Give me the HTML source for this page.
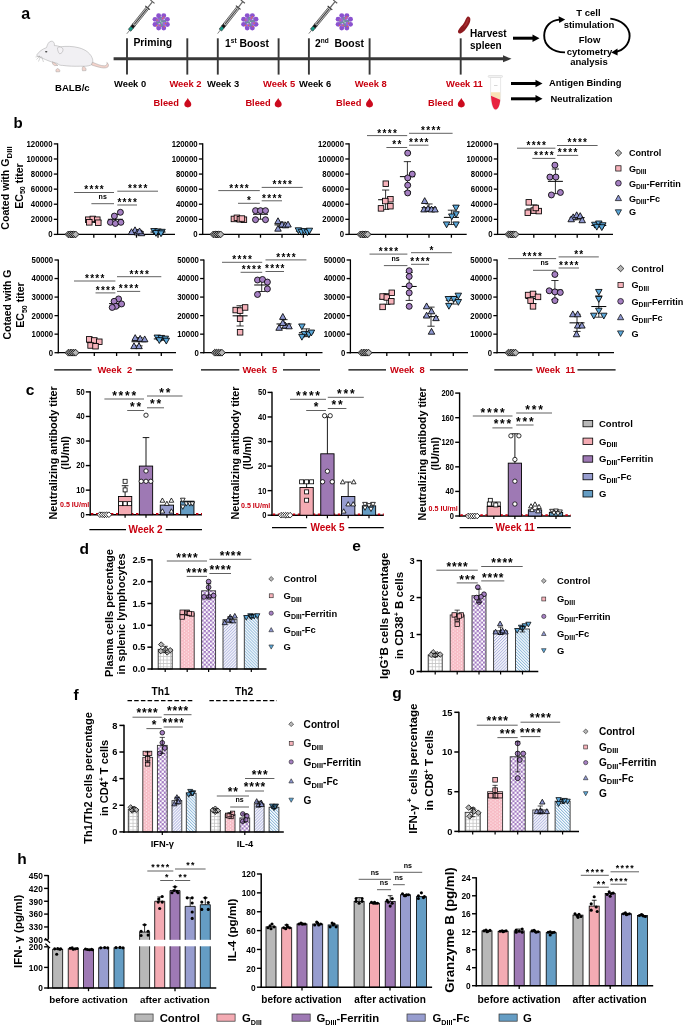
<!DOCTYPE html>
<html><head><meta charset="utf-8"><style>
html,body{margin:0;padding:0;background:#fff;width:685px;height:1025px;overflow:hidden;}
svg{display:block;will-change:transform;}
text{font-family:"Liberation Sans",sans-serif;}
</style></head><body>
<svg width="685" height="1025" viewBox="0 0 685 1025" font-family="Liberation Sans, sans-serif">
<rect x="0" y="0" width="685" height="1025" fill="#fff"/>
<defs>
<pattern id="pC" width="3.4" height="3.4" patternUnits="userSpaceOnUse"><rect width="3.4" height="3.4" fill="#fff"/><path d="M0,0.4 H3.4 M0.4,0 V3.4" stroke="#c2c2c2" stroke-width="0.8"/></pattern>
<pattern id="pGD" width="4.2" height="3.2" patternUnits="userSpaceOnUse"><rect width="4.2" height="3.2" fill="#fde3e7"/><rect x="0" y="0.3" width="3.3" height="0.95" fill="#f4a2af"/><rect x="2.1" y="1.9" width="3.3" height="0.95" fill="#f4a2af"/><rect x="-2.1" y="1.9" width="3.3" height="0.95" fill="#f4a2af"/></pattern>
<pattern id="pF" width="4.2" height="4.2" patternUnits="userSpaceOnUse"><rect width="4.2" height="4.2" fill="#a077c0"/><rect x="0" y="0" width="2.1" height="2.1" fill="#fff"/><rect x="2.1" y="2.1" width="2.1" height="2.1" fill="#fff"/></pattern>
<pattern id="pFc" width="2.1" height="2.1" patternUnits="userSpaceOnUse" patternTransform="rotate(45)"><rect width="2.1" height="2.1" fill="#fdfdff"/><path d="M0.5,0 V2.1" stroke="#9ba1d6" stroke-width="0.75"/></pattern>
<pattern id="pG" width="2.1" height="2.1" patternUnits="userSpaceOnUse" patternTransform="rotate(-45)"><rect width="2.1" height="2.1" fill="#fbfdff"/><path d="M0.5,0 V2.1" stroke="#74a9d2" stroke-width="0.75"/></pattern>
</defs>
<text x="21.2" y="18.8" font-size="16" text-anchor="start" fill="#000" font-weight="bold" >a</text>
<g stroke="#9a9a9a" stroke-width="0.45" stroke-linejoin="round">
<path d="M37,54.6 C39,51.5 42.5,49 46.5,47.6 C47.5,44.5 48.5,41.5 51.2,41.2 C53.5,41 54.8,43 54.4,45.6 C56.5,45.5 58.5,46.2 60.5,46.8 C66,46 73,46.2 79,47.8 C86,49.6 91.2,54 92.6,59.2 C93.3,62 92.5,64.3 90.5,65.2 C87.5,66.4 84,66.3 80.5,66.2 C75,66.4 68,66.2 62.5,65.4 C60,65.6 58.6,64.6 57.4,63.4 C53,62.6 49,61.2 45.5,59.6 C42.5,58.2 39.2,57 37.3,56 C36.6,55.6 36.6,55 37,54.6 Z" fill="#f1f0f3"/>
<path d="M57.5,47.8 C59.5,46.2 62.5,47 63,49.5 C63.2,51.8 61.5,53.6 59.6,53.8 C58.2,52.5 57.5,50 57.5,47.8 Z" fill="#f5f3f6"/>
<path d="M52.5,61.8 C54.5,62.8 56.5,64 58,65.4 L54.5,65.6 C53,64.8 52,63.5 52.5,61.8 Z" fill="#f2d4cc"/>
<path d="M57.5,68.5 C59.5,69 60.5,70.8 59.6,71.8 L56,71.8 C55.4,70.4 56.2,69 57.5,68.5 Z" fill="#f2d4cc"/>
<path d="M83,66.4 C85,66.6 86.6,68.5 86,70.6 L82.5,70.8 C82,69.2 82.2,67.6 83,66.4 Z" fill="#f2d4cc"/>
<path d="M92.4,62.2 C97,64 101,66 104.5,65.8 C106.5,65.6 107.5,64 106.8,62.4 C108.6,63.6 109.2,65.8 107.6,67.2 C104.5,69 99.5,67.5 91.5,65 Z" fill="#f3d3cb"/>
</g>
<ellipse cx="46.2" cy="51.8" rx="1.2" ry="0.8" fill="#444"/>
<g stroke="#888" stroke-width="0.35" fill="none"><path d="M40,56 L36.5,59.5 M40.5,56.5 L38.5,61.5 M41.5,56.5 L43.5,62 M40,56 L35.5,57"/></g>
<text x="55" y="90.7" font-size="9.6" text-anchor="start" fill="#000" font-weight="bold" >BALB/c</text>
<line x1="113.6" y1="58.8" x2="504" y2="58.8" stroke="#383838" stroke-width="3" />
<polygon points="503,55.3 511.5,58.8 503,62.3" fill="#383838" stroke="none" stroke-width="0"/>
<line x1="127" y1="38.3" x2="127" y2="74.6" stroke="#383838" stroke-width="1.9" />
<line x1="187.3" y1="38.3" x2="187.3" y2="74.6" stroke="#383838" stroke-width="1.9" />
<line x1="217.8" y1="38.3" x2="217.8" y2="74.6" stroke="#383838" stroke-width="1.9" />
<line x1="278.6" y1="38.3" x2="278.6" y2="74.6" stroke="#383838" stroke-width="1.9" />
<line x1="308.9" y1="38.3" x2="308.9" y2="74.6" stroke="#383838" stroke-width="1.9" />
<line x1="369.6" y1="38.3" x2="369.6" y2="74.6" stroke="#383838" stroke-width="1.9" />
<line x1="460.7" y1="38.3" x2="460.7" y2="74.6" stroke="#383838" stroke-width="1.9" />
<text x="114" y="87" font-size="9.4" text-anchor="start" fill="#000" font-weight="bold" >Week 0</text>
<text x="169.4" y="87" font-size="9.4" text-anchor="start" fill="#c8000f" font-weight="bold" >Week 2</text>
<text x="207" y="87" font-size="9.4" text-anchor="start" fill="#000" font-weight="bold" >Week 3</text>
<text x="263" y="87" font-size="9.4" text-anchor="start" fill="#c8000f" font-weight="bold" >Week 5</text>
<text x="299" y="87" font-size="9.4" text-anchor="start" fill="#000" font-weight="bold" >Week 6</text>
<text x="354.7" y="87" font-size="9.4" text-anchor="start" fill="#c8000f" font-weight="bold" >Week 8</text>
<text x="446" y="87" font-size="9.4" text-anchor="start" fill="#c8000f" font-weight="bold" >Week 11</text>
<text x="153.6" y="105.9" font-size="9.3" text-anchor="start" fill="#c8000f" font-weight="bold" >Bleed</text>
<path d="M187.8,98 C188.4,100 191.3,102.05 191.3,104.12 A3.5,3.32 0 0 1 184.3,104.12 C184.3,102.05 187.2,100 187.8,98 Z" fill="#cc0a1e"/>
<text x="245.4" y="105.9" font-size="9.3" text-anchor="start" fill="#c8000f" font-weight="bold" >Bleed</text>
<path d="M278.2,98 C278.8,100 281.7,102.05 281.7,104.12 A3.5,3.32 0 0 1 274.7,104.12 C274.7,102.05 277.6,100 278.2,98 Z" fill="#cc0a1e"/>
<text x="336" y="105.9" font-size="9.3" text-anchor="start" fill="#c8000f" font-weight="bold" >Bleed</text>
<path d="M369.5,98 C370.1,100 373,102.05 373,104.12 A3.5,3.32 0 0 1 366,104.12 C366,102.05 368.9,100 369.5,98 Z" fill="#cc0a1e"/>
<text x="428" y="105.9" font-size="9.3" text-anchor="start" fill="#c8000f" font-weight="bold" >Bleed</text>
<path d="M461.3,98 C461.9,100 464.8,102.05 464.8,104.12 A3.5,3.32 0 0 1 457.8,104.12 C457.8,102.05 460.7,100 461.3,98 Z" fill="#cc0a1e"/>
<text x="133.4" y="46.3" font-size="10.4" text-anchor="start" fill="#000" font-weight="bold" >Priming</text>
<text x="225" y="47" font-size="10.4" text-anchor="start" fill="#000" font-weight="bold" >1<tspan font-size="6.5" dy="-3.6">st</tspan><tspan dy="3.6"> Boost</tspan></text>
<text x="315" y="47" font-size="10.4" text-anchor="start" fill="#000" font-weight="bold" >2<tspan font-size="6.5" dy="-3.6">nd</tspan><tspan dy="3.6">&#160; Boost</tspan></text>
<g transform="translate(126.8,33.8) rotate(-51.34)"><line x1="0" y1="0" x2="5" y2="0" stroke="#444" stroke-width="0.6"/><rect x="4.5" y="-1.6" width="4" height="3.2" fill="#149a86" stroke="#222" stroke-width="0.5"/><rect x="8.5" y="-1.6" width="3" height="3.2" fill="#111" stroke="#111" stroke-width="0.5"/><rect x="11" y="-1.6" width="22" height="3.2" fill="#d9d9d9" stroke="#222" stroke-width="0.6"/><line x1="12" y1="0" x2="32" y2="0" stroke="#444" stroke-width="1.1"/><line x1="33.3" y1="-3" x2="33.3" y2="3" stroke="#333" stroke-width="1"/><line x1="33.5" y1="0" x2="40.62" y2="0" stroke="#666" stroke-width="1.2"/><line x1="41.12" y1="-2.6" x2="41.12" y2="2.6" stroke="#555" stroke-width="1.1"/></g>
<g transform="translate(217.6,33.6) rotate(-51.69)"><line x1="0" y1="0" x2="5" y2="0" stroke="#444" stroke-width="0.6"/><rect x="4.5" y="-1.6" width="4" height="3.2" fill="#149a86" stroke="#222" stroke-width="0.5"/><rect x="8.5" y="-1.6" width="3" height="3.2" fill="#111" stroke="#111" stroke-width="0.5"/><rect x="11" y="-1.6" width="22" height="3.2" fill="#d9d9d9" stroke="#222" stroke-width="0.6"/><line x1="12" y1="0" x2="32" y2="0" stroke="#444" stroke-width="1.1"/><line x1="33.3" y1="-3" x2="33.3" y2="3" stroke="#333" stroke-width="1"/><line x1="33.5" y1="0" x2="40.29" y2="0" stroke="#666" stroke-width="1.2"/><line x1="40.79" y1="-2.6" x2="40.79" y2="2.6" stroke="#555" stroke-width="1.1"/></g>
<g transform="translate(308.8,33.6) rotate(-50.51)"><line x1="0" y1="0" x2="5" y2="0" stroke="#444" stroke-width="0.6"/><rect x="4.5" y="-1.6" width="4" height="3.2" fill="#149a86" stroke="#222" stroke-width="0.5"/><rect x="8.5" y="-1.6" width="3" height="3.2" fill="#111" stroke="#111" stroke-width="0.5"/><rect x="11" y="-1.6" width="22" height="3.2" fill="#d9d9d9" stroke="#222" stroke-width="0.6"/><line x1="12" y1="0" x2="32" y2="0" stroke="#444" stroke-width="1.1"/><line x1="33.3" y1="-3" x2="33.3" y2="3" stroke="#333" stroke-width="1"/><line x1="33.5" y1="0" x2="40.98" y2="0" stroke="#666" stroke-width="1.2"/><line x1="41.48" y1="-2.6" x2="41.48" y2="2.6" stroke="#555" stroke-width="1.1"/></g>
<g transform="translate(161.2,21.9)"><circle r="5.2" fill="#6f8f9e"/><circle cx="6.19" cy="2.56" r="2.45" fill="#8b52cf"/><circle cx="2.56" cy="6.19" r="2.45" fill="#8b52cf"/><circle cx="-2.56" cy="6.19" r="2.45" fill="#8b52cf"/><circle cx="-6.19" cy="2.56" r="2.45" fill="#8b52cf"/><circle cx="-6.19" cy="-2.56" r="2.45" fill="#8b52cf"/><circle cx="-2.56" cy="-6.19" r="2.45" fill="#8b52cf"/><circle cx="2.56" cy="-6.19" r="2.45" fill="#8b52cf"/><circle cx="6.19" cy="-2.56" r="2.45" fill="#8b52cf"/><circle cx="1.85" cy="-3.2" r="1.9" fill="#9d63dc"/><circle cx="3.2" cy="1.85" r="1.9" fill="#9d63dc"/><circle cx="-1.85" cy="3.2" r="1.9" fill="#9d63dc"/><circle cx="-3.2" cy="-1.85" r="1.9" fill="#9d63dc"/><circle cx="-4.2" cy="-1.8" r="0.75" fill="#e4664f"/><circle cx="1.5" cy="-3.5" r="0.75" fill="#e4664f"/><circle cx="4.4" cy="1.5" r="0.75" fill="#e4664f"/><circle cx="-1.2" cy="3.6" r="0.75" fill="#e4664f"/><circle cx="3.2" cy="4.8" r="0.75" fill="#e4664f"/><circle cx="-4.5" cy="3.8" r="0.75" fill="#e4664f"/><circle cx="2.6" cy="-5" r="0.75" fill="#e4664f"/><circle cx="-0.5" cy="-0.8" r="0.6" fill="#d8e4ea"/><circle cx="0.8" cy="0.9" r="0.6" fill="#d8e4ea"/><circle cx="-2" cy="1.8" r="0.6" fill="#d8e4ea"/><circle cx="3" cy="-2.5" r="0.6" fill="#d8e4ea"/></g>
<g transform="translate(249.8,21.8)"><circle r="5.2" fill="#6f8f9e"/><circle cx="6.19" cy="2.56" r="2.45" fill="#8b52cf"/><circle cx="2.56" cy="6.19" r="2.45" fill="#8b52cf"/><circle cx="-2.56" cy="6.19" r="2.45" fill="#8b52cf"/><circle cx="-6.19" cy="2.56" r="2.45" fill="#8b52cf"/><circle cx="-6.19" cy="-2.56" r="2.45" fill="#8b52cf"/><circle cx="-2.56" cy="-6.19" r="2.45" fill="#8b52cf"/><circle cx="2.56" cy="-6.19" r="2.45" fill="#8b52cf"/><circle cx="6.19" cy="-2.56" r="2.45" fill="#8b52cf"/><circle cx="1.85" cy="-3.2" r="1.9" fill="#9d63dc"/><circle cx="3.2" cy="1.85" r="1.9" fill="#9d63dc"/><circle cx="-1.85" cy="3.2" r="1.9" fill="#9d63dc"/><circle cx="-3.2" cy="-1.85" r="1.9" fill="#9d63dc"/><circle cx="-4.2" cy="-1.8" r="0.75" fill="#e4664f"/><circle cx="1.5" cy="-3.5" r="0.75" fill="#e4664f"/><circle cx="4.4" cy="1.5" r="0.75" fill="#e4664f"/><circle cx="-1.2" cy="3.6" r="0.75" fill="#e4664f"/><circle cx="3.2" cy="4.8" r="0.75" fill="#e4664f"/><circle cx="-4.5" cy="3.8" r="0.75" fill="#e4664f"/><circle cx="2.6" cy="-5" r="0.75" fill="#e4664f"/><circle cx="-0.5" cy="-0.8" r="0.6" fill="#d8e4ea"/><circle cx="0.8" cy="0.9" r="0.6" fill="#d8e4ea"/><circle cx="-2" cy="1.8" r="0.6" fill="#d8e4ea"/><circle cx="3" cy="-2.5" r="0.6" fill="#d8e4ea"/></g>
<g transform="translate(344.3,21.8)"><circle r="5.2" fill="#6f8f9e"/><circle cx="6.19" cy="2.56" r="2.45" fill="#8b52cf"/><circle cx="2.56" cy="6.19" r="2.45" fill="#8b52cf"/><circle cx="-2.56" cy="6.19" r="2.45" fill="#8b52cf"/><circle cx="-6.19" cy="2.56" r="2.45" fill="#8b52cf"/><circle cx="-6.19" cy="-2.56" r="2.45" fill="#8b52cf"/><circle cx="-2.56" cy="-6.19" r="2.45" fill="#8b52cf"/><circle cx="2.56" cy="-6.19" r="2.45" fill="#8b52cf"/><circle cx="6.19" cy="-2.56" r="2.45" fill="#8b52cf"/><circle cx="1.85" cy="-3.2" r="1.9" fill="#9d63dc"/><circle cx="3.2" cy="1.85" r="1.9" fill="#9d63dc"/><circle cx="-1.85" cy="3.2" r="1.9" fill="#9d63dc"/><circle cx="-3.2" cy="-1.85" r="1.9" fill="#9d63dc"/><circle cx="-4.2" cy="-1.8" r="0.75" fill="#e4664f"/><circle cx="1.5" cy="-3.5" r="0.75" fill="#e4664f"/><circle cx="4.4" cy="1.5" r="0.75" fill="#e4664f"/><circle cx="-1.2" cy="3.6" r="0.75" fill="#e4664f"/><circle cx="3.2" cy="4.8" r="0.75" fill="#e4664f"/><circle cx="-4.5" cy="3.8" r="0.75" fill="#e4664f"/><circle cx="2.6" cy="-5" r="0.75" fill="#e4664f"/><circle cx="-0.5" cy="-0.8" r="0.6" fill="#d8e4ea"/><circle cx="0.8" cy="0.9" r="0.6" fill="#d8e4ea"/><circle cx="-2" cy="1.8" r="0.6" fill="#d8e4ea"/><circle cx="3" cy="-2.5" r="0.6" fill="#d8e4ea"/></g>
<path d="M469.5,17.2 C471,18.5 470.5,22 468.3,25.5 C466.2,29 463.5,32.5 460.5,33.4 C458.6,33.9 457.4,32.6 458.2,30.6 C459.4,27.6 462.5,25.8 464.2,22.6 C465.5,20 466.2,17.6 467.4,16.8 C468.2,16.3 469,16.6 469.5,17.2 Z" fill="#8e1a1f"/>
<path d="M468.6,18.5 C469.2,20 467.8,23 466.4,25 C465.2,26.5 464,27.2 463.6,26.6 C464.8,24.5 466.2,22.5 467,20 C467.4,18.8 468,18 468.6,18.5 Z" fill="#b23a3a" opacity="0.7"/>
<text x="470" y="37" font-size="10" text-anchor="start" fill="#000" font-weight="bold" >Harvest</text>
<text x="470" y="49" font-size="10" text-anchor="start" fill="#000" font-weight="bold" >spleen</text>
<line x1="513" y1="38.2" x2="533.5" y2="38.2" stroke="#000" stroke-width="3" />
<polygon points="532.5,34.4 539.5,38.2 532.5,42" fill="#000" stroke="none" stroke-width="0"/>
<line x1="511" y1="83.5" x2="536.5" y2="83.5" stroke="#000" stroke-width="3" />
<polygon points="535.5,79.7 542.5,83.5 535.5,87.3" fill="#000" stroke="none" stroke-width="0"/>
<line x1="511" y1="98.8" x2="536.5" y2="98.8" stroke="#000" stroke-width="3" />
<polygon points="535.5,95 542.5,98.8 535.5,102.6" fill="#000" stroke="none" stroke-width="0"/>
<path d="M565,52.4 C552,52.2 544,45 544.2,35.5 C544.4,26 551,20.2 559.5,19.6" fill="none" stroke="#000" stroke-width="1.9"/>
<polygon points="558.6,16.3 565.2,19.4 559.2,23" fill="#000" stroke="none" stroke-width="0"/>
<path d="M610.3,18.6 C621.5,20 629.8,27 629.6,36 C629.4,44.5 623,50.5 615.5,52" fill="none" stroke="#000" stroke-width="1.9"/>
<polygon points="617.5,48.6 611.2,52.4 617.6,55.6" fill="#000" stroke="none" stroke-width="0"/>
<text x="588.5" y="16.3" font-size="9.5" text-anchor="middle" fill="#000" font-weight="bold" >T cell</text>
<text x="589" y="27.9" font-size="9.5" text-anchor="middle" fill="#000" font-weight="bold" >stimulation</text>
<text x="589.5" y="43" font-size="9.5" text-anchor="middle" fill="#000" font-weight="bold" >Flow</text>
<text x="589.5" y="55.2" font-size="9.5" text-anchor="middle" fill="#000" font-weight="bold" >cytometry</text>
<text x="589" y="64.9" font-size="9.5" text-anchor="middle" fill="#000" font-weight="bold" >analysis</text>
<path d="M490.6,77.4 L490.6,95 C490.6,101 492.8,109.8 495.6,109.8 C498.4,109.8 500.6,101 500.6,95 L500.6,77.4 Z" fill="#fff" stroke="#d8d8d8" stroke-width="0.6"/>
<path d="M491,92.2 L500.2,92.2 L500.2,99.8 L491,95.8 Z" fill="#f9e3b6"/>
<path d="M491,95.8 L500.2,99.8 C500,104 498.5,109.6 495.6,109.6 C492.8,109.6 491.2,102 491,95.8 Z" fill="#e8223f"/>
<rect x="488.2" y="75.5" width="14.3" height="1.9" fill="#f4f4f4" stroke="#d0d0d0" stroke-width="0.5" rx="0.8"/>
<line x1="494" y1="85.5" x2="497.5" y2="85.5" stroke="#999" stroke-width="0.4" />
<text x="549" y="85.8" font-size="9.4" text-anchor="start" fill="#000" font-weight="bold" >Antigen Binding</text>
<text x="550.5" y="102" font-size="9.4" text-anchor="start" fill="#000" font-weight="bold" >Neutralization</text>
<text x="13.4" y="128" font-size="15" text-anchor="start" fill="#000" font-weight="bold" >b</text>
<line x1="57.6" y1="143.3" x2="57.6" y2="235.05" stroke="#000" stroke-width="1.3" />
<line x1="53.8" y1="234.4" x2="57.6" y2="234.4" stroke="#000" stroke-width="1.3" />
<text transform="translate(52.5 237.31) scale(0.95 1)" font-size="8.2" text-anchor="end" fill="#000" font-weight="bold" >0</text>
<line x1="53.8" y1="219.32" x2="57.6" y2="219.32" stroke="#000" stroke-width="1.3" />
<text transform="translate(52.5 222.23) scale(0.95 1)" font-size="8.2" text-anchor="end" fill="#000" font-weight="bold" >20000</text>
<line x1="53.8" y1="204.23" x2="57.6" y2="204.23" stroke="#000" stroke-width="1.3" />
<text transform="translate(52.5 207.14) scale(0.95 1)" font-size="8.2" text-anchor="end" fill="#000" font-weight="bold" >40000</text>
<line x1="53.8" y1="189.15" x2="57.6" y2="189.15" stroke="#000" stroke-width="1.3" />
<text transform="translate(52.5 192.06) scale(0.95 1)" font-size="8.2" text-anchor="end" fill="#000" font-weight="bold" >60000</text>
<line x1="53.8" y1="174.07" x2="57.6" y2="174.07" stroke="#000" stroke-width="1.3" />
<text transform="translate(52.5 176.98) scale(0.95 1)" font-size="8.2" text-anchor="end" fill="#000" font-weight="bold" >80000</text>
<line x1="53.8" y1="158.98" x2="57.6" y2="158.98" stroke="#000" stroke-width="1.3" />
<text transform="translate(52.5 161.89) scale(0.95 1)" font-size="8.2" text-anchor="end" fill="#000" font-weight="bold" >100000</text>
<line x1="53.8" y1="143.9" x2="57.6" y2="143.9" stroke="#000" stroke-width="1.3" />
<text transform="translate(52.5 146.81) scale(0.95 1)" font-size="8.2" text-anchor="end" fill="#000" font-weight="bold" >120000</text>
<line x1="56.95" y1="234.4" x2="175" y2="234.4" stroke="#000" stroke-width="1.3" />
<line x1="72" y1="234.4" x2="72" y2="237.7" stroke="#000" stroke-width="1.3" />
<line x1="93.8" y1="234.4" x2="93.8" y2="237.7" stroke="#000" stroke-width="1.3" />
<line x1="115.4" y1="234.4" x2="115.4" y2="237.7" stroke="#000" stroke-width="1.3" />
<line x1="136.5" y1="234.4" x2="136.5" y2="237.7" stroke="#000" stroke-width="1.3" />
<line x1="158" y1="234.4" x2="158" y2="237.7" stroke="#000" stroke-width="1.3" />
<line x1="93.8" y1="218.95" x2="93.8" y2="222.39" stroke="#000" stroke-width="0.8" />
<line x1="90.2" y1="218.95" x2="97.4" y2="218.95" stroke="#000" stroke-width="0.8" />
<line x1="90.2" y1="222.39" x2="97.4" y2="222.39" stroke="#000" stroke-width="0.8" />
<line x1="86.3" y1="220.67" x2="101.3" y2="220.67" stroke="#000" stroke-width="1" />
<line x1="115.4" y1="214.43" x2="115.4" y2="224.18" stroke="#000" stroke-width="0.8" />
<line x1="111.8" y1="214.43" x2="119" y2="214.43" stroke="#000" stroke-width="0.8" />
<line x1="111.8" y1="224.18" x2="119" y2="224.18" stroke="#000" stroke-width="0.8" />
<line x1="107.9" y1="219.3" x2="122.9" y2="219.3" stroke="#000" stroke-width="1" />
<line x1="136.5" y1="230.76" x2="136.5" y2="233.06" stroke="#000" stroke-width="0.8" />
<line x1="132.9" y1="230.76" x2="140.1" y2="230.76" stroke="#000" stroke-width="0.8" />
<line x1="132.9" y1="233.06" x2="140.1" y2="233.06" stroke="#000" stroke-width="0.8" />
<line x1="129" y1="231.91" x2="144" y2="231.91" stroke="#000" stroke-width="1" />
<line x1="158" y1="231.09" x2="158" y2="233.04" stroke="#000" stroke-width="0.8" />
<line x1="154.4" y1="231.09" x2="161.6" y2="231.09" stroke="#000" stroke-width="0.8" />
<line x1="154.4" y1="233.04" x2="161.6" y2="233.04" stroke="#000" stroke-width="0.8" />
<line x1="150.5" y1="232.06" x2="165.5" y2="232.06" stroke="#000" stroke-width="1" />
<polygon points="68.4,230.99 71.81,234.4 68.4,237.81 64.99,234.4" fill="#b6b6b6" stroke="#000" stroke-width="0.85"/>
<polygon points="70.2,230.99 73.61,234.4 70.2,237.81 66.79,234.4" fill="#b6b6b6" stroke="#000" stroke-width="0.85"/>
<polygon points="72,230.99 75.41,234.4 72,237.81 68.59,234.4" fill="#b6b6b6" stroke="#000" stroke-width="0.85"/>
<polygon points="73.8,230.99 77.21,234.4 73.8,237.81 70.39,234.4" fill="#b6b6b6" stroke="#000" stroke-width="0.85"/>
<polygon points="75.6,230.99 79.01,234.4 75.6,237.81 72.19,234.4" fill="#b6b6b6" stroke="#000" stroke-width="0.85"/>
<rect x="85.54" y="216.93" width="5.52" height="5.52" fill="#f7b3bb" stroke="#000" stroke-width="0.85" />
<rect x="90.04" y="216.18" width="5.52" height="5.52" fill="#f7b3bb" stroke="#000" stroke-width="0.85" />
<rect x="94.54" y="216.93" width="5.52" height="5.52" fill="#f7b3bb" stroke="#000" stroke-width="0.85" />
<rect x="86.54" y="219.57" width="5.52" height="5.52" fill="#f7b3bb" stroke="#000" stroke-width="0.85" />
<rect x="95.54" y="219.95" width="5.52" height="5.52" fill="#f7b3bb" stroke="#000" stroke-width="0.85" />
<circle cx="120.4" cy="212.3" r="2.99" fill="#a57fc2" stroke="#000" stroke-width="0.85"/>
<circle cx="114.4" cy="216.07" r="2.99" fill="#a57fc2" stroke="#000" stroke-width="0.85"/>
<circle cx="110.4" cy="222.33" r="2.99" fill="#a57fc2" stroke="#000" stroke-width="0.85"/>
<circle cx="115.4" cy="223.46" r="2.99" fill="#a57fc2" stroke="#000" stroke-width="0.85"/>
<circle cx="120.9" cy="222.33" r="2.99" fill="#a57fc2" stroke="#000" stroke-width="0.85"/>
<polygon points="135,226.84 138.25,232.69 131.75,232.69" fill="#8f98d1" stroke="#000" stroke-width="0.85"/>
<polygon points="131.5,228.73 134.75,234.58 128.25,234.58" fill="#8f98d1" stroke="#000" stroke-width="0.85"/>
<polygon points="137.5,229.1 140.75,234.95 134.25,234.95" fill="#8f98d1" stroke="#000" stroke-width="0.85"/>
<polygon points="141.5,229.86 144.75,235.71 138.25,235.71" fill="#8f98d1" stroke="#000" stroke-width="0.85"/>
<polygon points="139.5,227.97 142.75,233.82 136.25,233.82" fill="#8f98d1" stroke="#000" stroke-width="0.85"/>
<polygon points="154,234.42 157.25,228.57 150.75,228.57" fill="#5ba7d9" stroke="#000" stroke-width="0.85"/>
<polygon points="158,234.8 161.25,228.95 154.75,228.95" fill="#5ba7d9" stroke="#000" stroke-width="0.85"/>
<polygon points="162,235.17 165.25,229.32 158.75,229.32" fill="#5ba7d9" stroke="#000" stroke-width="0.85"/>
<polygon points="156,236.3 159.25,230.45 152.75,230.45" fill="#5ba7d9" stroke="#000" stroke-width="0.85"/>
<polygon points="161,236.68 164.25,230.83 157.75,230.83" fill="#5ba7d9" stroke="#000" stroke-width="0.85"/>
<line x1="74" y1="192.5" x2="114" y2="192.5" stroke="#444" stroke-width="0.85" />
<text x="94.65" y="193.4" font-size="10" text-anchor="middle" fill="#000" font-weight="bold" letter-spacing="1.3">****</text>
<line x1="91.4" y1="203.7" x2="114" y2="203.7" stroke="#444" stroke-width="0.85" />
<text x="102.7" y="198.8" font-size="7" text-anchor="middle" fill="#000" font-weight="bold" >ns</text>
<line x1="117.3" y1="191.2" x2="158" y2="191.2" stroke="#444" stroke-width="0.85" />
<text x="138.3" y="192.1" font-size="10" text-anchor="middle" fill="#000" font-weight="bold" letter-spacing="1.3">****</text>
<line x1="117.3" y1="205" x2="137" y2="205" stroke="#444" stroke-width="0.85" />
<text x="127.8" y="205.9" font-size="10" text-anchor="middle" fill="#000" font-weight="bold" letter-spacing="1.3">****</text>
<line x1="202.7" y1="143.3" x2="202.7" y2="235.05" stroke="#000" stroke-width="1.3" />
<line x1="198.9" y1="234.4" x2="202.7" y2="234.4" stroke="#000" stroke-width="1.3" />
<text transform="translate(197.6 237.31) scale(0.95 1)" font-size="8.2" text-anchor="end" fill="#000" font-weight="bold" >0</text>
<line x1="198.9" y1="219.32" x2="202.7" y2="219.32" stroke="#000" stroke-width="1.3" />
<text transform="translate(197.6 222.23) scale(0.95 1)" font-size="8.2" text-anchor="end" fill="#000" font-weight="bold" >20000</text>
<line x1="198.9" y1="204.23" x2="202.7" y2="204.23" stroke="#000" stroke-width="1.3" />
<text transform="translate(197.6 207.14) scale(0.95 1)" font-size="8.2" text-anchor="end" fill="#000" font-weight="bold" >40000</text>
<line x1="198.9" y1="189.15" x2="202.7" y2="189.15" stroke="#000" stroke-width="1.3" />
<text transform="translate(197.6 192.06) scale(0.95 1)" font-size="8.2" text-anchor="end" fill="#000" font-weight="bold" >60000</text>
<line x1="198.9" y1="174.07" x2="202.7" y2="174.07" stroke="#000" stroke-width="1.3" />
<text transform="translate(197.6 176.98) scale(0.95 1)" font-size="8.2" text-anchor="end" fill="#000" font-weight="bold" >80000</text>
<line x1="198.9" y1="158.98" x2="202.7" y2="158.98" stroke="#000" stroke-width="1.3" />
<text transform="translate(197.6 161.89) scale(0.95 1)" font-size="8.2" text-anchor="end" fill="#000" font-weight="bold" >100000</text>
<line x1="198.9" y1="143.9" x2="202.7" y2="143.9" stroke="#000" stroke-width="1.3" />
<text transform="translate(197.6 146.81) scale(0.95 1)" font-size="8.2" text-anchor="end" fill="#000" font-weight="bold" >120000</text>
<line x1="202.05" y1="234.4" x2="320" y2="234.4" stroke="#000" stroke-width="1.3" />
<line x1="217" y1="234.4" x2="217" y2="237.7" stroke="#000" stroke-width="1.3" />
<line x1="238.9" y1="234.4" x2="238.9" y2="237.7" stroke="#000" stroke-width="1.3" />
<line x1="260.5" y1="234.4" x2="260.5" y2="237.7" stroke="#000" stroke-width="1.3" />
<line x1="282" y1="234.4" x2="282" y2="237.7" stroke="#000" stroke-width="1.3" />
<line x1="303.4" y1="234.4" x2="303.4" y2="237.7" stroke="#000" stroke-width="1.3" />
<line x1="238.9" y1="218.14" x2="238.9" y2="219.59" stroke="#000" stroke-width="0.8" />
<line x1="235.3" y1="218.14" x2="242.5" y2="218.14" stroke="#000" stroke-width="0.8" />
<line x1="235.3" y1="219.59" x2="242.5" y2="219.59" stroke="#000" stroke-width="0.8" />
<line x1="231.4" y1="218.86" x2="246.4" y2="218.86" stroke="#000" stroke-width="1" />
<line x1="260.5" y1="209.31" x2="260.5" y2="219.22" stroke="#000" stroke-width="0.8" />
<line x1="256.9" y1="209.31" x2="264.1" y2="209.31" stroke="#000" stroke-width="0.8" />
<line x1="256.9" y1="219.22" x2="264.1" y2="219.22" stroke="#000" stroke-width="0.8" />
<line x1="253" y1="214.26" x2="268" y2="214.26" stroke="#000" stroke-width="1" />
<line x1="282" y1="222.21" x2="282" y2="227.58" stroke="#000" stroke-width="0.8" />
<line x1="278.4" y1="222.21" x2="285.6" y2="222.21" stroke="#000" stroke-width="0.8" />
<line x1="278.4" y1="227.58" x2="285.6" y2="227.58" stroke="#000" stroke-width="0.8" />
<line x1="274.5" y1="224.9" x2="289.5" y2="224.9" stroke="#000" stroke-width="1" />
<line x1="303.4" y1="230.38" x2="303.4" y2="231.94" stroke="#000" stroke-width="0.8" />
<line x1="299.8" y1="230.38" x2="307" y2="230.38" stroke="#000" stroke-width="0.8" />
<line x1="299.8" y1="231.94" x2="307" y2="231.94" stroke="#000" stroke-width="0.8" />
<line x1="295.9" y1="231.16" x2="310.9" y2="231.16" stroke="#000" stroke-width="1" />
<polygon points="213.4,230.99 216.81,234.4 213.4,237.81 209.99,234.4" fill="#b6b6b6" stroke="#000" stroke-width="0.85"/>
<polygon points="215.2,230.99 218.61,234.4 215.2,237.81 211.79,234.4" fill="#b6b6b6" stroke="#000" stroke-width="0.85"/>
<polygon points="217,230.99 220.41,234.4 217,237.81 213.59,234.4" fill="#b6b6b6" stroke="#000" stroke-width="0.85"/>
<polygon points="218.8,230.99 222.21,234.4 218.8,237.81 215.39,234.4" fill="#b6b6b6" stroke="#000" stroke-width="0.85"/>
<polygon points="220.6,230.99 224.01,234.4 220.6,237.81 217.19,234.4" fill="#b6b6b6" stroke="#000" stroke-width="0.85"/>
<rect x="231.14" y="216.18" width="5.52" height="5.52" fill="#f7b3bb" stroke="#000" stroke-width="0.85" />
<rect x="234.14" y="215.05" width="5.52" height="5.52" fill="#f7b3bb" stroke="#000" stroke-width="0.85" />
<rect x="237.14" y="216.55" width="5.52" height="5.52" fill="#f7b3bb" stroke="#000" stroke-width="0.85" />
<rect x="241.14" y="216.93" width="5.52" height="5.52" fill="#f7b3bb" stroke="#000" stroke-width="0.85" />
<rect x="239.14" y="215.8" width="5.52" height="5.52" fill="#f7b3bb" stroke="#000" stroke-width="0.85" />
<circle cx="255.5" cy="210.64" r="2.99" fill="#a57fc2" stroke="#000" stroke-width="0.85"/>
<circle cx="260.5" cy="210.64" r="2.99" fill="#a57fc2" stroke="#000" stroke-width="0.85"/>
<circle cx="265.5" cy="210.64" r="2.99" fill="#a57fc2" stroke="#000" stroke-width="0.85"/>
<circle cx="255.5" cy="219.69" r="2.99" fill="#a57fc2" stroke="#000" stroke-width="0.85"/>
<circle cx="265.5" cy="219.69" r="2.99" fill="#a57fc2" stroke="#000" stroke-width="0.85"/>
<polygon points="278,217.79 281.25,223.64 274.75,223.64" fill="#8f98d1" stroke="#000" stroke-width="0.85"/>
<polygon points="278,225.33 281.25,231.18 274.75,231.18" fill="#8f98d1" stroke="#000" stroke-width="0.85"/>
<polygon points="282,221.18 285.25,227.03 278.75,227.03" fill="#8f98d1" stroke="#000" stroke-width="0.85"/>
<polygon points="285.5,221.94 288.75,227.79 282.25,227.79" fill="#8f98d1" stroke="#000" stroke-width="0.85"/>
<polygon points="288,221.18 291.25,227.03 284.75,227.03" fill="#8f98d1" stroke="#000" stroke-width="0.85"/>
<polygon points="298.4,233.66 301.65,227.81 295.15,227.81" fill="#5ba7d9" stroke="#000" stroke-width="0.85"/>
<polygon points="301.4,235.17 304.65,229.32 298.15,229.32" fill="#5ba7d9" stroke="#000" stroke-width="0.85"/>
<polygon points="304.4,234.42 307.65,228.57 301.15,228.57" fill="#5ba7d9" stroke="#000" stroke-width="0.85"/>
<polygon points="307.4,235.55 310.65,229.7 304.15,229.7" fill="#5ba7d9" stroke="#000" stroke-width="0.85"/>
<polygon points="309.4,234.04 312.65,228.19 306.15,228.19" fill="#5ba7d9" stroke="#000" stroke-width="0.85"/>
<line x1="218.3" y1="190.6" x2="259.8" y2="190.6" stroke="#444" stroke-width="0.85" />
<text x="239.7" y="191.5" font-size="10" text-anchor="middle" fill="#000" font-weight="bold" letter-spacing="1.3">****</text>
<line x1="238" y1="203.3" x2="259.8" y2="203.3" stroke="#444" stroke-width="0.85" />
<text x="249.55" y="204.2" font-size="10" text-anchor="middle" fill="#000" font-weight="bold" letter-spacing="1.3">*</text>
<line x1="261.7" y1="187.4" x2="302.7" y2="187.4" stroke="#444" stroke-width="0.85" />
<text x="282.85" y="188.3" font-size="10" text-anchor="middle" fill="#000" font-weight="bold" letter-spacing="1.3">****</text>
<line x1="261.7" y1="200.8" x2="282" y2="200.8" stroke="#444" stroke-width="0.85" />
<text x="272.5" y="201.7" font-size="10" text-anchor="middle" fill="#000" font-weight="bold" letter-spacing="1.3">****</text>
<line x1="349.1" y1="143.3" x2="349.1" y2="235.05" stroke="#000" stroke-width="1.3" />
<line x1="345.3" y1="234.4" x2="349.1" y2="234.4" stroke="#000" stroke-width="1.3" />
<text transform="translate(344 237.31) scale(0.95 1)" font-size="8.2" text-anchor="end" fill="#000" font-weight="bold" >0</text>
<line x1="345.3" y1="219.32" x2="349.1" y2="219.32" stroke="#000" stroke-width="1.3" />
<text transform="translate(344 222.23) scale(0.95 1)" font-size="8.2" text-anchor="end" fill="#000" font-weight="bold" >20000</text>
<line x1="345.3" y1="204.23" x2="349.1" y2="204.23" stroke="#000" stroke-width="1.3" />
<text transform="translate(344 207.14) scale(0.95 1)" font-size="8.2" text-anchor="end" fill="#000" font-weight="bold" >40000</text>
<line x1="345.3" y1="189.15" x2="349.1" y2="189.15" stroke="#000" stroke-width="1.3" />
<text transform="translate(344 192.06) scale(0.95 1)" font-size="8.2" text-anchor="end" fill="#000" font-weight="bold" >60000</text>
<line x1="345.3" y1="174.07" x2="349.1" y2="174.07" stroke="#000" stroke-width="1.3" />
<text transform="translate(344 176.98) scale(0.95 1)" font-size="8.2" text-anchor="end" fill="#000" font-weight="bold" >80000</text>
<line x1="345.3" y1="158.98" x2="349.1" y2="158.98" stroke="#000" stroke-width="1.3" />
<text transform="translate(344 161.89) scale(0.95 1)" font-size="8.2" text-anchor="end" fill="#000" font-weight="bold" >100000</text>
<line x1="345.3" y1="143.9" x2="349.1" y2="143.9" stroke="#000" stroke-width="1.3" />
<text transform="translate(344 146.81) scale(0.95 1)" font-size="8.2" text-anchor="end" fill="#000" font-weight="bold" >120000</text>
<line x1="348.45" y1="234.4" x2="466.7" y2="234.4" stroke="#000" stroke-width="1.3" />
<line x1="364" y1="234.4" x2="364" y2="237.7" stroke="#000" stroke-width="1.3" />
<line x1="385.6" y1="234.4" x2="385.6" y2="237.7" stroke="#000" stroke-width="1.3" />
<line x1="407.4" y1="234.4" x2="407.4" y2="237.7" stroke="#000" stroke-width="1.3" />
<line x1="429" y1="234.4" x2="429" y2="237.7" stroke="#000" stroke-width="1.3" />
<line x1="451.4" y1="234.4" x2="451.4" y2="237.7" stroke="#000" stroke-width="1.3" />
<line x1="385.6" y1="190.04" x2="385.6" y2="209.41" stroke="#000" stroke-width="0.8" />
<line x1="382" y1="190.04" x2="389.2" y2="190.04" stroke="#000" stroke-width="0.8" />
<line x1="382" y1="209.41" x2="389.2" y2="209.41" stroke="#000" stroke-width="0.8" />
<line x1="378.1" y1="199.72" x2="393.1" y2="199.72" stroke="#000" stroke-width="1" />
<line x1="407.4" y1="161.64" x2="407.4" y2="191.66" stroke="#000" stroke-width="0.8" />
<line x1="403.8" y1="161.64" x2="411" y2="161.64" stroke="#000" stroke-width="0.8" />
<line x1="403.8" y1="191.66" x2="411" y2="191.66" stroke="#000" stroke-width="0.8" />
<line x1="399.9" y1="176.65" x2="414.9" y2="176.65" stroke="#000" stroke-width="1" />
<line x1="429" y1="203.96" x2="429" y2="211.38" stroke="#000" stroke-width="0.8" />
<line x1="425.4" y1="203.96" x2="432.6" y2="203.96" stroke="#000" stroke-width="0.8" />
<line x1="425.4" y1="211.38" x2="432.6" y2="211.38" stroke="#000" stroke-width="0.8" />
<line x1="421.5" y1="207.67" x2="436.5" y2="207.67" stroke="#000" stroke-width="1" />
<line x1="451.4" y1="210.2" x2="451.4" y2="224.54" stroke="#000" stroke-width="0.8" />
<line x1="447.8" y1="210.2" x2="455" y2="210.2" stroke="#000" stroke-width="0.8" />
<line x1="447.8" y1="224.54" x2="455" y2="224.54" stroke="#000" stroke-width="0.8" />
<line x1="443.9" y1="217.37" x2="458.9" y2="217.37" stroke="#000" stroke-width="1" />
<polygon points="360.4,230.99 363.81,234.4 360.4,237.81 356.99,234.4" fill="#b6b6b6" stroke="#000" stroke-width="0.85"/>
<polygon points="362.2,230.99 365.61,234.4 362.2,237.81 358.79,234.4" fill="#b6b6b6" stroke="#000" stroke-width="0.85"/>
<polygon points="364,230.99 367.41,234.4 364,237.81 360.59,234.4" fill="#b6b6b6" stroke="#000" stroke-width="0.85"/>
<polygon points="365.8,230.99 369.21,234.4 365.8,237.81 362.39,234.4" fill="#b6b6b6" stroke="#000" stroke-width="0.85"/>
<polygon points="367.6,230.99 371.01,234.4 367.6,237.81 364.19,234.4" fill="#b6b6b6" stroke="#000" stroke-width="0.85"/>
<rect x="383.04" y="180.96" width="5.52" height="5.52" fill="#f7b3bb" stroke="#000" stroke-width="0.85" />
<rect x="387.64" y="196.49" width="5.52" height="5.52" fill="#f7b3bb" stroke="#000" stroke-width="0.85" />
<rect x="382.54" y="198.3" width="5.52" height="5.52" fill="#f7b3bb" stroke="#000" stroke-width="0.85" />
<rect x="387.64" y="203.43" width="5.52" height="5.52" fill="#f7b3bb" stroke="#000" stroke-width="0.85" />
<rect x="378.24" y="205.62" width="5.52" height="5.52" fill="#f7b3bb" stroke="#000" stroke-width="0.85" />
<circle cx="407.7" cy="153.1" r="2.99" fill="#a57fc2" stroke="#000" stroke-width="0.85"/>
<circle cx="412.3" cy="174.07" r="2.99" fill="#a57fc2" stroke="#000" stroke-width="0.85"/>
<circle cx="407.7" cy="177.91" r="2.99" fill="#a57fc2" stroke="#000" stroke-width="0.85"/>
<circle cx="407.7" cy="185.23" r="2.99" fill="#a57fc2" stroke="#000" stroke-width="0.85"/>
<circle cx="407.7" cy="192.92" r="2.99" fill="#a57fc2" stroke="#000" stroke-width="0.85"/>
<polygon points="424.7,197.65 427.95,203.5 421.45,203.5" fill="#8f98d1" stroke="#000" stroke-width="0.85"/>
<polygon points="424,206.1 427.25,211.95 420.75,211.95" fill="#8f98d1" stroke="#000" stroke-width="0.85"/>
<polygon points="428,205.35 431.25,211.2 424.75,211.2" fill="#8f98d1" stroke="#000" stroke-width="0.85"/>
<polygon points="431.5,206.1 434.75,211.95 428.25,211.95" fill="#8f98d1" stroke="#000" stroke-width="0.85"/>
<polygon points="435,206.1 438.25,211.95 431.75,211.95" fill="#8f98d1" stroke="#000" stroke-width="0.85"/>
<polygon points="456,210.96 459.25,205.11 452.75,205.11" fill="#5ba7d9" stroke="#000" stroke-width="0.85"/>
<polygon points="456,217.6 459.25,211.75 452.75,211.75" fill="#5ba7d9" stroke="#000" stroke-width="0.85"/>
<polygon points="451.8,219.79 455.05,213.94 448.55,213.94" fill="#5ba7d9" stroke="#000" stroke-width="0.85"/>
<polygon points="446.6,227.78 449.85,221.93 443.35,221.93" fill="#5ba7d9" stroke="#000" stroke-width="0.85"/>
<polygon points="456,227.78 459.25,221.93 452.75,221.93" fill="#5ba7d9" stroke="#000" stroke-width="0.85"/>
<line x1="367" y1="135.6" x2="407.2" y2="135.6" stroke="#444" stroke-width="0.85" />
<text x="387.75" y="136.5" font-size="10" text-anchor="middle" fill="#000" font-weight="bold" letter-spacing="1.3">****</text>
<line x1="386.4" y1="147.5" x2="407.2" y2="147.5" stroke="#444" stroke-width="0.85" />
<text x="397.45" y="148.4" font-size="10" text-anchor="middle" fill="#000" font-weight="bold" letter-spacing="1.3">**</text>
<line x1="409" y1="133.3" x2="452.6" y2="133.3" stroke="#444" stroke-width="0.85" />
<text x="431.45" y="134.2" font-size="10" text-anchor="middle" fill="#000" font-weight="bold" letter-spacing="1.3">****</text>
<line x1="409" y1="145.2" x2="428.5" y2="145.2" stroke="#444" stroke-width="0.85" />
<text x="419.4" y="146.1" font-size="10" text-anchor="middle" fill="#000" font-weight="bold" letter-spacing="1.3">****</text>
<line x1="497.6" y1="143.3" x2="497.6" y2="235.05" stroke="#000" stroke-width="1.3" />
<line x1="493.8" y1="234.4" x2="497.6" y2="234.4" stroke="#000" stroke-width="1.3" />
<text transform="translate(492.5 237.31) scale(0.95 1)" font-size="8.2" text-anchor="end" fill="#000" font-weight="bold" >0</text>
<line x1="493.8" y1="219.32" x2="497.6" y2="219.32" stroke="#000" stroke-width="1.3" />
<text transform="translate(492.5 222.23) scale(0.95 1)" font-size="8.2" text-anchor="end" fill="#000" font-weight="bold" >20000</text>
<line x1="493.8" y1="204.23" x2="497.6" y2="204.23" stroke="#000" stroke-width="1.3" />
<text transform="translate(492.5 207.14) scale(0.95 1)" font-size="8.2" text-anchor="end" fill="#000" font-weight="bold" >40000</text>
<line x1="493.8" y1="189.15" x2="497.6" y2="189.15" stroke="#000" stroke-width="1.3" />
<text transform="translate(492.5 192.06) scale(0.95 1)" font-size="8.2" text-anchor="end" fill="#000" font-weight="bold" >60000</text>
<line x1="493.8" y1="174.07" x2="497.6" y2="174.07" stroke="#000" stroke-width="1.3" />
<text transform="translate(492.5 176.98) scale(0.95 1)" font-size="8.2" text-anchor="end" fill="#000" font-weight="bold" >80000</text>
<line x1="493.8" y1="158.98" x2="497.6" y2="158.98" stroke="#000" stroke-width="1.3" />
<text transform="translate(492.5 161.89) scale(0.95 1)" font-size="8.2" text-anchor="end" fill="#000" font-weight="bold" >100000</text>
<line x1="493.8" y1="143.9" x2="497.6" y2="143.9" stroke="#000" stroke-width="1.3" />
<text transform="translate(492.5 146.81) scale(0.95 1)" font-size="8.2" text-anchor="end" fill="#000" font-weight="bold" >120000</text>
<line x1="496.95" y1="234.4" x2="613" y2="234.4" stroke="#000" stroke-width="1.3" />
<line x1="512" y1="234.4" x2="512" y2="237.7" stroke="#000" stroke-width="1.3" />
<line x1="533.8" y1="234.4" x2="533.8" y2="237.7" stroke="#000" stroke-width="1.3" />
<line x1="555.4" y1="234.4" x2="555.4" y2="237.7" stroke="#000" stroke-width="1.3" />
<line x1="577.2" y1="234.4" x2="577.2" y2="237.7" stroke="#000" stroke-width="1.3" />
<line x1="598.8" y1="234.4" x2="598.8" y2="237.7" stroke="#000" stroke-width="1.3" />
<line x1="533.8" y1="204.89" x2="533.8" y2="213.02" stroke="#000" stroke-width="0.8" />
<line x1="530.2" y1="204.89" x2="537.4" y2="204.89" stroke="#000" stroke-width="0.8" />
<line x1="530.2" y1="213.02" x2="537.4" y2="213.02" stroke="#000" stroke-width="0.8" />
<line x1="526.3" y1="208.95" x2="541.3" y2="208.95" stroke="#000" stroke-width="1" />
<line x1="555.4" y1="169.03" x2="555.4" y2="193.67" stroke="#000" stroke-width="0.8" />
<line x1="551.8" y1="169.03" x2="559" y2="169.03" stroke="#000" stroke-width="0.8" />
<line x1="551.8" y1="193.67" x2="559" y2="193.67" stroke="#000" stroke-width="0.8" />
<line x1="547.9" y1="181.35" x2="562.9" y2="181.35" stroke="#000" stroke-width="1" />
<line x1="577.2" y1="215.51" x2="577.2" y2="219.78" stroke="#000" stroke-width="0.8" />
<line x1="573.6" y1="215.51" x2="580.8" y2="215.51" stroke="#000" stroke-width="0.8" />
<line x1="573.6" y1="219.78" x2="580.8" y2="219.78" stroke="#000" stroke-width="0.8" />
<line x1="569.7" y1="217.64" x2="584.7" y2="217.64" stroke="#000" stroke-width="1" />
<line x1="598.8" y1="223.93" x2="598.8" y2="226.95" stroke="#000" stroke-width="0.8" />
<line x1="595.2" y1="223.93" x2="602.4" y2="223.93" stroke="#000" stroke-width="0.8" />
<line x1="595.2" y1="226.95" x2="602.4" y2="226.95" stroke="#000" stroke-width="0.8" />
<line x1="591.3" y1="225.44" x2="606.3" y2="225.44" stroke="#000" stroke-width="1" />
<polygon points="508.4,230.99 511.81,234.4 508.4,237.81 504.99,234.4" fill="#b6b6b6" stroke="#000" stroke-width="0.85"/>
<polygon points="510.2,230.99 513.61,234.4 510.2,237.81 506.79,234.4" fill="#b6b6b6" stroke="#000" stroke-width="0.85"/>
<polygon points="512,230.99 515.41,234.4 512,237.81 508.59,234.4" fill="#b6b6b6" stroke="#000" stroke-width="0.85"/>
<polygon points="513.8,230.99 517.21,234.4 513.8,237.81 510.39,234.4" fill="#b6b6b6" stroke="#000" stroke-width="0.85"/>
<polygon points="515.6,230.99 519.01,234.4 515.6,237.81 512.19,234.4" fill="#b6b6b6" stroke="#000" stroke-width="0.85"/>
<rect x="526.04" y="199.59" width="5.52" height="5.52" fill="#f7b3bb" stroke="#000" stroke-width="0.85" />
<rect x="525.04" y="209.99" width="5.52" height="5.52" fill="#f7b3bb" stroke="#000" stroke-width="0.85" />
<rect x="531.04" y="207.81" width="5.52" height="5.52" fill="#f7b3bb" stroke="#000" stroke-width="0.85" />
<rect x="536.04" y="208.33" width="5.52" height="5.52" fill="#f7b3bb" stroke="#000" stroke-width="0.85" />
<rect x="533.04" y="205.24" width="5.52" height="5.52" fill="#f7b3bb" stroke="#000" stroke-width="0.85" />
<circle cx="554.9" cy="165.17" r="2.99" fill="#a57fc2" stroke="#000" stroke-width="0.85"/>
<circle cx="549.9" cy="177.08" r="2.99" fill="#a57fc2" stroke="#000" stroke-width="0.85"/>
<circle cx="555.9" cy="177.08" r="2.99" fill="#a57fc2" stroke="#000" stroke-width="0.85"/>
<circle cx="560.4" cy="192.47" r="2.99" fill="#a57fc2" stroke="#000" stroke-width="0.85"/>
<circle cx="551.4" cy="194.96" r="2.99" fill="#a57fc2" stroke="#000" stroke-width="0.85"/>
<polygon points="573.2,213.87 576.45,219.72 569.95,219.72" fill="#8f98d1" stroke="#000" stroke-width="0.85"/>
<polygon points="576.7,211.83 579.95,217.68 573.45,217.68" fill="#8f98d1" stroke="#000" stroke-width="0.85"/>
<polygon points="580.2,212.66 583.45,218.51 576.95,218.51" fill="#8f98d1" stroke="#000" stroke-width="0.85"/>
<polygon points="582.2,216.88 585.45,222.73 578.95,222.73" fill="#8f98d1" stroke="#000" stroke-width="0.85"/>
<polygon points="571.2,215.9 574.45,221.75 567.95,221.75" fill="#8f98d1" stroke="#000" stroke-width="0.85"/>
<polygon points="594.8,228.08 598.05,222.23 591.55,222.23" fill="#5ba7d9" stroke="#000" stroke-width="0.85"/>
<polygon points="598.8,226.88 602.05,221.03 595.55,221.03" fill="#5ba7d9" stroke="#000" stroke-width="0.85"/>
<polygon points="602.8,228.61 606.05,222.76 599.55,222.76" fill="#5ba7d9" stroke="#000" stroke-width="0.85"/>
<polygon points="596.8,230.12 600.05,224.27 593.55,224.27" fill="#5ba7d9" stroke="#000" stroke-width="0.85"/>
<polygon points="601.8,230.57 605.05,224.72 598.55,224.72" fill="#5ba7d9" stroke="#000" stroke-width="0.85"/>
<line x1="517" y1="148.2" x2="555.4" y2="148.2" stroke="#444" stroke-width="0.85" />
<text x="536.85" y="149.1" font-size="10" text-anchor="middle" fill="#000" font-weight="bold" letter-spacing="1.3">****</text>
<line x1="532.3" y1="158.4" x2="555.4" y2="158.4" stroke="#444" stroke-width="0.85" />
<text x="544.5" y="159.3" font-size="10" text-anchor="middle" fill="#000" font-weight="bold" letter-spacing="1.3">****</text>
<line x1="557" y1="145.5" x2="597.6" y2="145.5" stroke="#444" stroke-width="0.85" />
<text x="577.95" y="146.4" font-size="10" text-anchor="middle" fill="#000" font-weight="bold" letter-spacing="1.3">****</text>
<line x1="557" y1="155.4" x2="578.2" y2="155.4" stroke="#444" stroke-width="0.85" />
<text x="568.25" y="156.3" font-size="10" text-anchor="middle" fill="#000" font-weight="bold" letter-spacing="1.3">****</text>
<line x1="58.3" y1="259.4" x2="58.3" y2="353.35" stroke="#000" stroke-width="1.3" />
<line x1="54.5" y1="352.7" x2="58.3" y2="352.7" stroke="#000" stroke-width="1.3" />
<text transform="translate(53.2 355.61) scale(0.95 1)" font-size="8.2" text-anchor="end" fill="#000" font-weight="bold" >0</text>
<line x1="54.5" y1="334.16" x2="58.3" y2="334.16" stroke="#000" stroke-width="1.3" />
<text transform="translate(53.2 337.07) scale(0.95 1)" font-size="8.2" text-anchor="end" fill="#000" font-weight="bold" >10000</text>
<line x1="54.5" y1="315.62" x2="58.3" y2="315.62" stroke="#000" stroke-width="1.3" />
<text transform="translate(53.2 318.53) scale(0.95 1)" font-size="8.2" text-anchor="end" fill="#000" font-weight="bold" >20000</text>
<line x1="54.5" y1="297.08" x2="58.3" y2="297.08" stroke="#000" stroke-width="1.3" />
<text transform="translate(53.2 299.99) scale(0.95 1)" font-size="8.2" text-anchor="end" fill="#000" font-weight="bold" >30000</text>
<line x1="54.5" y1="278.54" x2="58.3" y2="278.54" stroke="#000" stroke-width="1.3" />
<text transform="translate(53.2 281.45) scale(0.95 1)" font-size="8.2" text-anchor="end" fill="#000" font-weight="bold" >40000</text>
<line x1="54.5" y1="260" x2="58.3" y2="260" stroke="#000" stroke-width="1.3" />
<text transform="translate(53.2 262.91) scale(0.95 1)" font-size="8.2" text-anchor="end" fill="#000" font-weight="bold" >50000</text>
<line x1="57.65" y1="352.7" x2="176" y2="352.7" stroke="#000" stroke-width="1.3" />
<line x1="72" y1="352.7" x2="72" y2="356" stroke="#000" stroke-width="1.3" />
<line x1="94.3" y1="352.7" x2="94.3" y2="356" stroke="#000" stroke-width="1.3" />
<line x1="116.6" y1="352.7" x2="116.6" y2="356" stroke="#000" stroke-width="1.3" />
<line x1="139" y1="352.7" x2="139" y2="356" stroke="#000" stroke-width="1.3" />
<line x1="161.3" y1="352.7" x2="161.3" y2="356" stroke="#000" stroke-width="1.3" />
<line x1="94.3" y1="339.61" x2="94.3" y2="345.7" stroke="#000" stroke-width="0.8" />
<line x1="90.7" y1="339.61" x2="97.9" y2="339.61" stroke="#000" stroke-width="0.8" />
<line x1="90.7" y1="345.7" x2="97.9" y2="345.7" stroke="#000" stroke-width="0.8" />
<line x1="86.8" y1="342.65" x2="101.8" y2="342.65" stroke="#000" stroke-width="1" />
<line x1="116.6" y1="300.09" x2="116.6" y2="307.12" stroke="#000" stroke-width="0.8" />
<line x1="113" y1="300.09" x2="120.2" y2="300.09" stroke="#000" stroke-width="0.8" />
<line x1="113" y1="307.12" x2="120.2" y2="307.12" stroke="#000" stroke-width="0.8" />
<line x1="109.1" y1="303.61" x2="124.1" y2="303.61" stroke="#000" stroke-width="1" />
<line x1="139" y1="337.6" x2="139" y2="345.85" stroke="#000" stroke-width="0.8" />
<line x1="135.4" y1="337.6" x2="142.6" y2="337.6" stroke="#000" stroke-width="0.8" />
<line x1="135.4" y1="345.85" x2="142.6" y2="345.85" stroke="#000" stroke-width="0.8" />
<line x1="131.5" y1="341.72" x2="146.5" y2="341.72" stroke="#000" stroke-width="1" />
<line x1="161.3" y1="337.57" x2="161.3" y2="340.32" stroke="#000" stroke-width="0.8" />
<line x1="157.7" y1="337.57" x2="164.9" y2="337.57" stroke="#000" stroke-width="0.8" />
<line x1="157.7" y1="340.32" x2="164.9" y2="340.32" stroke="#000" stroke-width="0.8" />
<line x1="153.8" y1="338.94" x2="168.8" y2="338.94" stroke="#000" stroke-width="1" />
<polygon points="68.4,349.29 71.81,352.7 68.4,356.11 64.99,352.7" fill="#b6b6b6" stroke="#000" stroke-width="0.85"/>
<polygon points="70.2,349.29 73.61,352.7 70.2,356.11 66.79,352.7" fill="#b6b6b6" stroke="#000" stroke-width="0.85"/>
<polygon points="72,349.29 75.41,352.7 72,356.11 68.59,352.7" fill="#b6b6b6" stroke="#000" stroke-width="0.85"/>
<polygon points="73.8,349.29 77.21,352.7 73.8,356.11 70.39,352.7" fill="#b6b6b6" stroke="#000" stroke-width="0.85"/>
<polygon points="75.6,349.29 79.01,352.7 75.6,356.11 72.19,352.7" fill="#b6b6b6" stroke="#000" stroke-width="0.85"/>
<rect x="86.54" y="336.59" width="5.52" height="5.52" fill="#f7b3bb" stroke="#000" stroke-width="0.85" />
<rect x="91.54" y="337.7" width="5.52" height="5.52" fill="#f7b3bb" stroke="#000" stroke-width="0.85" />
<rect x="96.54" y="339" width="5.52" height="5.52" fill="#f7b3bb" stroke="#000" stroke-width="0.85" />
<rect x="87.84" y="342.71" width="5.52" height="5.52" fill="#f7b3bb" stroke="#000" stroke-width="0.85" />
<rect x="92.74" y="343.45" width="5.52" height="5.52" fill="#f7b3bb" stroke="#000" stroke-width="0.85" />
<circle cx="118.6" cy="298.93" r="2.99" fill="#a57fc2" stroke="#000" stroke-width="0.85"/>
<circle cx="114.1" cy="301.34" r="2.99" fill="#a57fc2" stroke="#000" stroke-width="0.85"/>
<circle cx="121.6" cy="303.94" r="2.99" fill="#a57fc2" stroke="#000" stroke-width="0.85"/>
<circle cx="115.9" cy="306.35" r="2.99" fill="#a57fc2" stroke="#000" stroke-width="0.85"/>
<circle cx="112.2" cy="307.46" r="2.99" fill="#a57fc2" stroke="#000" stroke-width="0.85"/>
<polygon points="135.2,334.64 138.45,340.49 131.95,340.49" fill="#8f98d1" stroke="#000" stroke-width="0.85"/>
<polygon points="140.2,335.38 143.45,341.23 136.95,341.23" fill="#8f98d1" stroke="#000" stroke-width="0.85"/>
<polygon points="144.7,335.94 147.95,341.79 141.45,341.79" fill="#8f98d1" stroke="#000" stroke-width="0.85"/>
<polygon points="134,342.8 137.25,348.65 130.75,348.65" fill="#8f98d1" stroke="#000" stroke-width="0.85"/>
<polygon points="139,342.8 142.25,348.65 135.75,348.65" fill="#8f98d1" stroke="#000" stroke-width="0.85"/>
<polygon points="157.3,340.91 160.55,335.06 154.05,335.06" fill="#5ba7d9" stroke="#000" stroke-width="0.85"/>
<polygon points="161.3,341.28 164.55,335.43 158.05,335.43" fill="#5ba7d9" stroke="#000" stroke-width="0.85"/>
<polygon points="165.3,342.02 168.55,336.17 162.05,336.17" fill="#5ba7d9" stroke="#000" stroke-width="0.85"/>
<polygon points="159.3,343.51 162.55,337.66 156.05,337.66" fill="#5ba7d9" stroke="#000" stroke-width="0.85"/>
<polygon points="166.3,344.06 169.55,338.21 163.05,338.21" fill="#5ba7d9" stroke="#000" stroke-width="0.85"/>
<line x1="74" y1="281" x2="115.4" y2="281" stroke="#444" stroke-width="0.85" />
<text x="95.35" y="281.9" font-size="10" text-anchor="middle" fill="#000" font-weight="bold" letter-spacing="1.3">****</text>
<line x1="95.5" y1="292.9" x2="115.4" y2="292.9" stroke="#444" stroke-width="0.85" />
<text x="106.1" y="293.8" font-size="10" text-anchor="middle" fill="#000" font-weight="bold" letter-spacing="1.3">****</text>
<line x1="117" y1="276.7" x2="161.3" y2="276.7" stroke="#444" stroke-width="0.85" />
<text x="139.8" y="277.6" font-size="10" text-anchor="middle" fill="#000" font-weight="bold" letter-spacing="1.3">****</text>
<line x1="117" y1="291.4" x2="140.2" y2="291.4" stroke="#444" stroke-width="0.85" />
<text x="129.25" y="292.3" font-size="10" text-anchor="middle" fill="#000" font-weight="bold" letter-spacing="1.3">****</text>
<line x1="203.9" y1="259.4" x2="203.9" y2="353.35" stroke="#000" stroke-width="1.3" />
<line x1="200.1" y1="352.7" x2="203.9" y2="352.7" stroke="#000" stroke-width="1.3" />
<text transform="translate(198.8 355.61) scale(0.95 1)" font-size="8.2" text-anchor="end" fill="#000" font-weight="bold" >0</text>
<line x1="200.1" y1="334.16" x2="203.9" y2="334.16" stroke="#000" stroke-width="1.3" />
<text transform="translate(198.8 337.07) scale(0.95 1)" font-size="8.2" text-anchor="end" fill="#000" font-weight="bold" >10000</text>
<line x1="200.1" y1="315.62" x2="203.9" y2="315.62" stroke="#000" stroke-width="1.3" />
<text transform="translate(198.8 318.53) scale(0.95 1)" font-size="8.2" text-anchor="end" fill="#000" font-weight="bold" >20000</text>
<line x1="200.1" y1="297.08" x2="203.9" y2="297.08" stroke="#000" stroke-width="1.3" />
<text transform="translate(198.8 299.99) scale(0.95 1)" font-size="8.2" text-anchor="end" fill="#000" font-weight="bold" >30000</text>
<line x1="200.1" y1="278.54" x2="203.9" y2="278.54" stroke="#000" stroke-width="1.3" />
<text transform="translate(198.8 281.45) scale(0.95 1)" font-size="8.2" text-anchor="end" fill="#000" font-weight="bold" >40000</text>
<line x1="200.1" y1="260" x2="203.9" y2="260" stroke="#000" stroke-width="1.3" />
<text transform="translate(198.8 262.91) scale(0.95 1)" font-size="8.2" text-anchor="end" fill="#000" font-weight="bold" >50000</text>
<line x1="203.25" y1="352.7" x2="322.5" y2="352.7" stroke="#000" stroke-width="1.3" />
<line x1="218.3" y1="352.7" x2="218.3" y2="356" stroke="#000" stroke-width="1.3" />
<line x1="240.1" y1="352.7" x2="240.1" y2="356" stroke="#000" stroke-width="1.3" />
<line x1="261.7" y1="352.7" x2="261.7" y2="356" stroke="#000" stroke-width="1.3" />
<line x1="284" y1="352.7" x2="284" y2="356" stroke="#000" stroke-width="1.3" />
<line x1="306.4" y1="352.7" x2="306.4" y2="356" stroke="#000" stroke-width="1.3" />
<line x1="240.1" y1="305.71" x2="240.1" y2="325.97" stroke="#000" stroke-width="0.8" />
<line x1="236.5" y1="305.71" x2="243.7" y2="305.71" stroke="#000" stroke-width="0.8" />
<line x1="236.5" y1="325.97" x2="243.7" y2="325.97" stroke="#000" stroke-width="0.8" />
<line x1="232.6" y1="315.84" x2="247.6" y2="315.84" stroke="#000" stroke-width="1" />
<line x1="261.7" y1="278.49" x2="261.7" y2="291.5" stroke="#000" stroke-width="0.8" />
<line x1="258.1" y1="278.49" x2="265.3" y2="278.49" stroke="#000" stroke-width="0.8" />
<line x1="258.1" y1="291.5" x2="265.3" y2="291.5" stroke="#000" stroke-width="0.8" />
<line x1="254.2" y1="284.99" x2="269.2" y2="284.99" stroke="#000" stroke-width="1" />
<line x1="284" y1="319.65" x2="284" y2="328.27" stroke="#000" stroke-width="0.8" />
<line x1="280.4" y1="319.65" x2="287.6" y2="319.65" stroke="#000" stroke-width="0.8" />
<line x1="280.4" y1="328.27" x2="287.6" y2="328.27" stroke="#000" stroke-width="0.8" />
<line x1="276.5" y1="323.96" x2="291.5" y2="323.96" stroke="#000" stroke-width="1" />
<line x1="306.4" y1="328.87" x2="306.4" y2="336.64" stroke="#000" stroke-width="0.8" />
<line x1="302.8" y1="328.87" x2="310" y2="328.87" stroke="#000" stroke-width="0.8" />
<line x1="302.8" y1="336.64" x2="310" y2="336.64" stroke="#000" stroke-width="0.8" />
<line x1="298.9" y1="332.75" x2="313.9" y2="332.75" stroke="#000" stroke-width="1" />
<polygon points="214.7,349.29 218.11,352.7 214.7,356.11 211.29,352.7" fill="#b6b6b6" stroke="#000" stroke-width="0.85"/>
<polygon points="216.5,349.29 219.91,352.7 216.5,356.11 213.09,352.7" fill="#b6b6b6" stroke="#000" stroke-width="0.85"/>
<polygon points="218.3,349.29 221.71,352.7 218.3,356.11 214.89,352.7" fill="#b6b6b6" stroke="#000" stroke-width="0.85"/>
<polygon points="220.1,349.29 223.51,352.7 220.1,356.11 216.69,352.7" fill="#b6b6b6" stroke="#000" stroke-width="0.85"/>
<polygon points="221.9,349.29 225.31,352.7 221.9,356.11 218.49,352.7" fill="#b6b6b6" stroke="#000" stroke-width="0.85"/>
<rect x="232.94" y="307.3" width="5.52" height="5.52" fill="#f7b3bb" stroke="#000" stroke-width="0.85" />
<rect x="237.34" y="307.85" width="5.52" height="5.52" fill="#f7b3bb" stroke="#000" stroke-width="0.85" />
<rect x="242.34" y="304.7" width="5.52" height="5.52" fill="#f7b3bb" stroke="#000" stroke-width="0.85" />
<rect x="237.34" y="316.01" width="5.52" height="5.52" fill="#f7b3bb" stroke="#000" stroke-width="0.85" />
<rect x="237.34" y="329.54" width="5.52" height="5.52" fill="#f7b3bb" stroke="#000" stroke-width="0.85" />
<circle cx="257.5" cy="280.02" r="2.99" fill="#a57fc2" stroke="#000" stroke-width="0.85"/>
<circle cx="262.5" cy="279.47" r="2.99" fill="#a57fc2" stroke="#000" stroke-width="0.85"/>
<circle cx="267.4" cy="282.06" r="2.99" fill="#a57fc2" stroke="#000" stroke-width="0.85"/>
<circle cx="267.4" cy="288.92" r="2.99" fill="#a57fc2" stroke="#000" stroke-width="0.85"/>
<circle cx="257.5" cy="294.48" r="2.99" fill="#a57fc2" stroke="#000" stroke-width="0.85"/>
<polygon points="282.8,313.51 286.05,319.36 279.55,319.36" fill="#8f98d1" stroke="#000" stroke-width="0.85"/>
<polygon points="279.1,324.44 282.35,330.29 275.85,330.29" fill="#8f98d1" stroke="#000" stroke-width="0.85"/>
<polygon points="285.3,322.22 288.55,328.07 282.05,328.07" fill="#8f98d1" stroke="#000" stroke-width="0.85"/>
<polygon points="289,322.96 292.25,328.81 285.75,328.81" fill="#8f98d1" stroke="#000" stroke-width="0.85"/>
<polygon points="282.8,319.62 286.05,325.47 279.55,325.47" fill="#8f98d1" stroke="#000" stroke-width="0.85"/>
<polygon points="301.9,329.79 305.15,323.94 298.65,323.94" fill="#5ba7d9" stroke="#000" stroke-width="0.85"/>
<polygon points="304.4,337.2 307.65,331.35 301.15,331.35" fill="#5ba7d9" stroke="#000" stroke-width="0.85"/>
<polygon points="308.9,337.76 312.15,331.91 305.65,331.91" fill="#5ba7d9" stroke="#000" stroke-width="0.85"/>
<polygon points="311.4,335.9 314.65,330.05 308.15,330.05" fill="#5ba7d9" stroke="#000" stroke-width="0.85"/>
<polygon points="301.9,340.17 305.15,334.32 298.65,334.32" fill="#5ba7d9" stroke="#000" stroke-width="0.85"/>
<line x1="222" y1="262.3" x2="262.2" y2="262.3" stroke="#444" stroke-width="0.85" />
<text x="242.75" y="263.2" font-size="10" text-anchor="middle" fill="#000" font-weight="bold" letter-spacing="1.3">****</text>
<line x1="240.6" y1="272.3" x2="262.2" y2="272.3" stroke="#444" stroke-width="0.85" />
<text x="252.05" y="273.2" font-size="10" text-anchor="middle" fill="#000" font-weight="bold" letter-spacing="1.3">****</text>
<line x1="265.5" y1="259.9" x2="306.4" y2="259.9" stroke="#444" stroke-width="0.85" />
<text x="286.6" y="260.8" font-size="10" text-anchor="middle" fill="#000" font-weight="bold" letter-spacing="1.3">****</text>
<line x1="265.5" y1="271.5" x2="284" y2="271.5" stroke="#444" stroke-width="0.85" />
<text x="275.4" y="272.4" font-size="10" text-anchor="middle" fill="#000" font-weight="bold" letter-spacing="1.3">****</text>
<line x1="350.4" y1="259.4" x2="350.4" y2="353.35" stroke="#000" stroke-width="1.3" />
<line x1="346.6" y1="352.7" x2="350.4" y2="352.7" stroke="#000" stroke-width="1.3" />
<text transform="translate(345.3 355.61) scale(0.95 1)" font-size="8.2" text-anchor="end" fill="#000" font-weight="bold" >0</text>
<line x1="346.6" y1="334.16" x2="350.4" y2="334.16" stroke="#000" stroke-width="1.3" />
<text transform="translate(345.3 337.07) scale(0.95 1)" font-size="8.2" text-anchor="end" fill="#000" font-weight="bold" >10000</text>
<line x1="346.6" y1="315.62" x2="350.4" y2="315.62" stroke="#000" stroke-width="1.3" />
<text transform="translate(345.3 318.53) scale(0.95 1)" font-size="8.2" text-anchor="end" fill="#000" font-weight="bold" >20000</text>
<line x1="346.6" y1="297.08" x2="350.4" y2="297.08" stroke="#000" stroke-width="1.3" />
<text transform="translate(345.3 299.99) scale(0.95 1)" font-size="8.2" text-anchor="end" fill="#000" font-weight="bold" >30000</text>
<line x1="346.6" y1="278.54" x2="350.4" y2="278.54" stroke="#000" stroke-width="1.3" />
<text transform="translate(345.3 281.45) scale(0.95 1)" font-size="8.2" text-anchor="end" fill="#000" font-weight="bold" >40000</text>
<line x1="346.6" y1="260" x2="350.4" y2="260" stroke="#000" stroke-width="1.3" />
<text transform="translate(345.3 262.91) scale(0.95 1)" font-size="8.2" text-anchor="end" fill="#000" font-weight="bold" >50000</text>
<line x1="349.75" y1="352.7" x2="468" y2="352.7" stroke="#000" stroke-width="1.3" />
<line x1="365" y1="352.7" x2="365" y2="356" stroke="#000" stroke-width="1.3" />
<line x1="386.8" y1="352.7" x2="386.8" y2="356" stroke="#000" stroke-width="1.3" />
<line x1="409.2" y1="352.7" x2="409.2" y2="356" stroke="#000" stroke-width="1.3" />
<line x1="431" y1="352.7" x2="431" y2="356" stroke="#000" stroke-width="1.3" />
<line x1="453.3" y1="352.7" x2="453.3" y2="356" stroke="#000" stroke-width="1.3" />
<line x1="386.8" y1="293.65" x2="386.8" y2="304.36" stroke="#000" stroke-width="0.8" />
<line x1="383.2" y1="293.65" x2="390.4" y2="293.65" stroke="#000" stroke-width="0.8" />
<line x1="383.2" y1="304.36" x2="390.4" y2="304.36" stroke="#000" stroke-width="0.8" />
<line x1="379.3" y1="299.01" x2="394.3" y2="299.01" stroke="#000" stroke-width="1" />
<line x1="409.2" y1="272.45" x2="409.2" y2="300.42" stroke="#000" stroke-width="0.8" />
<line x1="405.6" y1="272.45" x2="412.8" y2="272.45" stroke="#000" stroke-width="0.8" />
<line x1="405.6" y1="300.42" x2="412.8" y2="300.42" stroke="#000" stroke-width="0.8" />
<line x1="401.7" y1="286.44" x2="416.7" y2="286.44" stroke="#000" stroke-width="1" />
<line x1="431" y1="307.1" x2="431" y2="326.22" stroke="#000" stroke-width="0.8" />
<line x1="427.4" y1="307.1" x2="434.6" y2="307.1" stroke="#000" stroke-width="0.8" />
<line x1="427.4" y1="326.22" x2="434.6" y2="326.22" stroke="#000" stroke-width="0.8" />
<line x1="423.5" y1="316.66" x2="438.5" y2="316.66" stroke="#000" stroke-width="1" />
<line x1="453.3" y1="296.41" x2="453.3" y2="304.06" stroke="#000" stroke-width="0.8" />
<line x1="449.7" y1="296.41" x2="456.9" y2="296.41" stroke="#000" stroke-width="0.8" />
<line x1="449.7" y1="304.06" x2="456.9" y2="304.06" stroke="#000" stroke-width="0.8" />
<line x1="445.8" y1="300.23" x2="460.8" y2="300.23" stroke="#000" stroke-width="1" />
<polygon points="361.4,349.29 364.81,352.7 361.4,356.11 357.99,352.7" fill="#b6b6b6" stroke="#000" stroke-width="0.85"/>
<polygon points="363.2,349.29 366.61,352.7 363.2,356.11 359.79,352.7" fill="#b6b6b6" stroke="#000" stroke-width="0.85"/>
<polygon points="365,349.29 368.41,352.7 365,356.11 361.59,352.7" fill="#b6b6b6" stroke="#000" stroke-width="0.85"/>
<polygon points="366.8,349.29 370.21,352.7 366.8,356.11 363.39,352.7" fill="#b6b6b6" stroke="#000" stroke-width="0.85"/>
<polygon points="368.6,349.29 372.01,352.7 368.6,356.11 365.19,352.7" fill="#b6b6b6" stroke="#000" stroke-width="0.85"/>
<rect x="379.84" y="293.76" width="5.52" height="5.52" fill="#f7b3bb" stroke="#000" stroke-width="0.85" />
<rect x="384.04" y="294.69" width="5.52" height="5.52" fill="#f7b3bb" stroke="#000" stroke-width="0.85" />
<rect x="389.04" y="290.05" width="5.52" height="5.52" fill="#f7b3bb" stroke="#000" stroke-width="0.85" />
<rect x="379.84" y="304.14" width="5.52" height="5.52" fill="#f7b3bb" stroke="#000" stroke-width="0.85" />
<rect x="388.54" y="298.58" width="5.52" height="5.52" fill="#f7b3bb" stroke="#000" stroke-width="0.85" />
<circle cx="409.2" cy="270.75" r="2.99" fill="#a57fc2" stroke="#000" stroke-width="0.85"/>
<circle cx="409.2" cy="276.5" r="2.99" fill="#a57fc2" stroke="#000" stroke-width="0.85"/>
<circle cx="409.2" cy="285.77" r="2.99" fill="#a57fc2" stroke="#000" stroke-width="0.85"/>
<circle cx="409.2" cy="292.82" r="2.99" fill="#a57fc2" stroke="#000" stroke-width="0.85"/>
<circle cx="409.2" cy="306.35" r="2.99" fill="#a57fc2" stroke="#000" stroke-width="0.85"/>
<polygon points="426.6,302.94 429.85,308.79 423.35,308.79" fill="#8f98d1" stroke="#000" stroke-width="0.85"/>
<polygon points="431.5,307.94 434.75,313.79 428.25,313.79" fill="#8f98d1" stroke="#000" stroke-width="0.85"/>
<polygon points="426.6,312.21 429.85,318.06 423.35,318.06" fill="#8f98d1" stroke="#000" stroke-width="0.85"/>
<polygon points="436,314.8 439.25,320.65 432.75,320.65" fill="#8f98d1" stroke="#000" stroke-width="0.85"/>
<polygon points="431.5,328.34 434.75,334.19 428.25,334.19" fill="#8f98d1" stroke="#000" stroke-width="0.85"/>
<polygon points="448.9,309.21 452.15,303.36 445.65,303.36" fill="#5ba7d9" stroke="#000" stroke-width="0.85"/>
<polygon points="453.8,302.35 457.05,296.5 450.55,296.5" fill="#5ba7d9" stroke="#000" stroke-width="0.85"/>
<polygon points="458.3,299.01 461.55,293.16 455.05,293.16" fill="#5ba7d9" stroke="#000" stroke-width="0.85"/>
<polygon points="448.4,302.35 451.65,296.5 445.15,296.5" fill="#5ba7d9" stroke="#000" stroke-width="0.85"/>
<polygon points="458.3,305.31 461.55,299.46 455.05,299.46" fill="#5ba7d9" stroke="#000" stroke-width="0.85"/>
<line x1="369.5" y1="254.1" x2="407.4" y2="254.1" stroke="#444" stroke-width="0.85" />
<text x="389.1" y="255" font-size="10" text-anchor="middle" fill="#000" font-weight="bold" letter-spacing="1.3">****</text>
<line x1="383.9" y1="265.6" x2="407.4" y2="265.6" stroke="#444" stroke-width="0.85" />
<text x="395.65" y="260.7" font-size="7" text-anchor="middle" fill="#000" font-weight="bold" >ns</text>
<line x1="411" y1="252.7" x2="451.9" y2="252.7" stroke="#444" stroke-width="0.85" />
<text x="432.1" y="253.6" font-size="10" text-anchor="middle" fill="#000" font-weight="bold" letter-spacing="1.3">*</text>
<line x1="411" y1="264.3" x2="429" y2="264.3" stroke="#444" stroke-width="0.85" />
<text x="420.65" y="265.2" font-size="10" text-anchor="middle" fill="#000" font-weight="bold" letter-spacing="1.3">****</text>
<line x1="497.1" y1="259.4" x2="497.1" y2="353.35" stroke="#000" stroke-width="1.3" />
<line x1="493.3" y1="352.7" x2="497.1" y2="352.7" stroke="#000" stroke-width="1.3" />
<text transform="translate(492 355.61) scale(0.95 1)" font-size="8.2" text-anchor="end" fill="#000" font-weight="bold" >0</text>
<line x1="493.3" y1="334.16" x2="497.1" y2="334.16" stroke="#000" stroke-width="1.3" />
<text transform="translate(492 337.07) scale(0.95 1)" font-size="8.2" text-anchor="end" fill="#000" font-weight="bold" >10000</text>
<line x1="493.3" y1="315.62" x2="497.1" y2="315.62" stroke="#000" stroke-width="1.3" />
<text transform="translate(492 318.53) scale(0.95 1)" font-size="8.2" text-anchor="end" fill="#000" font-weight="bold" >20000</text>
<line x1="493.3" y1="297.08" x2="497.1" y2="297.08" stroke="#000" stroke-width="1.3" />
<text transform="translate(492 299.99) scale(0.95 1)" font-size="8.2" text-anchor="end" fill="#000" font-weight="bold" >30000</text>
<line x1="493.3" y1="278.54" x2="497.1" y2="278.54" stroke="#000" stroke-width="1.3" />
<text transform="translate(492 281.45) scale(0.95 1)" font-size="8.2" text-anchor="end" fill="#000" font-weight="bold" >40000</text>
<line x1="493.3" y1="260" x2="497.1" y2="260" stroke="#000" stroke-width="1.3" />
<text transform="translate(492 262.91) scale(0.95 1)" font-size="8.2" text-anchor="end" fill="#000" font-weight="bold" >50000</text>
<line x1="496.45" y1="352.7" x2="614" y2="352.7" stroke="#000" stroke-width="1.3" />
<line x1="512" y1="352.7" x2="512" y2="356" stroke="#000" stroke-width="1.3" />
<line x1="533" y1="352.7" x2="533" y2="356" stroke="#000" stroke-width="1.3" />
<line x1="554.9" y1="352.7" x2="554.9" y2="356" stroke="#000" stroke-width="1.3" />
<line x1="577" y1="352.7" x2="577" y2="356" stroke="#000" stroke-width="1.3" />
<line x1="598.8" y1="352.7" x2="598.8" y2="356" stroke="#000" stroke-width="1.3" />
<line x1="533" y1="293.53" x2="533" y2="303.6" stroke="#000" stroke-width="0.8" />
<line x1="529.4" y1="293.53" x2="536.6" y2="293.53" stroke="#000" stroke-width="0.8" />
<line x1="529.4" y1="303.6" x2="536.6" y2="303.6" stroke="#000" stroke-width="0.8" />
<line x1="525.5" y1="298.56" x2="540.5" y2="298.56" stroke="#000" stroke-width="1" />
<line x1="554.9" y1="280.5" x2="554.9" y2="299.57" stroke="#000" stroke-width="0.8" />
<line x1="551.3" y1="280.5" x2="558.5" y2="280.5" stroke="#000" stroke-width="0.8" />
<line x1="551.3" y1="299.57" x2="558.5" y2="299.57" stroke="#000" stroke-width="0.8" />
<line x1="547.4" y1="290.03" x2="562.4" y2="290.03" stroke="#000" stroke-width="1" />
<line x1="577" y1="314.29" x2="577" y2="331.41" stroke="#000" stroke-width="0.8" />
<line x1="573.4" y1="314.29" x2="580.6" y2="314.29" stroke="#000" stroke-width="0.8" />
<line x1="573.4" y1="331.41" x2="580.6" y2="331.41" stroke="#000" stroke-width="0.8" />
<line x1="569.5" y1="322.85" x2="584.5" y2="322.85" stroke="#000" stroke-width="1" />
<line x1="598.8" y1="295.88" x2="598.8" y2="317.19" stroke="#000" stroke-width="0.8" />
<line x1="595.2" y1="295.88" x2="602.4" y2="295.88" stroke="#000" stroke-width="0.8" />
<line x1="595.2" y1="317.19" x2="602.4" y2="317.19" stroke="#000" stroke-width="0.8" />
<line x1="591.3" y1="306.54" x2="606.3" y2="306.54" stroke="#000" stroke-width="1" />
<polygon points="508.4,349.29 511.81,352.7 508.4,356.11 504.99,352.7" fill="#b6b6b6" stroke="#000" stroke-width="0.85"/>
<polygon points="510.2,349.29 513.61,352.7 510.2,356.11 506.79,352.7" fill="#b6b6b6" stroke="#000" stroke-width="0.85"/>
<polygon points="512,349.29 515.41,352.7 512,356.11 508.59,352.7" fill="#b6b6b6" stroke="#000" stroke-width="0.85"/>
<polygon points="513.8,349.29 517.21,352.7 513.8,356.11 510.39,352.7" fill="#b6b6b6" stroke="#000" stroke-width="0.85"/>
<polygon points="515.6,349.29 519.01,352.7 515.6,356.11 512.19,352.7" fill="#b6b6b6" stroke="#000" stroke-width="0.85"/>
<rect x="525.34" y="292.28" width="5.52" height="5.52" fill="#f7b3bb" stroke="#000" stroke-width="0.85" />
<rect x="530.24" y="291.17" width="5.52" height="5.52" fill="#f7b3bb" stroke="#000" stroke-width="0.85" />
<rect x="535.24" y="294.13" width="5.52" height="5.52" fill="#f7b3bb" stroke="#000" stroke-width="0.85" />
<rect x="527.84" y="297.84" width="5.52" height="5.52" fill="#f7b3bb" stroke="#000" stroke-width="0.85" />
<rect x="530.24" y="303.59" width="5.52" height="5.52" fill="#f7b3bb" stroke="#000" stroke-width="0.85" />
<circle cx="554.9" cy="274.46" r="2.99" fill="#a57fc2" stroke="#000" stroke-width="0.85"/>
<circle cx="549.2" cy="290.78" r="2.99" fill="#a57fc2" stroke="#000" stroke-width="0.85"/>
<circle cx="554.9" cy="291.89" r="2.99" fill="#a57fc2" stroke="#000" stroke-width="0.85"/>
<circle cx="560.3" cy="292.44" r="2.99" fill="#a57fc2" stroke="#000" stroke-width="0.85"/>
<circle cx="554.9" cy="300.6" r="2.99" fill="#a57fc2" stroke="#000" stroke-width="0.85"/>
<polygon points="572.8,310.91 576.05,316.76 569.55,316.76" fill="#8f98d1" stroke="#000" stroke-width="0.85"/>
<polygon points="577.7,310.91 580.95,316.76 574.45,316.76" fill="#8f98d1" stroke="#000" stroke-width="0.85"/>
<polygon points="577.7,322.22 580.95,328.07 574.45,328.07" fill="#8f98d1" stroke="#000" stroke-width="0.85"/>
<polygon points="581.9,322.22 585.15,328.07 578.65,328.07" fill="#8f98d1" stroke="#000" stroke-width="0.85"/>
<polygon points="576.5,330.93 579.75,336.78 573.25,336.78" fill="#8f98d1" stroke="#000" stroke-width="0.85"/>
<polygon points="598.8,295.3 602.05,289.45 595.55,289.45" fill="#5ba7d9" stroke="#000" stroke-width="0.85"/>
<polygon points="598.8,302.35 602.05,296.5 595.55,296.5" fill="#5ba7d9" stroke="#000" stroke-width="0.85"/>
<polygon points="598.8,314.03 602.05,308.18 595.55,308.18" fill="#5ba7d9" stroke="#000" stroke-width="0.85"/>
<polygon points="593.8,319.03 597.05,313.18 590.55,313.18" fill="#5ba7d9" stroke="#000" stroke-width="0.85"/>
<polygon points="603.8,319.03 607.05,313.18 600.55,313.18" fill="#5ba7d9" stroke="#000" stroke-width="0.85"/>
<line x1="508.2" y1="258.6" x2="556.1" y2="258.6" stroke="#444" stroke-width="0.85" />
<text x="532.8" y="259.5" font-size="10" text-anchor="middle" fill="#000" font-weight="bold" letter-spacing="1.3">****</text>
<line x1="533" y1="270.3" x2="556" y2="270.3" stroke="#444" stroke-width="0.85" />
<text x="544.5" y="265.4" font-size="7" text-anchor="middle" fill="#000" font-weight="bold" >ns</text>
<line x1="558.6" y1="256.9" x2="598.8" y2="256.9" stroke="#444" stroke-width="0.85" />
<text x="579.35" y="257.8" font-size="10" text-anchor="middle" fill="#000" font-weight="bold" letter-spacing="1.3">**</text>
<line x1="558.6" y1="268" x2="579" y2="268" stroke="#444" stroke-width="0.85" />
<text x="569.45" y="268.9" font-size="10" text-anchor="middle" fill="#000" font-weight="bold" letter-spacing="1.3">****</text>
<text x="9" y="188" font-size="10.6" text-anchor="middle" fill="#000" font-weight="bold" transform="rotate(-90 9 188)" >Coated with G<tspan font-size="7.84" dy="2.97">DIII</tspan></text>
<text x="22.6" y="186" font-size="10.6" text-anchor="middle" fill="#000" font-weight="bold" transform="rotate(-90 22.6 186)" >EC<tspan font-size="7" dy="2.8">50</tspan><tspan dy="-2.8"> titer</tspan></text>
<text x="11.4" y="304.5" font-size="10.4" text-anchor="middle" fill="#000" font-weight="bold" transform="rotate(-90 11.4 304.5)" >Cotaed with G</text>
<text x="23.9" y="305" font-size="10.6" text-anchor="middle" fill="#000" font-weight="bold" transform="rotate(-90 23.9 305)" >EC<tspan font-size="7" dy="2.8">50</tspan><tspan dy="-2.8"> titer</tspan></text>
<line x1="54.2" y1="369.9" x2="91.5" y2="369.9" stroke="#000" stroke-width="1.3" />
<line x1="135.9" y1="369.9" x2="172.9" y2="369.9" stroke="#000" stroke-width="1.3" />
<text x="97.4" y="373.4" font-size="9.4" text-anchor="start" fill="#c8000f" font-weight="bold" >Week&#160; 2</text>
<line x1="201" y1="369.9" x2="239.3" y2="369.9" stroke="#000" stroke-width="1.3" />
<line x1="283" y1="369.9" x2="320" y2="369.9" stroke="#000" stroke-width="1.3" />
<text x="242.4" y="373.4" font-size="9.4" text-anchor="start" fill="#c8000f" font-weight="bold" >Week&#160; 5</text>
<line x1="348.4" y1="369.9" x2="386" y2="369.9" stroke="#000" stroke-width="1.3" />
<line x1="429.9" y1="369.9" x2="468" y2="369.9" stroke="#000" stroke-width="1.3" />
<text x="390" y="373.4" font-size="9.4" text-anchor="start" fill="#c8000f" font-weight="bold" >Week&#160; 8</text>
<line x1="494.3" y1="369.9" x2="532.4" y2="369.9" stroke="#000" stroke-width="1.3" />
<line x1="577.5" y1="369.9" x2="615.6" y2="369.9" stroke="#000" stroke-width="1.3" />
<text x="535.9" y="373.4" font-size="9.4" text-anchor="start" fill="#c8000f" font-weight="bold" >Week&#160; 11</text>
<polygon points="618.4,149.75 621.65,153 618.4,156.25 615.14,153" fill="#b6b6b6" stroke="#000" stroke-width="0.7"/>
<text x="628.9" y="156.3" font-size="9.1" text-anchor="start" fill="#000" font-weight="bold" >Control</text>
<rect x="615.76" y="165.77" width="5.27" height="5.27" fill="#f7b3bb" stroke="#000" stroke-width="0.7" />
<text x="628.9" y="171.7" font-size="9.1" text-anchor="start" fill="#000" font-weight="bold" >G<tspan font-size="6.73" dy="2.55">DIII</tspan></text>
<circle cx="618.4" cy="183.2" r="2.85" fill="#a57fc2" stroke="#000" stroke-width="0.7"/>
<text x="628.9" y="186.5" font-size="9.1" text-anchor="start" fill="#000" font-weight="bold" >G<tspan font-size="6.73" dy="2.55">DIII</tspan><tspan dy="-2.55">-Ferritin</tspan></text>
<polygon points="618.4,195.05 621.5,200.62 615.3,200.62" fill="#8f98d1" stroke="#000" stroke-width="0.7"/>
<text x="628.9" y="201.6" font-size="9.1" text-anchor="start" fill="#000" font-weight="bold" >G<tspan font-size="6.73" dy="2.55">DIII</tspan><tspan dy="-2.55">-Fc</tspan></text>
<polygon points="618.4,215.35 621.5,209.78 615.3,209.78" fill="#5ba7d9" stroke="#000" stroke-width="0.7"/>
<text x="628.9" y="215.4" font-size="9.1" text-anchor="start" fill="#000" font-weight="bold" >G</text>
<polygon points="620.6,265.25 623.86,268.5 620.6,271.75 617.35,268.5" fill="#b6b6b6" stroke="#000" stroke-width="0.7"/>
<text x="631.5" y="271.8" font-size="9.1" text-anchor="start" fill="#000" font-weight="bold" >Control</text>
<rect x="617.97" y="282.37" width="5.27" height="5.27" fill="#f7b3bb" stroke="#000" stroke-width="0.7" />
<text x="631.5" y="288.3" font-size="9.1" text-anchor="start" fill="#000" font-weight="bold" >G<tspan font-size="6.73" dy="2.55">DIII</tspan></text>
<circle cx="620.6" cy="301.3" r="2.85" fill="#a57fc2" stroke="#000" stroke-width="0.7"/>
<text x="631.5" y="304.6" font-size="9.1" text-anchor="start" fill="#000" font-weight="bold" >G<tspan font-size="6.73" dy="2.55">DIII</tspan><tspan dy="-2.55">-Ferritin</tspan></text>
<polygon points="620.6,314.14 623.7,319.72 617.5,319.72" fill="#8f98d1" stroke="#000" stroke-width="0.7"/>
<text x="631.5" y="320.7" font-size="9.1" text-anchor="start" fill="#000" font-weight="bold" >G<tspan font-size="6.73" dy="2.55">DIII</tspan><tspan dy="-2.55">-Fc</tspan></text>
<polygon points="620.6,336.45 623.7,330.88 617.5,330.88" fill="#5ba7d9" stroke="#000" stroke-width="0.7"/>
<text x="631.5" y="336.5" font-size="9.1" text-anchor="start" fill="#000" font-weight="bold" >G</text>
<text x="25.8" y="394.9" font-size="15.5" text-anchor="start" fill="#000" font-weight="bold" >c</text>
<line x1="90.2" y1="391.3" x2="90.2" y2="515.4" stroke="#000" stroke-width="1.4" />
<line x1="85.8" y1="514.7" x2="90.2" y2="514.7" stroke="#000" stroke-width="1.4" />
<text transform="translate(84.6 517.61) scale(0.92 1)" font-size="8.2" text-anchor="end" fill="#000" font-weight="bold" >0</text>
<line x1="85.8" y1="490.14" x2="90.2" y2="490.14" stroke="#000" stroke-width="1.4" />
<text transform="translate(84.6 493.05) scale(0.92 1)" font-size="8.2" text-anchor="end" fill="#000" font-weight="bold" >10</text>
<line x1="85.8" y1="465.58" x2="90.2" y2="465.58" stroke="#000" stroke-width="1.4" />
<text transform="translate(84.6 468.49) scale(0.92 1)" font-size="8.2" text-anchor="end" fill="#000" font-weight="bold" >20</text>
<line x1="85.8" y1="441.02" x2="90.2" y2="441.02" stroke="#000" stroke-width="1.4" />
<text transform="translate(84.6 443.93) scale(0.92 1)" font-size="8.2" text-anchor="end" fill="#000" font-weight="bold" >30</text>
<line x1="85.8" y1="416.46" x2="90.2" y2="416.46" stroke="#000" stroke-width="1.4" />
<text transform="translate(84.6 419.37) scale(0.92 1)" font-size="8.2" text-anchor="end" fill="#000" font-weight="bold" >40</text>
<line x1="85.8" y1="391.9" x2="90.2" y2="391.9" stroke="#000" stroke-width="1.4" />
<text transform="translate(84.6 394.81) scale(0.92 1)" font-size="8.2" text-anchor="end" fill="#000" font-weight="bold" >50</text>
<line x1="89.5" y1="514.7" x2="202" y2="514.7" stroke="#000" stroke-width="1.4" />
<line x1="104.4" y1="514.7" x2="104.4" y2="517.7" stroke="#000" stroke-width="1.2" />
<line x1="125.1" y1="514.7" x2="125.1" y2="517.7" stroke="#000" stroke-width="1.2" />
<line x1="146" y1="514.7" x2="146" y2="517.7" stroke="#000" stroke-width="1.2" />
<line x1="166.9" y1="514.7" x2="166.9" y2="517.7" stroke="#000" stroke-width="1.2" />
<line x1="187.3" y1="514.7" x2="187.3" y2="517.7" stroke="#000" stroke-width="1.2" />
<line x1="91" y1="513.9" x2="202" y2="513.9" stroke="#c8000f" stroke-width="1.7" stroke-dasharray="2.4 2.6"/>
<rect x="118.45" y="496.53" width="13.3" height="18.17" fill="#f4abb3" stroke="#000" stroke-width="0.9" />
<rect x="139.35" y="466.07" width="13.3" height="48.63" fill="#9e79b4" stroke="#000" stroke-width="0.9" />
<rect x="160.25" y="505.12" width="13.3" height="9.58" fill="#979dcf" stroke="#000" stroke-width="0.9" />
<rect x="180.65" y="501.19" width="13.3" height="13.51" fill="#659dc4" stroke="#000" stroke-width="0.9" />
<line x1="125.1" y1="496.53" x2="125.1" y2="485.72" stroke="#000" stroke-width="0.9" />
<line x1="121.8" y1="485.72" x2="128.4" y2="485.72" stroke="#000" stroke-width="0.9" />
<line x1="146" y1="466.07" x2="146" y2="437.58" stroke="#000" stroke-width="0.9" />
<line x1="142.7" y1="437.58" x2="149.3" y2="437.58" stroke="#000" stroke-width="0.9" />
<polygon points="99.9,511.87 102.73,514.7 99.9,517.54 97.07,514.7" fill="#fff" stroke="#000" stroke-width="0.8"/>
<polygon points="102.2,511.87 105.03,514.7 102.2,517.54 99.37,514.7" fill="#fff" stroke="#000" stroke-width="0.8"/>
<polygon points="104.4,511.87 107.23,514.7 104.4,517.54 101.57,514.7" fill="#fff" stroke="#000" stroke-width="0.8"/>
<polygon points="106.6,511.87 109.44,514.7 106.6,517.54 103.77,514.7" fill="#fff" stroke="#000" stroke-width="0.8"/>
<polygon points="108.9,511.87 111.73,514.7 108.9,517.54 106.07,514.7" fill="#fff" stroke="#000" stroke-width="0.8"/>
<rect x="123.1" y="479.3" width="4" height="4" fill="#fff" stroke="#000" stroke-width="0.8" />
<rect x="123.1" y="487.9" width="4" height="4" fill="#fff" stroke="#000" stroke-width="0.8" />
<rect x="118.6" y="501.65" width="4" height="4" fill="#fff" stroke="#000" stroke-width="0.8" />
<rect x="123.1" y="501.65" width="4" height="4" fill="#fff" stroke="#000" stroke-width="0.8" />
<rect x="127.6" y="501.65" width="4" height="4" fill="#fff" stroke="#000" stroke-width="0.8" />
<circle cx="146" cy="415.23" r="2.16" fill="#fff" stroke="#000" stroke-width="0.8"/>
<circle cx="146" cy="470.98" r="2.16" fill="#fff" stroke="#000" stroke-width="0.8"/>
<circle cx="141.2" cy="481.3" r="2.16" fill="#fff" stroke="#000" stroke-width="0.8"/>
<circle cx="146" cy="481.3" r="2.16" fill="#fff" stroke="#000" stroke-width="0.8"/>
<circle cx="150.8" cy="481.3" r="2.16" fill="#fff" stroke="#000" stroke-width="0.8"/>
<polygon points="162.4,497.99 164.75,502.22 160.05,502.22" fill="#fff" stroke="#000" stroke-width="0.8"/>
<polygon points="171.4,497.99 173.75,502.22 169.05,502.22" fill="#fff" stroke="#000" stroke-width="0.8"/>
<polygon points="166.9,501.18 169.25,505.41 164.55,505.41" fill="#fff" stroke="#000" stroke-width="0.8"/>
<polygon points="162.4,508.79 164.75,513.02 160.05,513.02" fill="#fff" stroke="#000" stroke-width="0.8"/>
<polygon points="171.4,508.79 173.75,513.02 169.05,513.02" fill="#fff" stroke="#000" stroke-width="0.8"/>
<polygon points="182.8,502.43 185.15,498.2 180.45,498.2" fill="#fff" stroke="#000" stroke-width="0.8"/>
<polygon points="186.3,506.12 188.65,501.89 183.95,501.89" fill="#fff" stroke="#000" stroke-width="0.8"/>
<polygon points="189.8,506.12 192.15,501.89 187.45,501.89" fill="#fff" stroke="#000" stroke-width="0.8"/>
<polygon points="192.3,506.12 194.65,501.89 189.95,501.89" fill="#fff" stroke="#000" stroke-width="0.8"/>
<polygon points="182.8,509.31 185.15,505.08 180.45,505.08" fill="#fff" stroke="#000" stroke-width="0.8"/>
<line x1="104.4" y1="399" x2="144" y2="399" stroke="#444" stroke-width="0.85" />
<text x="125.1" y="399.52" font-size="12" text-anchor="middle" fill="#000" font-weight="bold" letter-spacing="1.8">****</text>
<line x1="127.2" y1="410.5" x2="144" y2="410.5" stroke="#444" stroke-width="0.85" />
<text x="136.5" y="411.02" font-size="12" text-anchor="middle" fill="#000" font-weight="bold" letter-spacing="1.8">**</text>
<line x1="147" y1="396" x2="182.5" y2="396" stroke="#444" stroke-width="0.85" />
<text x="165.65" y="396.52" font-size="12" text-anchor="middle" fill="#000" font-weight="bold" letter-spacing="1.8">**</text>
<line x1="147" y1="407.8" x2="164" y2="407.8" stroke="#444" stroke-width="0.85" />
<text x="156.4" y="408.32" font-size="12" text-anchor="middle" fill="#000" font-weight="bold" letter-spacing="1.8">**</text>
<line x1="272" y1="391.8" x2="272" y2="515.9" stroke="#000" stroke-width="1.4" />
<line x1="267.6" y1="515.2" x2="272" y2="515.2" stroke="#000" stroke-width="1.4" />
<text transform="translate(266.4 518.11) scale(0.92 1)" font-size="8.2" text-anchor="end" fill="#000" font-weight="bold" >0</text>
<line x1="267.6" y1="490.64" x2="272" y2="490.64" stroke="#000" stroke-width="1.4" />
<text transform="translate(266.4 493.55) scale(0.92 1)" font-size="8.2" text-anchor="end" fill="#000" font-weight="bold" >10</text>
<line x1="267.6" y1="466.08" x2="272" y2="466.08" stroke="#000" stroke-width="1.4" />
<text transform="translate(266.4 468.99) scale(0.92 1)" font-size="8.2" text-anchor="end" fill="#000" font-weight="bold" >20</text>
<line x1="267.6" y1="441.52" x2="272" y2="441.52" stroke="#000" stroke-width="1.4" />
<text transform="translate(266.4 444.43) scale(0.92 1)" font-size="8.2" text-anchor="end" fill="#000" font-weight="bold" >30</text>
<line x1="267.6" y1="416.96" x2="272" y2="416.96" stroke="#000" stroke-width="1.4" />
<text transform="translate(266.4 419.87) scale(0.92 1)" font-size="8.2" text-anchor="end" fill="#000" font-weight="bold" >40</text>
<line x1="267.6" y1="392.4" x2="272" y2="392.4" stroke="#000" stroke-width="1.4" />
<text transform="translate(266.4 395.31) scale(0.92 1)" font-size="8.2" text-anchor="end" fill="#000" font-weight="bold" >50</text>
<line x1="271.3" y1="515.2" x2="383.8" y2="515.2" stroke="#000" stroke-width="1.4" />
<line x1="285.6" y1="515.2" x2="285.6" y2="518.2" stroke="#000" stroke-width="1.2" />
<line x1="306.6" y1="515.2" x2="306.6" y2="518.2" stroke="#000" stroke-width="1.2" />
<line x1="327.4" y1="515.2" x2="327.4" y2="518.2" stroke="#000" stroke-width="1.2" />
<line x1="348.2" y1="515.2" x2="348.2" y2="518.2" stroke="#000" stroke-width="1.2" />
<line x1="369" y1="515.2" x2="369" y2="518.2" stroke="#000" stroke-width="1.2" />
<line x1="272.8" y1="514.4" x2="383.8" y2="514.4" stroke="#c8000f" stroke-width="1.7" stroke-dasharray="2.4 2.6"/>
<rect x="299.95" y="487.45" width="13.3" height="27.75" fill="#f4abb3" stroke="#000" stroke-width="0.9" />
<rect x="320.75" y="453.8" width="13.3" height="61.4" fill="#9e79b4" stroke="#000" stroke-width="0.9" />
<rect x="341.55" y="496.53" width="13.3" height="18.67" fill="#979dcf" stroke="#000" stroke-width="0.9" />
<rect x="362.35" y="505.87" width="13.3" height="9.33" fill="#659dc4" stroke="#000" stroke-width="0.9" />
<line x1="306.6" y1="487.45" x2="306.6" y2="480.82" stroke="#000" stroke-width="0.9" />
<line x1="303.3" y1="480.82" x2="309.9" y2="480.82" stroke="#000" stroke-width="0.9" />
<line x1="327.4" y1="453.8" x2="327.4" y2="416.96" stroke="#000" stroke-width="0.9" />
<line x1="324.1" y1="416.96" x2="330.7" y2="416.96" stroke="#000" stroke-width="0.9" />
<line x1="348.2" y1="496.53" x2="348.2" y2="482.04" stroke="#000" stroke-width="0.9" />
<line x1="344.9" y1="482.04" x2="351.5" y2="482.04" stroke="#000" stroke-width="0.9" />
<polygon points="281.1,512.37 283.94,515.2 281.1,518.04 278.27,515.2" fill="#fff" stroke="#000" stroke-width="0.8"/>
<polygon points="283.4,512.37 286.24,515.2 283.4,518.04 280.57,515.2" fill="#fff" stroke="#000" stroke-width="0.8"/>
<polygon points="285.6,512.37 288.44,515.2 285.6,518.04 282.77,515.2" fill="#fff" stroke="#000" stroke-width="0.8"/>
<polygon points="287.8,512.37 290.63,515.2 287.8,518.04 284.97,515.2" fill="#fff" stroke="#000" stroke-width="0.8"/>
<polygon points="290.1,512.37 292.94,515.2 290.1,518.04 287.27,515.2" fill="#fff" stroke="#000" stroke-width="0.8"/>
<rect x="299.6" y="479.8" width="4" height="4" fill="#fff" stroke="#000" stroke-width="0.8" />
<rect x="304.6" y="479.8" width="4" height="4" fill="#fff" stroke="#000" stroke-width="0.8" />
<rect x="309.6" y="479.8" width="4" height="4" fill="#fff" stroke="#000" stroke-width="0.8" />
<rect x="304.6" y="489.87" width="4" height="4" fill="#fff" stroke="#000" stroke-width="0.8" />
<rect x="304.6" y="498.22" width="4" height="4" fill="#fff" stroke="#000" stroke-width="0.8" />
<circle cx="324.6" cy="415.73" r="2.16" fill="#fff" stroke="#000" stroke-width="0.8"/>
<circle cx="330.2" cy="415.73" r="2.16" fill="#fff" stroke="#000" stroke-width="0.8"/>
<circle cx="327.4" cy="471.24" r="2.16" fill="#fff" stroke="#000" stroke-width="0.8"/>
<circle cx="322.6" cy="481.8" r="2.16" fill="#fff" stroke="#000" stroke-width="0.8"/>
<circle cx="332.2" cy="481.8" r="2.16" fill="#fff" stroke="#000" stroke-width="0.8"/>
<polygon points="342.7,479.58 345.05,483.81 340.35,483.81" fill="#fff" stroke="#000" stroke-width="0.8"/>
<polygon points="353.7,479.58 356.05,483.81 351.35,483.81" fill="#fff" stroke="#000" stroke-width="0.8"/>
<polygon points="348.2,501.68 350.55,505.91 345.85,505.91" fill="#fff" stroke="#000" stroke-width="0.8"/>
<polygon points="353.2,501.68 355.55,505.91 350.85,505.91" fill="#fff" stroke="#000" stroke-width="0.8"/>
<polygon points="343.7,508.8 346.05,513.03 341.35,513.03" fill="#fff" stroke="#000" stroke-width="0.8"/>
<polygon points="365,506.62 367.35,502.39 362.65,502.39" fill="#fff" stroke="#000" stroke-width="0.8"/>
<polygon points="369,507.84 371.35,503.61 366.65,503.61" fill="#fff" stroke="#000" stroke-width="0.8"/>
<polygon points="373,506.62 375.35,502.39 370.65,502.39" fill="#fff" stroke="#000" stroke-width="0.8"/>
<polygon points="365,510.3 367.35,506.07 362.65,506.07" fill="#fff" stroke="#000" stroke-width="0.8"/>
<polygon points="371,511.53 373.35,507.3 368.65,507.3" fill="#fff" stroke="#000" stroke-width="0.8"/>
<line x1="290" y1="399.3" x2="326" y2="399.3" stroke="#444" stroke-width="0.85" />
<text x="308.9" y="399.82" font-size="12" text-anchor="middle" fill="#000" font-weight="bold" letter-spacing="1.8">****</text>
<line x1="306.2" y1="410.5" x2="326" y2="410.5" stroke="#444" stroke-width="0.85" />
<text x="317" y="411.02" font-size="12" text-anchor="middle" fill="#000" font-weight="bold" letter-spacing="1.8">*</text>
<line x1="327.8" y1="397.3" x2="363.8" y2="397.3" stroke="#444" stroke-width="0.85" />
<text x="346.7" y="397.82" font-size="12" text-anchor="middle" fill="#000" font-weight="bold" letter-spacing="1.8">***</text>
<line x1="327.8" y1="408.5" x2="346.4" y2="408.5" stroke="#444" stroke-width="0.85" />
<text x="338" y="409.02" font-size="12" text-anchor="middle" fill="#000" font-weight="bold" letter-spacing="1.8">**</text>
<line x1="459.6" y1="392.5" x2="459.6" y2="516.7" stroke="#000" stroke-width="1.4" />
<line x1="455.2" y1="516" x2="459.6" y2="516" stroke="#000" stroke-width="1.4" />
<text transform="translate(454 518.91) scale(0.92 1)" font-size="8.2" text-anchor="end" fill="#000" font-weight="bold" >0</text>
<line x1="455.2" y1="491.42" x2="459.6" y2="491.42" stroke="#000" stroke-width="1.4" />
<text transform="translate(454 494.33) scale(0.92 1)" font-size="8.2" text-anchor="end" fill="#000" font-weight="bold" >40</text>
<line x1="455.2" y1="466.84" x2="459.6" y2="466.84" stroke="#000" stroke-width="1.4" />
<text transform="translate(454 469.75) scale(0.92 1)" font-size="8.2" text-anchor="end" fill="#000" font-weight="bold" >80</text>
<line x1="455.2" y1="442.26" x2="459.6" y2="442.26" stroke="#000" stroke-width="1.4" />
<text transform="translate(454 445.17) scale(0.92 1)" font-size="8.2" text-anchor="end" fill="#000" font-weight="bold" >120</text>
<line x1="455.2" y1="417.68" x2="459.6" y2="417.68" stroke="#000" stroke-width="1.4" />
<text transform="translate(454 420.59) scale(0.92 1)" font-size="8.2" text-anchor="end" fill="#000" font-weight="bold" >160</text>
<line x1="455.2" y1="393.1" x2="459.6" y2="393.1" stroke="#000" stroke-width="1.4" />
<text transform="translate(454 396.01) scale(0.92 1)" font-size="8.2" text-anchor="end" fill="#000" font-weight="bold" >200</text>
<line x1="458.9" y1="516" x2="570.8" y2="516" stroke="#000" stroke-width="1.4" />
<line x1="472.7" y1="516" x2="472.7" y2="519" stroke="#000" stroke-width="1.2" />
<line x1="493.8" y1="516" x2="493.8" y2="519" stroke="#000" stroke-width="1.2" />
<line x1="514.9" y1="516" x2="514.9" y2="519" stroke="#000" stroke-width="1.2" />
<line x1="535" y1="516" x2="535" y2="519" stroke="#000" stroke-width="1.2" />
<line x1="556" y1="516" x2="556" y2="519" stroke="#000" stroke-width="1.2" />
<line x1="460.4" y1="515.2" x2="570.8" y2="515.2" stroke="#c8000f" stroke-width="1.7" stroke-dasharray="2.4 2.6"/>
<rect x="487.15" y="506.48" width="13.3" height="9.52" fill="#f4abb3" stroke="#000" stroke-width="0.9" />
<rect x="508.25" y="463.15" width="13.3" height="52.85" fill="#9e79b4" stroke="#000" stroke-width="0.9" />
<rect x="528.35" y="509.86" width="13.3" height="6.14" fill="#979dcf" stroke="#000" stroke-width="0.9" />
<rect x="549.35" y="512.31" width="13.3" height="3.69" fill="#659dc4" stroke="#000" stroke-width="0.9" />
<line x1="493.8" y1="506.48" x2="493.8" y2="504.02" stroke="#000" stroke-width="0.9" />
<line x1="490.5" y1="504.02" x2="497.1" y2="504.02" stroke="#000" stroke-width="0.9" />
<line x1="514.9" y1="463.15" x2="514.9" y2="433.78" stroke="#000" stroke-width="0.9" />
<line x1="511.6" y1="433.78" x2="518.2" y2="433.78" stroke="#000" stroke-width="0.9" />
<polygon points="468.2,513.16 471.03,516 468.2,518.84 465.37,516" fill="#fff" stroke="#000" stroke-width="0.8"/>
<polygon points="470.5,513.16 473.33,516 470.5,518.84 467.67,516" fill="#fff" stroke="#000" stroke-width="0.8"/>
<polygon points="472.7,513.16 475.53,516 472.7,518.84 469.87,516" fill="#fff" stroke="#000" stroke-width="0.8"/>
<polygon points="474.9,513.16 477.73,516 474.9,518.84 472.06,516" fill="#fff" stroke="#000" stroke-width="0.8"/>
<polygon points="477.2,513.16 480.03,516 477.2,518.84 474.37,516" fill="#fff" stroke="#000" stroke-width="0.8"/>
<rect x="488.3" y="498.33" width="4" height="4" fill="#fff" stroke="#000" stroke-width="0.8" />
<rect x="487.3" y="502.02" width="4" height="4" fill="#fff" stroke="#000" stroke-width="0.8" />
<rect x="491.8" y="502.02" width="4" height="4" fill="#fff" stroke="#000" stroke-width="0.8" />
<rect x="496.3" y="502.02" width="4" height="4" fill="#fff" stroke="#000" stroke-width="0.8" />
<rect x="493.8" y="502.94" width="4" height="4" fill="#fff" stroke="#000" stroke-width="0.8" />
<circle cx="510.9" cy="435.81" r="2.16" fill="#fff" stroke="#000" stroke-width="0.8"/>
<circle cx="518.9" cy="435.81" r="2.16" fill="#fff" stroke="#000" stroke-width="0.8"/>
<circle cx="514.9" cy="459.47" r="2.16" fill="#fff" stroke="#000" stroke-width="0.8"/>
<circle cx="514.9" cy="481.22" r="2.16" fill="#fff" stroke="#000" stroke-width="0.8"/>
<circle cx="514.9" cy="504.02" r="2.16" fill="#fff" stroke="#000" stroke-width="0.8"/>
<polygon points="531,503.7 533.35,507.93 528.65,507.93" fill="#fff" stroke="#000" stroke-width="0.8"/>
<polygon points="535,501.86 537.35,506.09 532.65,506.09" fill="#fff" stroke="#000" stroke-width="0.8"/>
<polygon points="539,504.32 541.35,508.55 536.65,508.55" fill="#fff" stroke="#000" stroke-width="0.8"/>
<polygon points="532,507.39 534.35,511.62 529.65,511.62" fill="#fff" stroke="#000" stroke-width="0.8"/>
<polygon points="538,508.62 540.35,512.85 535.65,512.85" fill="#fff" stroke="#000" stroke-width="0.8"/>
<polygon points="552,513.55 554.35,509.32 549.65,509.32" fill="#fff" stroke="#000" stroke-width="0.8"/>
<polygon points="556,513.24 558.35,509.01 553.65,509.01" fill="#fff" stroke="#000" stroke-width="0.8"/>
<polygon points="560,514.17 562.35,509.94 557.65,509.94" fill="#fff" stroke="#000" stroke-width="0.8"/>
<polygon points="554,515.39 556.35,511.17 551.65,511.17" fill="#fff" stroke="#000" stroke-width="0.8"/>
<polygon points="558,516.01 560.35,511.78 555.65,511.78" fill="#fff" stroke="#000" stroke-width="0.8"/>
<line x1="472.8" y1="416" x2="512.5" y2="416" stroke="#444" stroke-width="0.85" />
<text x="493.55" y="416.52" font-size="12" text-anchor="middle" fill="#000" font-weight="bold" letter-spacing="1.8">****</text>
<line x1="492.4" y1="427.9" x2="512.5" y2="427.9" stroke="#444" stroke-width="0.85" />
<text x="503.35" y="428.42" font-size="12" text-anchor="middle" fill="#000" font-weight="bold" letter-spacing="1.8">***</text>
<line x1="516.2" y1="413" x2="552" y2="413" stroke="#444" stroke-width="0.85" />
<text x="535" y="413.52" font-size="12" text-anchor="middle" fill="#000" font-weight="bold" letter-spacing="1.8">***</text>
<line x1="516.2" y1="425" x2="533.6" y2="425" stroke="#444" stroke-width="0.85" />
<text x="525.8" y="425.52" font-size="12" text-anchor="middle" fill="#000" font-weight="bold" letter-spacing="1.8">***</text>
<text x="56.9" y="452.9" font-size="10.8" text-anchor="middle" fill="#000" font-weight="bold" transform="rotate(-90 56.9 452.9)" >Neutralizing antibody titer</text>
<text x="69.5" y="452.9" font-size="10.8" text-anchor="middle" fill="#000" font-weight="bold" transform="rotate(-90 69.5 452.9)" >(IU/ml)</text>
<text x="238.8" y="453" font-size="10.8" text-anchor="middle" fill="#000" font-weight="bold" transform="rotate(-90 238.8 453)" >Neutralizing antibody titer</text>
<text x="251.2" y="453" font-size="10.8" text-anchor="middle" fill="#000" font-weight="bold" transform="rotate(-90 251.2 453)" >(IU/ml)</text>
<text x="426.4" y="453.8" font-size="10.8" text-anchor="middle" fill="#000" font-weight="bold" transform="rotate(-90 426.4 453.8)" >Neutralizing antibody titer</text>
<text x="439.4" y="453.8" font-size="10.8" text-anchor="middle" fill="#000" font-weight="bold" transform="rotate(-90 439.4 453.8)" >(IU/ml)</text>
<text x="60" y="506.7" font-size="7.1" text-anchor="start" fill="#c8000f" font-weight="bold" >0.5 IU/ml</text>
<text x="241" y="507.6" font-size="7.1" text-anchor="start" fill="#c8000f" font-weight="bold" >0.5 IU/ml</text>
<text x="428.6" y="511" font-size="7.1" text-anchor="start" fill="#c8000f" font-weight="bold" >0.5 IU/ml</text>
<line x1="89.4" y1="529.6" x2="126" y2="529.6" stroke="#000" stroke-width="1.3" />
<line x1="165.6" y1="529.6" x2="202" y2="529.6" stroke="#000" stroke-width="1.3" />
<text x="128.4" y="533.1" font-size="10" text-anchor="start" fill="#c8000f" font-weight="bold" >Week 2</text>
<line x1="272" y1="527.6" x2="306.7" y2="527.6" stroke="#000" stroke-width="1.3" />
<line x1="348.4" y1="527.6" x2="383.8" y2="527.6" stroke="#000" stroke-width="1.3" />
<text x="310.4" y="531.1" font-size="10" text-anchor="start" fill="#c8000f" font-weight="bold" >Week 5</text>
<line x1="459.6" y1="527.6" x2="493" y2="527.6" stroke="#000" stroke-width="1.3" />
<line x1="537" y1="527.6" x2="570.8" y2="527.6" stroke="#000" stroke-width="1.3" />
<text x="495.6" y="531.1" font-size="10" text-anchor="start" fill="#c8000f" font-weight="bold" >Week 11</text>
<rect x="583" y="420.4" width="9.7" height="6.4" fill="#b8b8b8" stroke="#000" stroke-width="0.8" />
<text x="599" y="427" font-size="9.5" text-anchor="start" fill="#000" font-weight="bold" >Control</text>
<rect x="583" y="438.1" width="9.7" height="6.4" fill="#f4abb3" stroke="#000" stroke-width="0.8" />
<text x="599" y="444.7" font-size="9.5" text-anchor="start" fill="#000" font-weight="bold" >G<tspan font-size="7.03" dy="2.66">DIII</tspan></text>
<rect x="583" y="455.8" width="9.7" height="6.4" fill="#9e79b4" stroke="#000" stroke-width="0.8" />
<text x="599" y="462.4" font-size="9.5" text-anchor="start" fill="#000" font-weight="bold" >G<tspan font-size="7.03" dy="2.66">DIII</tspan><tspan dy="-2.66">-Ferritin</tspan></text>
<rect x="583" y="473.4" width="9.7" height="6.4" fill="#979dcf" stroke="#000" stroke-width="0.8" />
<text x="599" y="480" font-size="9.5" text-anchor="start" fill="#000" font-weight="bold" >G<tspan font-size="7.03" dy="2.66">DIII</tspan><tspan dy="-2.66">-Fc</tspan></text>
<rect x="583" y="490.6" width="9.7" height="6.4" fill="#659dc4" stroke="#000" stroke-width="0.8" />
<text x="599" y="497.2" font-size="9.5" text-anchor="start" fill="#000" font-weight="bold" >G</text>
<text x="79.6" y="553.6" font-size="15.5" text-anchor="start" fill="#000" font-weight="bold" >d</text>
<rect x="158.2" y="649.34" width="14" height="19.66" fill="url(#pC)" stroke="#333" stroke-width="0.9" />
<rect x="180.2" y="613.09" width="14" height="55.91" fill="url(#pGD)" stroke="#333" stroke-width="0.9" />
<rect x="201.6" y="590.81" width="14" height="78.19" fill="url(#pF)" stroke="#333" stroke-width="0.9" />
<rect x="223" y="619.64" width="14" height="49.36" fill="url(#pFc)" stroke="#333" stroke-width="0.9" />
<rect x="244.3" y="616.15" width="14" height="52.85" fill="url(#pG)" stroke="#333" stroke-width="0.9" />
<polygon points="161.2,641.81 163.93,644.54 161.2,647.27 158.47,644.54" fill="#b6b6b6" stroke="#000" stroke-width="0.75"/>
<polygon points="165.7,646.61 168.43,649.34 165.7,652.07 162.97,649.34" fill="#b6b6b6" stroke="#000" stroke-width="0.75"/>
<polygon points="170.2,647.49 172.93,650.22 170.2,652.95 167.47,650.22" fill="#b6b6b6" stroke="#000" stroke-width="0.75"/>
<polygon points="160.8,648.36 163.53,651.09 160.8,653.82 158.07,651.09" fill="#b6b6b6" stroke="#000" stroke-width="0.75"/>
<polygon points="167.2,649.67 169.93,652.4 167.2,655.13 164.47,652.4" fill="#b6b6b6" stroke="#000" stroke-width="0.75"/>
<rect x="179.99" y="610.01" width="4.42" height="4.42" fill="#f7b3bb" stroke="#000" stroke-width="0.75" />
<rect x="184.99" y="610.01" width="4.42" height="4.42" fill="#f7b3bb" stroke="#000" stroke-width="0.75" />
<rect x="189.59" y="611.75" width="4.42" height="4.42" fill="#f7b3bb" stroke="#000" stroke-width="0.75" />
<rect x="179.99" y="614.81" width="4.42" height="4.42" fill="#f7b3bb" stroke="#000" stroke-width="0.75" />
<rect x="186.99" y="611.32" width="4.42" height="4.42" fill="#f7b3bb" stroke="#000" stroke-width="0.75" />
<circle cx="208.6" cy="581.64" r="2.39" fill="#a57fc2" stroke="#000" stroke-width="0.75"/>
<circle cx="208.6" cy="587.32" r="2.39" fill="#a57fc2" stroke="#000" stroke-width="0.75"/>
<circle cx="204.1" cy="596.93" r="2.39" fill="#a57fc2" stroke="#000" stroke-width="0.75"/>
<circle cx="209.1" cy="596.93" r="2.39" fill="#a57fc2" stroke="#000" stroke-width="0.75"/>
<circle cx="213.6" cy="595.62" r="2.39" fill="#a57fc2" stroke="#000" stroke-width="0.75"/>
<polygon points="224.8,619.97 227.4,624.65 222.2,624.65" fill="#8f98d1" stroke="#000" stroke-width="0.75"/>
<polygon points="230.2,614.29 232.8,618.97 227.6,618.97" fill="#8f98d1" stroke="#000" stroke-width="0.75"/>
<polygon points="234.8,613.42 237.4,618.1 232.2,618.1" fill="#8f98d1" stroke="#000" stroke-width="0.75"/>
<polygon points="228,617.35 230.6,622.03 225.4,622.03" fill="#8f98d1" stroke="#000" stroke-width="0.75"/>
<polygon points="233,618.22 235.6,622.9 230.4,622.9" fill="#8f98d1" stroke="#000" stroke-width="0.75"/>
<polygon points="246.3,620.19 248.9,615.51 243.7,615.51" fill="#5ba7d9" stroke="#000" stroke-width="0.75"/>
<polygon points="250.3,618.44 252.9,613.76 247.7,613.76" fill="#5ba7d9" stroke="#000" stroke-width="0.75"/>
<polygon points="254.3,618.88 256.9,614.2 251.7,614.2" fill="#5ba7d9" stroke="#000" stroke-width="0.75"/>
<polygon points="257.3,618.44 259.9,613.76 254.7,613.76" fill="#5ba7d9" stroke="#000" stroke-width="0.75"/>
<polygon points="251.3,619.75 253.9,615.07 248.7,615.07" fill="#5ba7d9" stroke="#000" stroke-width="0.75"/>
<line x1="165.2" y1="652.4" x2="165.2" y2="646.29" stroke="#000" stroke-width="0.7" />
<line x1="162.6" y1="646.29" x2="167.8" y2="646.29" stroke="#000" stroke-width="0.7" />
<line x1="162.6" y1="652.4" x2="167.8" y2="652.4" stroke="#000" stroke-width="0.7" />
<line x1="187.2" y1="615.27" x2="187.2" y2="610.91" stroke="#000" stroke-width="0.7" />
<line x1="184.6" y1="610.91" x2="189.8" y2="610.91" stroke="#000" stroke-width="0.7" />
<line x1="184.6" y1="615.27" x2="189.8" y2="615.27" stroke="#000" stroke-width="0.7" />
<line x1="208.6" y1="597.8" x2="208.6" y2="583.82" stroke="#000" stroke-width="0.7" />
<line x1="206" y1="583.82" x2="211.2" y2="583.82" stroke="#000" stroke-width="0.7" />
<line x1="206" y1="597.8" x2="211.2" y2="597.8" stroke="#000" stroke-width="0.7" />
<line x1="230" y1="622.7" x2="230" y2="616.58" stroke="#000" stroke-width="0.7" />
<line x1="227.4" y1="616.58" x2="232.6" y2="616.58" stroke="#000" stroke-width="0.7" />
<line x1="227.4" y1="622.7" x2="232.6" y2="622.7" stroke="#000" stroke-width="0.7" />
<line x1="251.3" y1="617.89" x2="251.3" y2="614.4" stroke="#000" stroke-width="0.7" />
<line x1="248.7" y1="614.4" x2="253.9" y2="614.4" stroke="#000" stroke-width="0.7" />
<line x1="248.7" y1="617.89" x2="253.9" y2="617.89" stroke="#000" stroke-width="0.7" />
<line x1="152" y1="559.2" x2="152" y2="669.75" stroke="#000" stroke-width="1.5" />
<line x1="147.4" y1="669" x2="152" y2="669" stroke="#000" stroke-width="1.5" />
<text x="145.5" y="672.3" font-size="9.3" text-anchor="end" fill="#000" font-weight="bold" >0.0</text>
<line x1="147.4" y1="647.16" x2="152" y2="647.16" stroke="#000" stroke-width="1.5" />
<text x="145.5" y="650.46" font-size="9.3" text-anchor="end" fill="#000" font-weight="bold" >0.5</text>
<line x1="147.4" y1="625.32" x2="152" y2="625.32" stroke="#000" stroke-width="1.5" />
<text x="145.5" y="628.62" font-size="9.3" text-anchor="end" fill="#000" font-weight="bold" >1.0</text>
<line x1="147.4" y1="603.48" x2="152" y2="603.48" stroke="#000" stroke-width="1.5" />
<text x="145.5" y="606.78" font-size="9.3" text-anchor="end" fill="#000" font-weight="bold" >1.5</text>
<line x1="147.4" y1="581.64" x2="152" y2="581.64" stroke="#000" stroke-width="1.5" />
<text x="145.5" y="584.94" font-size="9.3" text-anchor="end" fill="#000" font-weight="bold" >2.0</text>
<line x1="147.4" y1="559.8" x2="152" y2="559.8" stroke="#000" stroke-width="1.5" />
<text x="145.5" y="563.1" font-size="9.3" text-anchor="end" fill="#000" font-weight="bold" >2.5</text>
<line x1="151.25" y1="669" x2="266.5" y2="669" stroke="#000" stroke-width="1.5" />
<line x1="165.2" y1="669" x2="165.2" y2="672" stroke="#000" stroke-width="1.2" />
<line x1="187.2" y1="669" x2="187.2" y2="672" stroke="#000" stroke-width="1.2" />
<line x1="208.6" y1="669" x2="208.6" y2="672" stroke="#000" stroke-width="1.2" />
<line x1="230" y1="669" x2="230" y2="672" stroke="#000" stroke-width="1.2" />
<line x1="251.3" y1="669" x2="251.3" y2="672" stroke="#000" stroke-width="1.2" />
<line x1="166.8" y1="561" x2="207" y2="561" stroke="#444" stroke-width="0.85" />
<text x="187.35" y="561.82" font-size="12" text-anchor="middle" fill="#000" font-weight="bold" letter-spacing="0.9">****</text>
<line x1="186.7" y1="576.4" x2="207" y2="576.4" stroke="#444" stroke-width="0.85" />
<text x="197.3" y="577.22" font-size="12" text-anchor="middle" fill="#000" font-weight="bold" letter-spacing="0.9">****</text>
<line x1="209.4" y1="559.3" x2="251.4" y2="559.3" stroke="#444" stroke-width="0.85" />
<text x="230.85" y="560.12" font-size="12" text-anchor="middle" fill="#000" font-weight="bold" letter-spacing="0.9">****</text>
<line x1="209.4" y1="573.5" x2="231" y2="573.5" stroke="#444" stroke-width="0.85" />
<text x="220.65" y="574.32" font-size="12" text-anchor="middle" fill="#000" font-weight="bold" letter-spacing="0.9">****</text>
<text x="113.3" y="613" font-size="11" text-anchor="middle" fill="#000" font-weight="bold" transform="rotate(-90 113.3 613)" >Plasma cells percentage</text>
<text x="124.7" y="614" font-size="11" text-anchor="middle" fill="#000" font-weight="bold" transform="rotate(-90 124.7 614)" >in splenic lymphocytes</text>
<polygon points="271.2,576.49 273.62,578.9 271.2,581.31 268.78,578.9" fill="#b6b6b6" stroke="#222" stroke-width="0.6"/>
<text x="283.6" y="582.3" font-size="9.4" text-anchor="start" fill="#000" font-weight="bold" >Control</text>
<rect x="269.25" y="593.84" width="3.91" height="3.91" fill="#f7b3bb" stroke="#222" stroke-width="0.6" />
<text x="283.6" y="599.2" font-size="9.4" text-anchor="start" fill="#000" font-weight="bold" >G<tspan font-size="6.96" dy="2.63">DIII</tspan></text>
<circle cx="271.2" cy="613.2" r="2.12" fill="#a57fc2" stroke="#222" stroke-width="0.6"/>
<text x="283.6" y="616.6" font-size="9.4" text-anchor="start" fill="#000" font-weight="bold" >G<tspan font-size="6.96" dy="2.63">DIII</tspan><tspan dy="-2.63">-Ferritin</tspan></text>
<polygon points="271.2,627.59 273.5,631.73 268.9,631.73" fill="#8f98d1" stroke="#222" stroke-width="0.6"/>
<text x="283.6" y="633.4" font-size="9.4" text-anchor="start" fill="#000" font-weight="bold" >G<tspan font-size="6.96" dy="2.63">DIII</tspan><tspan dy="-2.63">-Fc</tspan></text>
<polygon points="271.2,649.12 273.5,644.98 268.9,644.98" fill="#5ba7d9" stroke="#222" stroke-width="0.6"/>
<text x="283.6" y="650.1" font-size="9.4" text-anchor="start" fill="#000" font-weight="bold" >G</text>
<text x="352.2" y="551.2" font-size="15.5" text-anchor="start" fill="#000" font-weight="bold" >e</text>
<rect x="428.2" y="655.23" width="14" height="16.27" fill="url(#pC)" stroke="#333" stroke-width="0.9" />
<rect x="450.2" y="614.94" width="14" height="56.56" fill="url(#pGD)" stroke="#333" stroke-width="0.9" />
<rect x="472" y="595.72" width="14" height="75.78" fill="url(#pF)" stroke="#333" stroke-width="0.9" />
<rect x="493.6" y="630.84" width="14" height="40.66" fill="url(#pFc)" stroke="#333" stroke-width="0.9" />
<rect x="515.5" y="628.99" width="14" height="42.51" fill="url(#pG)" stroke="#333" stroke-width="0.9" />
<polygon points="433.2,649.55 435.93,652.28 433.2,655.01 430.47,652.28" fill="#b6b6b6" stroke="#000" stroke-width="0.75"/>
<polygon points="437.2,651.4 439.93,654.13 437.2,656.86 434.47,654.13" fill="#b6b6b6" stroke="#000" stroke-width="0.75"/>
<polygon points="440.2,651.77 442.93,654.5 440.2,657.23 437.47,654.5" fill="#b6b6b6" stroke="#000" stroke-width="0.75"/>
<polygon points="431.2,652.13 433.93,654.87 431.2,657.6 428.47,654.87" fill="#b6b6b6" stroke="#000" stroke-width="0.75"/>
<polygon points="435.2,652.5 437.93,655.23 435.2,657.96 432.47,655.23" fill="#b6b6b6" stroke="#000" stroke-width="0.75"/>
<rect x="451.99" y="612.73" width="4.42" height="4.42" fill="#f7b3bb" stroke="#000" stroke-width="0.75" />
<rect x="458.99" y="612.73" width="4.42" height="4.42" fill="#f7b3bb" stroke="#000" stroke-width="0.75" />
<rect x="454.99" y="616.8" width="4.42" height="4.42" fill="#f7b3bb" stroke="#000" stroke-width="0.75" />
<rect x="454.99" y="621.97" width="4.42" height="4.42" fill="#f7b3bb" stroke="#000" stroke-width="0.75" />
<rect x="456.99" y="613.84" width="4.42" height="4.42" fill="#f7b3bb" stroke="#000" stroke-width="0.75" />
<circle cx="477.8" cy="587.22" r="2.39" fill="#a57fc2" stroke="#000" stroke-width="0.75"/>
<circle cx="484" cy="594.24" r="2.39" fill="#a57fc2" stroke="#000" stroke-width="0.75"/>
<circle cx="476.6" cy="597.57" r="2.39" fill="#a57fc2" stroke="#000" stroke-width="0.75"/>
<circle cx="479" cy="602" r="2.39" fill="#a57fc2" stroke="#000" stroke-width="0.75"/>
<circle cx="481" cy="596.83" r="2.39" fill="#a57fc2" stroke="#000" stroke-width="0.75"/>
<polygon points="500.1,621.08 502.7,625.76 497.5,625.76" fill="#8f98d1" stroke="#000" stroke-width="0.75"/>
<polygon points="495.6,629.22 498.2,633.9 493,633.9" fill="#8f98d1" stroke="#000" stroke-width="0.75"/>
<polygon points="500.6,629.59 503.2,634.27 498,634.27" fill="#8f98d1" stroke="#000" stroke-width="0.75"/>
<polygon points="505.6,629.22 508.2,633.9 503,633.9" fill="#8f98d1" stroke="#000" stroke-width="0.75"/>
<polygon points="502.6,628.11 505.2,632.79 500,632.79" fill="#8f98d1" stroke="#000" stroke-width="0.75"/>
<polygon points="517.2,633.2 519.8,628.52 514.6,628.52" fill="#5ba7d9" stroke="#000" stroke-width="0.75"/>
<polygon points="521,629.87 523.6,625.19 518.4,625.19" fill="#5ba7d9" stroke="#000" stroke-width="0.75"/>
<polygon points="524.7,628.39 527.3,623.71 522.1,623.71" fill="#5ba7d9" stroke="#000" stroke-width="0.75"/>
<polygon points="528.4,626.91 531,622.23 525.8,622.23" fill="#5ba7d9" stroke="#000" stroke-width="0.75"/>
<polygon points="522.5,631.35 525.1,626.67 519.9,626.67" fill="#5ba7d9" stroke="#000" stroke-width="0.75"/>
<line x1="435.2" y1="657.08" x2="435.2" y2="653.39" stroke="#000" stroke-width="0.7" />
<line x1="432.6" y1="653.39" x2="437.8" y2="653.39" stroke="#000" stroke-width="0.7" />
<line x1="432.6" y1="657.08" x2="437.8" y2="657.08" stroke="#000" stroke-width="0.7" />
<line x1="457.2" y1="619.75" x2="457.2" y2="610.14" stroke="#000" stroke-width="0.7" />
<line x1="454.6" y1="610.14" x2="459.8" y2="610.14" stroke="#000" stroke-width="0.7" />
<line x1="454.6" y1="619.75" x2="459.8" y2="619.75" stroke="#000" stroke-width="0.7" />
<line x1="479" y1="602.37" x2="479" y2="589.06" stroke="#000" stroke-width="0.7" />
<line x1="476.4" y1="589.06" x2="481.6" y2="589.06" stroke="#000" stroke-width="0.7" />
<line x1="476.4" y1="602.37" x2="481.6" y2="602.37" stroke="#000" stroke-width="0.7" />
<line x1="500.6" y1="634.53" x2="500.6" y2="627.14" stroke="#000" stroke-width="0.7" />
<line x1="498" y1="627.14" x2="503.2" y2="627.14" stroke="#000" stroke-width="0.7" />
<line x1="498" y1="634.53" x2="503.2" y2="634.53" stroke="#000" stroke-width="0.7" />
<line x1="522.5" y1="631.95" x2="522.5" y2="626.03" stroke="#000" stroke-width="0.7" />
<line x1="519.9" y1="626.03" x2="525.1" y2="626.03" stroke="#000" stroke-width="0.7" />
<line x1="519.9" y1="631.95" x2="525.1" y2="631.95" stroke="#000" stroke-width="0.7" />
<line x1="421.2" y1="560" x2="421.2" y2="672.25" stroke="#000" stroke-width="1.5" />
<line x1="416.6" y1="671.5" x2="421.2" y2="671.5" stroke="#000" stroke-width="1.5" />
<text x="414.7" y="674.8" font-size="9.3" text-anchor="end" fill="#000" font-weight="bold" >0</text>
<line x1="416.6" y1="634.53" x2="421.2" y2="634.53" stroke="#000" stroke-width="1.5" />
<text x="414.7" y="637.83" font-size="9.3" text-anchor="end" fill="#000" font-weight="bold" >1</text>
<line x1="416.6" y1="597.57" x2="421.2" y2="597.57" stroke="#000" stroke-width="1.5" />
<text x="414.7" y="600.87" font-size="9.3" text-anchor="end" fill="#000" font-weight="bold" >2</text>
<line x1="416.6" y1="560.6" x2="421.2" y2="560.6" stroke="#000" stroke-width="1.5" />
<text x="414.7" y="563.9" font-size="9.3" text-anchor="end" fill="#000" font-weight="bold" >3</text>
<line x1="420.45" y1="671.5" x2="538.3" y2="671.5" stroke="#000" stroke-width="1.5" />
<line x1="435.2" y1="671.5" x2="435.2" y2="674.5" stroke="#000" stroke-width="1.2" />
<line x1="457.2" y1="671.5" x2="457.2" y2="674.5" stroke="#000" stroke-width="1.2" />
<line x1="479" y1="671.5" x2="479" y2="674.5" stroke="#000" stroke-width="1.2" />
<line x1="500.6" y1="671.5" x2="500.6" y2="674.5" stroke="#000" stroke-width="1.2" />
<line x1="522.5" y1="671.5" x2="522.5" y2="674.5" stroke="#000" stroke-width="1.2" />
<line x1="436.4" y1="570.2" x2="477.8" y2="570.2" stroke="#444" stroke-width="0.85" />
<text x="457.55" y="571.02" font-size="12" text-anchor="middle" fill="#000" font-weight="bold" letter-spacing="0.9">****</text>
<line x1="456.7" y1="582.9" x2="477.8" y2="582.9" stroke="#444" stroke-width="0.85" />
<text x="467.7" y="583.72" font-size="12" text-anchor="middle" fill="#000" font-weight="bold" letter-spacing="0.9">***</text>
<line x1="481.2" y1="566.5" x2="522.7" y2="566.5" stroke="#444" stroke-width="0.85" />
<text x="502.4" y="567.32" font-size="12" text-anchor="middle" fill="#000" font-weight="bold" letter-spacing="0.9">****</text>
<line x1="481.2" y1="580.9" x2="504.3" y2="580.9" stroke="#444" stroke-width="0.85" />
<text x="493.2" y="581.72" font-size="12" text-anchor="middle" fill="#000" font-weight="bold" letter-spacing="0.9">****</text>
<text x="387.6" y="615.7" font-size="11.65" text-anchor="middle" fill="#000" font-weight="bold" transform="rotate(-90 387.6 615.7)" >IgG<tspan font-size="7" dy="-4">+</tspan><tspan dy="4">B cells percentage</tspan></text>
<text x="402.8" y="615.5" font-size="11.5" text-anchor="middle" fill="#000" font-weight="bold" transform="rotate(-90 402.8 615.5)" >in CD38<tspan font-size="7" dy="-4">+</tspan><tspan dy="4"> B cells</tspan></text>
<polygon points="543.8,578.49 546.21,580.9 543.8,583.31 541.38,580.9" fill="#b6b6b6" stroke="#222" stroke-width="0.6"/>
<text x="557" y="584.3" font-size="9.4" text-anchor="start" fill="#000" font-weight="bold" >Control</text>
<rect x="541.84" y="597.04" width="3.91" height="3.91" fill="#f7b3bb" stroke="#222" stroke-width="0.6" />
<text x="557" y="602.4" font-size="9.4" text-anchor="start" fill="#000" font-weight="bold" >G<tspan font-size="6.96" dy="2.63">DIII</tspan></text>
<circle cx="543.8" cy="616.4" r="2.12" fill="#a57fc2" stroke="#222" stroke-width="0.6"/>
<text x="557" y="619.8" font-size="9.4" text-anchor="start" fill="#000" font-weight="bold" >G<tspan font-size="6.96" dy="2.63">DIII</tspan><tspan dy="-2.63">-Ferritin</tspan></text>
<polygon points="543.8,631.38 546.1,635.52 541.5,635.52" fill="#8f98d1" stroke="#222" stroke-width="0.6"/>
<text x="557" y="637.2" font-size="9.4" text-anchor="start" fill="#000" font-weight="bold" >G<tspan font-size="6.96" dy="2.63">DIII</tspan><tspan dy="-2.63">-Fc</tspan></text>
<polygon points="543.8,652.81 546.1,648.67 541.5,648.67" fill="#5ba7d9" stroke="#222" stroke-width="0.6"/>
<text x="557" y="653.8" font-size="9.4" text-anchor="start" fill="#000" font-weight="bold" >G</text>
<text x="73.4" y="700" font-size="15.5" text-anchor="start" fill="#000" font-weight="bold" >f</text>
<rect x="128.3" y="809.27" width="9.8" height="22.63" fill="url(#pC)" stroke="#333" stroke-width="0.9" />
<rect x="142.8" y="757.35" width="9.8" height="74.55" fill="url(#pGD)" stroke="#333" stroke-width="0.9" />
<rect x="157.4" y="745.37" width="9.8" height="86.53" fill="url(#pF)" stroke="#333" stroke-width="0.9" />
<rect x="172" y="800.62" width="9.8" height="31.28" fill="url(#pFc)" stroke="#333" stroke-width="0.9" />
<rect x="186.3" y="793.29" width="9.8" height="38.61" fill="url(#pG)" stroke="#333" stroke-width="0.9" />
<rect x="210.4" y="810.6" width="9.8" height="21.3" fill="url(#pC)" stroke="#333" stroke-width="0.9" />
<rect x="225.2" y="814.59" width="9.8" height="17.31" fill="url(#pGD)" stroke="#333" stroke-width="0.9" />
<rect x="239.9" y="817.92" width="9.8" height="13.98" fill="url(#pF)" stroke="#333" stroke-width="0.9" />
<rect x="254.3" y="803.94" width="9.8" height="27.96" fill="url(#pFc)" stroke="#333" stroke-width="0.9" />
<rect x="269.1" y="807.27" width="9.8" height="24.63" fill="url(#pG)" stroke="#333" stroke-width="0.9" />
<polygon points="130.7,804.65 133.32,807.27 130.7,809.9 128.07,807.27" fill="#b6b6b6" stroke="#000" stroke-width="0.75"/>
<polygon points="134.2,805.98 136.82,808.6 134.2,811.23 131.57,808.6" fill="#b6b6b6" stroke="#000" stroke-width="0.75"/>
<polygon points="136.2,807.31 138.82,809.93 136.2,812.56 133.57,809.93" fill="#b6b6b6" stroke="#000" stroke-width="0.75"/>
<polygon points="132.2,807.98 134.82,810.6 132.2,813.23 129.57,810.6" fill="#b6b6b6" stroke="#000" stroke-width="0.75"/>
<rect x="143.07" y="751.23" width="4.25" height="4.25" fill="#f7b3bb" stroke="#000" stroke-width="0.75" />
<rect x="147.57" y="751.23" width="4.25" height="4.25" fill="#f7b3bb" stroke="#000" stroke-width="0.75" />
<rect x="145.57" y="756.56" width="4.25" height="4.25" fill="#f7b3bb" stroke="#000" stroke-width="0.75" />
<rect x="145.57" y="761.88" width="4.25" height="4.25" fill="#f7b3bb" stroke="#000" stroke-width="0.75" />
<circle cx="162.3" cy="732.72" r="2.3" fill="#a57fc2" stroke="#000" stroke-width="0.75"/>
<circle cx="162.3" cy="742.71" r="2.3" fill="#a57fc2" stroke="#000" stroke-width="0.75"/>
<circle cx="159.8" cy="753.36" r="2.3" fill="#a57fc2" stroke="#000" stroke-width="0.75"/>
<circle cx="164.8" cy="748.03" r="2.3" fill="#a57fc2" stroke="#000" stroke-width="0.75"/>
<polygon points="176.9,794.66 179.4,799.16 174.4,799.16" fill="#8f98d1" stroke="#000" stroke-width="0.75"/>
<polygon points="178.9,796.66 181.4,801.16 176.4,801.16" fill="#8f98d1" stroke="#000" stroke-width="0.75"/>
<polygon points="174.4,801.32 176.9,805.82 171.9,805.82" fill="#8f98d1" stroke="#000" stroke-width="0.75"/>
<polygon points="178.4,799.32 180.9,803.82 175.9,803.82" fill="#8f98d1" stroke="#000" stroke-width="0.75"/>
<polygon points="190.2,793.92 192.7,789.42 187.7,789.42" fill="#5ba7d9" stroke="#000" stroke-width="0.75"/>
<polygon points="193.2,795.25 195.7,790.75 190.7,790.75" fill="#5ba7d9" stroke="#000" stroke-width="0.75"/>
<polygon points="188.7,797.25 191.2,792.75 186.2,792.75" fill="#5ba7d9" stroke="#000" stroke-width="0.75"/>
<polygon points="192.2,795.92 194.7,791.42 189.7,791.42" fill="#5ba7d9" stroke="#000" stroke-width="0.75"/>
<polygon points="212.8,807.31 215.43,809.93 212.8,812.56 210.18,809.93" fill="#b6b6b6" stroke="#000" stroke-width="0.75"/>
<polygon points="215.3,805.98 217.93,808.6 215.3,811.23 212.68,808.6" fill="#b6b6b6" stroke="#000" stroke-width="0.75"/>
<polygon points="217.8,807.98 220.43,810.6 217.8,813.23 215.18,810.6" fill="#b6b6b6" stroke="#000" stroke-width="0.75"/>
<polygon points="215.3,809.31 217.93,811.93 215.3,814.56 212.68,811.93" fill="#b6b6b6" stroke="#000" stroke-width="0.75"/>
<rect x="225.47" y="813.13" width="4.25" height="4.25" fill="#f7b3bb" stroke="#000" stroke-width="0.75" />
<rect x="230.47" y="811.14" width="4.25" height="4.25" fill="#f7b3bb" stroke="#000" stroke-width="0.75" />
<rect x="228.97" y="814.47" width="4.25" height="4.25" fill="#f7b3bb" stroke="#000" stroke-width="0.75" />
<rect x="226.97" y="813.8" width="4.25" height="4.25" fill="#f7b3bb" stroke="#000" stroke-width="0.75" />
<circle cx="242.8" cy="813.93" r="2.3" fill="#a57fc2" stroke="#000" stroke-width="0.75"/>
<circle cx="246.8" cy="815.92" r="2.3" fill="#a57fc2" stroke="#000" stroke-width="0.75"/>
<circle cx="242.8" cy="821.25" r="2.3" fill="#a57fc2" stroke="#000" stroke-width="0.75"/>
<circle cx="245.8" cy="819.92" r="2.3" fill="#a57fc2" stroke="#000" stroke-width="0.75"/>
<polygon points="256.7,798.66 259.2,803.16 254.2,803.16" fill="#8f98d1" stroke="#000" stroke-width="0.75"/>
<polygon points="261.2,799.99 263.7,804.49 258.7,804.49" fill="#8f98d1" stroke="#000" stroke-width="0.75"/>
<polygon points="258.2,802.65 260.7,807.15 255.7,807.15" fill="#8f98d1" stroke="#000" stroke-width="0.75"/>
<polygon points="261.7,801.98 264.2,806.48 259.2,806.48" fill="#8f98d1" stroke="#000" stroke-width="0.75"/>
<polygon points="272,808.57 274.5,804.07 269.5,804.07" fill="#5ba7d9" stroke="#000" stroke-width="0.75"/>
<polygon points="276,808.57 278.5,804.07 273.5,804.07" fill="#5ba7d9" stroke="#000" stroke-width="0.75"/>
<polygon points="274,810.56 276.5,806.06 271.5,806.06" fill="#5ba7d9" stroke="#000" stroke-width="0.75"/>
<polygon points="275,809.23 277.5,804.73 272.5,804.73" fill="#5ba7d9" stroke="#000" stroke-width="0.75"/>
<line x1="133.2" y1="811.27" x2="133.2" y2="807.27" stroke="#000" stroke-width="0.7" />
<line x1="130.6" y1="807.27" x2="135.8" y2="807.27" stroke="#000" stroke-width="0.7" />
<line x1="130.6" y1="811.27" x2="135.8" y2="811.27" stroke="#000" stroke-width="0.7" />
<line x1="147.7" y1="762.67" x2="147.7" y2="752.02" stroke="#000" stroke-width="0.7" />
<line x1="145.1" y1="752.02" x2="150.3" y2="752.02" stroke="#000" stroke-width="0.7" />
<line x1="145.1" y1="762.67" x2="150.3" y2="762.67" stroke="#000" stroke-width="0.7" />
<line x1="162.3" y1="753.36" x2="162.3" y2="737.38" stroke="#000" stroke-width="0.7" />
<line x1="159.7" y1="737.38" x2="164.9" y2="737.38" stroke="#000" stroke-width="0.7" />
<line x1="159.7" y1="753.36" x2="164.9" y2="753.36" stroke="#000" stroke-width="0.7" />
<line x1="176.9" y1="803.94" x2="176.9" y2="797.29" stroke="#000" stroke-width="0.7" />
<line x1="174.3" y1="797.29" x2="179.5" y2="797.29" stroke="#000" stroke-width="0.7" />
<line x1="174.3" y1="803.94" x2="179.5" y2="803.94" stroke="#000" stroke-width="0.7" />
<line x1="191.2" y1="795.29" x2="191.2" y2="791.3" stroke="#000" stroke-width="0.7" />
<line x1="188.6" y1="791.3" x2="193.8" y2="791.3" stroke="#000" stroke-width="0.7" />
<line x1="188.6" y1="795.29" x2="193.8" y2="795.29" stroke="#000" stroke-width="0.7" />
<line x1="215.3" y1="812.6" x2="215.3" y2="808.6" stroke="#000" stroke-width="0.7" />
<line x1="212.7" y1="808.6" x2="217.9" y2="808.6" stroke="#000" stroke-width="0.7" />
<line x1="212.7" y1="812.6" x2="217.9" y2="812.6" stroke="#000" stroke-width="0.7" />
<line x1="230.1" y1="816.59" x2="230.1" y2="812.6" stroke="#000" stroke-width="0.7" />
<line x1="227.5" y1="812.6" x2="232.7" y2="812.6" stroke="#000" stroke-width="0.7" />
<line x1="227.5" y1="816.59" x2="232.7" y2="816.59" stroke="#000" stroke-width="0.7" />
<line x1="244.8" y1="821.92" x2="244.8" y2="813.93" stroke="#000" stroke-width="0.7" />
<line x1="242.2" y1="813.93" x2="247.4" y2="813.93" stroke="#000" stroke-width="0.7" />
<line x1="242.2" y1="821.92" x2="247.4" y2="821.92" stroke="#000" stroke-width="0.7" />
<line x1="259.2" y1="806.61" x2="259.2" y2="801.28" stroke="#000" stroke-width="0.7" />
<line x1="256.6" y1="801.28" x2="261.8" y2="801.28" stroke="#000" stroke-width="0.7" />
<line x1="256.6" y1="806.61" x2="261.8" y2="806.61" stroke="#000" stroke-width="0.7" />
<line x1="274" y1="808.6" x2="274" y2="805.94" stroke="#000" stroke-width="0.7" />
<line x1="271.4" y1="805.94" x2="276.6" y2="805.94" stroke="#000" stroke-width="0.7" />
<line x1="271.4" y1="808.6" x2="276.6" y2="808.6" stroke="#000" stroke-width="0.7" />
<line x1="124" y1="724.8" x2="124" y2="832.65" stroke="#000" stroke-width="1.5" />
<line x1="119.4" y1="831.9" x2="124" y2="831.9" stroke="#000" stroke-width="1.5" />
<text x="117.5" y="835.2" font-size="9.3" text-anchor="end" fill="#000" font-weight="bold" >0</text>
<line x1="119.4" y1="805.27" x2="124" y2="805.27" stroke="#000" stroke-width="1.5" />
<text x="117.5" y="808.58" font-size="9.3" text-anchor="end" fill="#000" font-weight="bold" >2</text>
<line x1="119.4" y1="778.65" x2="124" y2="778.65" stroke="#000" stroke-width="1.5" />
<text x="117.5" y="781.95" font-size="9.3" text-anchor="end" fill="#000" font-weight="bold" >4</text>
<line x1="119.4" y1="752.02" x2="124" y2="752.02" stroke="#000" stroke-width="1.5" />
<text x="117.5" y="755.33" font-size="9.3" text-anchor="end" fill="#000" font-weight="bold" >6</text>
<line x1="119.4" y1="725.4" x2="124" y2="725.4" stroke="#000" stroke-width="1.5" />
<text x="117.5" y="728.7" font-size="9.3" text-anchor="end" fill="#000" font-weight="bold" >8</text>
<line x1="123.25" y1="831.9" x2="283.8" y2="831.9" stroke="#000" stroke-width="1.5" />
<line x1="162.3" y1="831.9" x2="162.3" y2="834.9" stroke="#000" stroke-width="1.2" />
<line x1="244.8" y1="831.9" x2="244.8" y2="834.9" stroke="#000" stroke-width="1.2" />
<line x1="132.5" y1="717.2" x2="161.7" y2="717.2" stroke="#444" stroke-width="0.85" />
<text x="147.55" y="717.42" font-size="12" text-anchor="middle" fill="#000" font-weight="bold" letter-spacing="0.9">****</text>
<line x1="146.4" y1="728.6" x2="161.7" y2="728.6" stroke="#444" stroke-width="0.85" />
<text x="154.5" y="728.82" font-size="12" text-anchor="middle" fill="#000" font-weight="bold" letter-spacing="0.9">*</text>
<line x1="163.7" y1="714.7" x2="191.5" y2="714.7" stroke="#444" stroke-width="0.85" />
<text x="178.05" y="714.92" font-size="12" text-anchor="middle" fill="#000" font-weight="bold" letter-spacing="0.9">****</text>
<line x1="163.7" y1="727" x2="182.8" y2="727" stroke="#444" stroke-width="0.85" />
<text x="173.7" y="727.22" font-size="12" text-anchor="middle" fill="#000" font-weight="bold" letter-spacing="0.9">****</text>
<line x1="216.8" y1="796" x2="249" y2="796" stroke="#444" stroke-width="0.85" />
<text x="233.35" y="796.22" font-size="12" text-anchor="middle" fill="#000" font-weight="bold" letter-spacing="0.9">**</text>
<line x1="230.2" y1="807" x2="249" y2="807" stroke="#444" stroke-width="0.85" />
<text x="239.6" y="802" font-size="7" text-anchor="middle" fill="#000" font-weight="bold" >ns</text>
<line x1="245" y1="778.5" x2="274.4" y2="778.5" stroke="#444" stroke-width="0.85" />
<text x="260.15" y="778.72" font-size="12" text-anchor="middle" fill="#000" font-weight="bold" letter-spacing="0.9">***</text>
<line x1="245" y1="791" x2="264" y2="791" stroke="#444" stroke-width="0.85" />
<text x="254.95" y="791.22" font-size="12" text-anchor="middle" fill="#000" font-weight="bold" letter-spacing="0.9">****</text>
<text x="162.3" y="846.7" font-size="9.3" text-anchor="middle" fill="#000" font-weight="bold" >IFN-γ</text>
<text x="245" y="846.7" font-size="9.3" text-anchor="middle" fill="#000" font-weight="bold" >IL-4</text>
<text x="160.5" y="695.4" font-size="10.2" text-anchor="middle" fill="#000" font-weight="bold" >Th1</text>
<text x="244" y="695.4" font-size="10.2" text-anchor="middle" fill="#000" font-weight="bold" >Th2</text>
<line x1="127.5" y1="700.6" x2="194" y2="700.6" stroke="#000" stroke-width="1.4" stroke-dasharray="4.5 2.2"/>
<line x1="209.4" y1="700.6" x2="276.8" y2="700.6" stroke="#000" stroke-width="1.4" stroke-dasharray="4.5 2.2"/>
<text x="91.6" y="777.9" font-size="11" text-anchor="middle" fill="#000" font-weight="bold" transform="rotate(-90 91.6 777.9)" >Th1/Th2 cells percentage</text>
<text x="107.7" y="778" font-size="11" text-anchor="middle" fill="#000" font-weight="bold" transform="rotate(-90 107.7 778)" >in CD4<tspan font-size="7" dy="-4">+</tspan><tspan dy="4"> T cells</tspan></text>
<polygon points="291.2,721.79 293.62,724.2 291.2,726.62 288.78,724.2" fill="#b6b6b6" stroke="#222" stroke-width="0.6"/>
<text x="303.6" y="727.8" font-size="10.1" text-anchor="start" fill="#000" font-weight="bold" >Control</text>
<rect x="289.25" y="741.34" width="3.91" height="3.91" fill="#f7b3bb" stroke="#222" stroke-width="0.6" />
<text x="303.6" y="746.9" font-size="10.1" text-anchor="start" fill="#000" font-weight="bold" >G<tspan font-size="7.47" dy="2.83">DIII</tspan></text>
<circle cx="291.2" cy="761.9" r="2.12" fill="#a57fc2" stroke="#222" stroke-width="0.6"/>
<text x="303.6" y="765.5" font-size="10.1" text-anchor="start" fill="#000" font-weight="bold" >G<tspan font-size="7.47" dy="2.83">DIII</tspan><tspan dy="-2.83">-Ferritin</tspan></text>
<polygon points="291.2,778.79 293.5,782.93 288.9,782.93" fill="#8f98d1" stroke="#222" stroke-width="0.6"/>
<text x="303.6" y="784.8" font-size="10.1" text-anchor="start" fill="#000" font-weight="bold" >G<tspan font-size="7.47" dy="2.83">DIII</tspan><tspan dy="-2.83">-Fc</tspan></text>
<polygon points="291.2,802.31 293.5,798.17 288.9,798.17" fill="#5ba7d9" stroke="#222" stroke-width="0.6"/>
<text x="303.6" y="803.5" font-size="10.1" text-anchor="start" fill="#000" font-weight="bold" >G</text>
<text x="392.2" y="698.2" font-size="15.5" text-anchor="start" fill="#000" font-weight="bold" >g</text>
<rect x="465.2" y="812.34" width="15" height="19.06" fill="url(#pC)" stroke="#333" stroke-width="0.9" />
<rect x="487.6" y="791.7" width="15" height="39.7" fill="url(#pGD)" stroke="#333" stroke-width="0.9" />
<rect x="510.2" y="756.76" width="15" height="74.64" fill="url(#pF)" stroke="#333" stroke-width="0.9" />
<rect x="532.8" y="809.96" width="15" height="21.44" fill="url(#pFc)" stroke="#333" stroke-width="0.9" />
<rect x="555.1" y="801.23" width="15" height="30.17" fill="url(#pG)" stroke="#333" stroke-width="0.9" />
<polygon points="468.7,804.74 471.53,807.58 468.7,810.41 465.87,807.58" fill="#b6b6b6" stroke="#000" stroke-width="0.75"/>
<polygon points="473.2,806.73 476.03,809.56 473.2,812.4 470.37,809.56" fill="#b6b6b6" stroke="#000" stroke-width="0.75"/>
<polygon points="478.2,809.91 481.03,812.74 478.2,815.58 475.37,812.74" fill="#b6b6b6" stroke="#000" stroke-width="0.75"/>
<polygon points="469.7,813.48 472.53,816.31 469.7,819.15 466.87,816.31" fill="#b6b6b6" stroke="#000" stroke-width="0.75"/>
<polygon points="473.7,808.71 476.53,811.55 473.7,814.38 470.87,811.55" fill="#b6b6b6" stroke="#000" stroke-width="0.75"/>
<rect x="492.81" y="777.5" width="4.59" height="4.59" fill="#f7b3bb" stroke="#000" stroke-width="0.75" />
<rect x="488.31" y="793.38" width="4.59" height="4.59" fill="#f7b3bb" stroke="#000" stroke-width="0.75" />
<rect x="493.81" y="793.38" width="4.59" height="4.59" fill="#f7b3bb" stroke="#000" stroke-width="0.75" />
<rect x="497.81" y="793.38" width="4.59" height="4.59" fill="#f7b3bb" stroke="#000" stroke-width="0.75" />
<rect x="492.81" y="787.82" width="4.59" height="4.59" fill="#f7b3bb" stroke="#000" stroke-width="0.75" />
<circle cx="517.7" cy="743.27" r="2.48" fill="#a57fc2" stroke="#000" stroke-width="0.75"/>
<circle cx="517.7" cy="753.59" r="2.48" fill="#a57fc2" stroke="#000" stroke-width="0.75"/>
<circle cx="523.2" cy="753.59" r="2.48" fill="#a57fc2" stroke="#000" stroke-width="0.75"/>
<circle cx="517.7" cy="778.2" r="2.48" fill="#a57fc2" stroke="#000" stroke-width="0.75"/>
<circle cx="519.7" cy="759.94" r="2.48" fill="#a57fc2" stroke="#000" stroke-width="0.75"/>
<polygon points="542.3,799.19 545,804.05 539.6,804.05" fill="#8f98d1" stroke="#000" stroke-width="0.75"/>
<polygon points="536.8,808.71 539.5,813.57 534.1,813.57" fill="#8f98d1" stroke="#000" stroke-width="0.75"/>
<polygon points="541.8,808.71 544.5,813.57 539.1,813.57" fill="#8f98d1" stroke="#000" stroke-width="0.75"/>
<polygon points="546.8,808.71 549.5,813.57 544.1,813.57" fill="#8f98d1" stroke="#000" stroke-width="0.75"/>
<polygon points="540.3,807.92 543,812.78 537.6,812.78" fill="#8f98d1" stroke="#000" stroke-width="0.75"/>
<polygon points="558.6,802.48 561.3,797.62 555.9,797.62" fill="#5ba7d9" stroke="#000" stroke-width="0.75"/>
<polygon points="563.1,804.06 565.8,799.2 560.4,799.2" fill="#5ba7d9" stroke="#000" stroke-width="0.75"/>
<polygon points="567.6,804.06 570.3,799.2 564.9,799.2" fill="#5ba7d9" stroke="#000" stroke-width="0.75"/>
<polygon points="558.6,806.45 561.3,801.59 555.9,801.59" fill="#5ba7d9" stroke="#000" stroke-width="0.75"/>
<polygon points="564.6,803.27 567.3,798.41 561.9,798.41" fill="#5ba7d9" stroke="#000" stroke-width="0.75"/>
<line x1="472.7" y1="816.71" x2="472.7" y2="807.98" stroke="#000" stroke-width="0.7" />
<line x1="470.1" y1="807.98" x2="475.3" y2="807.98" stroke="#000" stroke-width="0.7" />
<line x1="470.1" y1="816.71" x2="475.3" y2="816.71" stroke="#000" stroke-width="0.7" />
<line x1="495.1" y1="798.05" x2="495.1" y2="785.35" stroke="#000" stroke-width="0.7" />
<line x1="492.5" y1="785.35" x2="497.7" y2="785.35" stroke="#000" stroke-width="0.7" />
<line x1="492.5" y1="798.05" x2="497.7" y2="798.05" stroke="#000" stroke-width="0.7" />
<line x1="517.7" y1="771.85" x2="517.7" y2="741.68" stroke="#000" stroke-width="0.7" />
<line x1="515.1" y1="741.68" x2="520.3" y2="741.68" stroke="#000" stroke-width="0.7" />
<line x1="515.1" y1="771.85" x2="520.3" y2="771.85" stroke="#000" stroke-width="0.7" />
<line x1="540.3" y1="813.93" x2="540.3" y2="805.99" stroke="#000" stroke-width="0.7" />
<line x1="537.7" y1="805.99" x2="542.9" y2="805.99" stroke="#000" stroke-width="0.7" />
<line x1="537.7" y1="813.93" x2="542.9" y2="813.93" stroke="#000" stroke-width="0.7" />
<line x1="562.6" y1="803.21" x2="562.6" y2="799.24" stroke="#000" stroke-width="0.7" />
<line x1="560" y1="799.24" x2="565.2" y2="799.24" stroke="#000" stroke-width="0.7" />
<line x1="560" y1="803.21" x2="565.2" y2="803.21" stroke="#000" stroke-width="0.7" />
<line x1="458.9" y1="711.7" x2="458.9" y2="832.15" stroke="#000" stroke-width="1.5" />
<line x1="454.3" y1="831.4" x2="458.9" y2="831.4" stroke="#000" stroke-width="1.5" />
<text x="452.4" y="834.7" font-size="9.3" text-anchor="end" fill="#000" font-weight="bold" >0</text>
<line x1="454.3" y1="791.7" x2="458.9" y2="791.7" stroke="#000" stroke-width="1.5" />
<text x="452.4" y="795" font-size="9.3" text-anchor="end" fill="#000" font-weight="bold" >5</text>
<line x1="454.3" y1="752" x2="458.9" y2="752" stroke="#000" stroke-width="1.5" />
<text x="452.4" y="755.3" font-size="9.3" text-anchor="end" fill="#000" font-weight="bold" >10</text>
<line x1="454.3" y1="712.3" x2="458.9" y2="712.3" stroke="#000" stroke-width="1.5" />
<text x="452.4" y="715.6" font-size="9.3" text-anchor="end" fill="#000" font-weight="bold" >15</text>
<line x1="458.15" y1="831.4" x2="579" y2="831.4" stroke="#000" stroke-width="1.5" />
<line x1="472.7" y1="831.4" x2="472.7" y2="834.4" stroke="#000" stroke-width="1.2" />
<line x1="495.1" y1="831.4" x2="495.1" y2="834.4" stroke="#000" stroke-width="1.2" />
<line x1="517.7" y1="831.4" x2="517.7" y2="834.4" stroke="#000" stroke-width="1.2" />
<line x1="540.3" y1="831.4" x2="540.3" y2="834.4" stroke="#000" stroke-width="1.2" />
<line x1="562.6" y1="831.4" x2="562.6" y2="834.4" stroke="#000" stroke-width="1.2" />
<line x1="476.8" y1="725.2" x2="517.7" y2="725.2" stroke="#444" stroke-width="0.85" />
<text x="497.7" y="725.42" font-size="12" text-anchor="middle" fill="#000" font-weight="bold" letter-spacing="0.9">****</text>
<line x1="497.4" y1="737.6" x2="517.7" y2="737.6" stroke="#444" stroke-width="0.85" />
<text x="508" y="737.82" font-size="12" text-anchor="middle" fill="#000" font-weight="bold" letter-spacing="0.9">***</text>
<line x1="520.5" y1="722.2" x2="560.2" y2="722.2" stroke="#444" stroke-width="0.85" />
<text x="540.8" y="722.42" font-size="12" text-anchor="middle" fill="#000" font-weight="bold" letter-spacing="0.9">****</text>
<line x1="520.5" y1="736.6" x2="540.3" y2="736.6" stroke="#444" stroke-width="0.85" />
<text x="530.85" y="736.82" font-size="12" text-anchor="middle" fill="#000" font-weight="bold" letter-spacing="0.9">****</text>
<text x="417.4" y="768.6" font-size="11.65" text-anchor="middle" fill="#000" font-weight="bold" transform="rotate(-90 417.4 768.6)" >IFN-γ<tspan font-size="7.8" dy="-5">&#160;+</tspan><tspan dy="5"> cells percentage</tspan></text>
<text x="433.2" y="770" font-size="11.65" text-anchor="middle" fill="#000" font-weight="bold" transform="rotate(-90 433.2 770)" >in CD8<tspan font-size="7.5" dy="-4.5">+</tspan><tspan dy="4.5"> T cells</tspan></text>
<polygon points="585.7,728.99 588.12,731.4 585.7,733.81 583.29,731.4" fill="#b6b6b6" stroke="#222" stroke-width="0.6"/>
<text x="598.9" y="735" font-size="10.1" text-anchor="start" fill="#000" font-weight="bold" >Control</text>
<rect x="583.75" y="745.04" width="3.91" height="3.91" fill="#f7b3bb" stroke="#222" stroke-width="0.6" />
<text x="598.9" y="750.6" font-size="10.1" text-anchor="start" fill="#000" font-weight="bold" >G<tspan font-size="7.47" dy="2.83">DIII</tspan></text>
<circle cx="585.7" cy="762.6" r="2.12" fill="#a57fc2" stroke="#222" stroke-width="0.6"/>
<text x="598.9" y="766.2" font-size="10.1" text-anchor="start" fill="#000" font-weight="bold" >G<tspan font-size="7.47" dy="2.83">DIII</tspan><tspan dy="-2.83">-Ferritin</tspan></text>
<polygon points="585.7,775.59 588,779.73 583.4,779.73" fill="#8f98d1" stroke="#222" stroke-width="0.6"/>
<text x="598.9" y="781.6" font-size="10.1" text-anchor="start" fill="#000" font-weight="bold" >G<tspan font-size="7.47" dy="2.83">DIII</tspan><tspan dy="-2.83">-Fc</tspan></text>
<polygon points="585.7,795.81 588,791.67 583.4,791.67" fill="#5ba7d9" stroke="#222" stroke-width="0.6"/>
<text x="598.9" y="797" font-size="10.1" text-anchor="start" fill="#000" font-weight="bold" >G</text>
<text x="17.2" y="863.6" font-size="15.5" text-anchor="start" fill="#000" font-weight="bold" >h</text>
<rect x="52.7" y="949.27" width="10" height="38.73" fill="#b8b8b8" stroke="#000" stroke-width="0.8" />
<rect x="68.2" y="948.86" width="10" height="39.14" fill="#f4abb3" stroke="#000" stroke-width="0.8" />
<rect x="83.5" y="949.68" width="10" height="38.32" fill="#9e79b4" stroke="#000" stroke-width="0.8" />
<rect x="98.7" y="947.83" width="10" height="40.17" fill="#979dcf" stroke="#000" stroke-width="0.8" />
<rect x="114" y="947.83" width="10" height="40.17" fill="#659dc4" stroke="#000" stroke-width="0.8" />
<rect x="139.6" y="946.3" width="10" height="41.7" fill="#b8b8b8" stroke="none" stroke-width="0.8" />
<line x1="139.6" y1="946.3" x2="139.6" y2="988" stroke="#000" stroke-width="0.8" />
<line x1="149.6" y1="946.3" x2="149.6" y2="988" stroke="#000" stroke-width="0.8" />
<rect x="139.6" y="932.09" width="10" height="7.71" fill="#b8b8b8" stroke="none" stroke-width="0.8" />
<path d="M139.6,939.8 V932.09 H149.6 V939.8" fill="none" stroke="#000" stroke-width="0.8"/>
<rect x="154.7" y="946.3" width="10" height="41.7" fill="#f4abb3" stroke="none" stroke-width="0.8" />
<line x1="154.7" y1="946.3" x2="154.7" y2="988" stroke="#000" stroke-width="0.8" />
<line x1="164.7" y1="946.3" x2="164.7" y2="988" stroke="#000" stroke-width="0.8" />
<rect x="154.7" y="901.25" width="10" height="38.55" fill="#f4abb3" stroke="none" stroke-width="0.8" />
<path d="M154.7,939.8 V901.25 H164.7 V939.8" fill="none" stroke="#000" stroke-width="0.8"/>
<rect x="170" y="946.3" width="10" height="41.7" fill="#9e79b4" stroke="none" stroke-width="0.8" />
<line x1="170" y1="946.3" x2="170" y2="988" stroke="#000" stroke-width="0.8" />
<line x1="180" y1="946.3" x2="180" y2="988" stroke="#000" stroke-width="0.8" />
<rect x="170" y="890.55" width="10" height="49.25" fill="#9e79b4" stroke="none" stroke-width="0.8" />
<path d="M170,939.8 V890.55 H180 V939.8" fill="none" stroke="#000" stroke-width="0.8"/>
<rect x="185.2" y="946.3" width="10" height="41.7" fill="#979dcf" stroke="none" stroke-width="0.8" />
<line x1="185.2" y1="946.3" x2="185.2" y2="988" stroke="#000" stroke-width="0.8" />
<line x1="195.2" y1="946.3" x2="195.2" y2="988" stroke="#000" stroke-width="0.8" />
<rect x="185.2" y="906.39" width="10" height="33.41" fill="#979dcf" stroke="none" stroke-width="0.8" />
<path d="M185.2,939.8 V906.39 H195.2 V939.8" fill="none" stroke="#000" stroke-width="0.8"/>
<rect x="200.3" y="946.3" width="10" height="41.7" fill="#659dc4" stroke="none" stroke-width="0.8" />
<line x1="200.3" y1="946.3" x2="200.3" y2="988" stroke="#000" stroke-width="0.8" />
<line x1="210.3" y1="946.3" x2="210.3" y2="988" stroke="#000" stroke-width="0.8" />
<rect x="200.3" y="904.68" width="10" height="35.12" fill="#659dc4" stroke="none" stroke-width="0.8" />
<path d="M200.3,939.8 V904.68 H210.3 V939.8" fill="none" stroke="#000" stroke-width="0.8"/>
<line x1="144.6" y1="932.09" x2="144.6" y2="924.81" stroke="#000" stroke-width="0.8" />
<line x1="142.2" y1="924.81" x2="147" y2="924.81" stroke="#000" stroke-width="0.8" />
<line x1="159.7" y1="901.25" x2="159.7" y2="896.97" stroke="#000" stroke-width="0.8" />
<line x1="157.3" y1="896.97" x2="162.1" y2="896.97" stroke="#000" stroke-width="0.8" />
<line x1="175" y1="890.55" x2="175" y2="886.69" stroke="#000" stroke-width="0.8" />
<line x1="172.6" y1="886.69" x2="177.4" y2="886.69" stroke="#000" stroke-width="0.8" />
<line x1="190.2" y1="906.39" x2="190.2" y2="897.83" stroke="#000" stroke-width="0.8" />
<line x1="187.8" y1="897.83" x2="192.6" y2="897.83" stroke="#000" stroke-width="0.8" />
<line x1="205.3" y1="904.68" x2="205.3" y2="897.83" stroke="#000" stroke-width="0.8" />
<line x1="202.9" y1="897.83" x2="207.7" y2="897.83" stroke="#000" stroke-width="0.8" />
<circle cx="54.7" cy="948.86" r="1.55" fill="#000"/>
<circle cx="57.7" cy="948.65" r="1.55" fill="#000"/>
<circle cx="60.7" cy="948.86" r="1.55" fill="#000"/>
<circle cx="56.7" cy="954.22" r="1.55" fill="#000"/>
<circle cx="59.7" cy="949.27" r="1.55" fill="#000"/>
<circle cx="70.2" cy="948.24" r="1.55" fill="#000"/>
<circle cx="72.2" cy="947.83" r="1.55" fill="#000"/>
<circle cx="75.2" cy="948.86" r="1.55" fill="#000"/>
<circle cx="77.2" cy="948.45" r="1.55" fill="#000"/>
<circle cx="73.2" cy="949.27" r="1.55" fill="#000"/>
<circle cx="85.5" cy="949.07" r="1.55" fill="#000"/>
<circle cx="87.5" cy="949.48" r="1.55" fill="#000"/>
<circle cx="89.5" cy="949.68" r="1.55" fill="#000"/>
<circle cx="91.5" cy="949.27" r="1.55" fill="#000"/>
<circle cx="92.5" cy="949.68" r="1.55" fill="#000"/>
<circle cx="100.7" cy="947.83" r="1.55" fill="#000"/>
<circle cx="104.7" cy="947.62" r="1.55" fill="#000"/>
<circle cx="107.7" cy="947.83" r="1.55" fill="#000"/>
<circle cx="116" cy="947.62" r="1.55" fill="#000"/>
<circle cx="120" cy="947.42" r="1.55" fill="#000"/>
<circle cx="123" cy="947.83" r="1.55" fill="#000"/>
<circle cx="144.6" cy="924.81" r="1.55" fill="#000"/>
<circle cx="141.1" cy="931.23" r="1.55" fill="#000"/>
<circle cx="148.1" cy="931.23" r="1.55" fill="#000"/>
<circle cx="141.1" cy="935.52" r="1.55" fill="#000"/>
<circle cx="148.1" cy="935.09" r="1.55" fill="#000"/>
<circle cx="158.7" cy="899.11" r="1.55" fill="#000"/>
<circle cx="162.2" cy="896.54" r="1.55" fill="#000"/>
<circle cx="158.2" cy="902.11" r="1.55" fill="#000"/>
<circle cx="162.2" cy="902.11" r="1.55" fill="#000"/>
<circle cx="159.7" cy="908.53" r="1.55" fill="#000"/>
<circle cx="175" cy="886.69" r="1.55" fill="#000"/>
<circle cx="172" cy="892.69" r="1.55" fill="#000"/>
<circle cx="178" cy="892.69" r="1.55" fill="#000"/>
<circle cx="174" cy="890.55" r="1.55" fill="#000"/>
<circle cx="177" cy="891.4" r="1.55" fill="#000"/>
<circle cx="187.2" cy="897.83" r="1.55" fill="#000"/>
<circle cx="192.2" cy="897.83" r="1.55" fill="#000"/>
<circle cx="192.2" cy="902.97" r="1.55" fill="#000"/>
<circle cx="192.2" cy="911.96" r="1.55" fill="#000"/>
<circle cx="192.2" cy="918.38" r="1.55" fill="#000"/>
<circle cx="205.3" cy="897.83" r="1.55" fill="#000"/>
<circle cx="201.8" cy="902.11" r="1.55" fill="#000"/>
<circle cx="208.3" cy="902.54" r="1.55" fill="#000"/>
<circle cx="201.8" cy="909.39" r="1.55" fill="#000"/>
<circle cx="208.3" cy="909.39" r="1.55" fill="#000"/>
<line x1="44.1" y1="988" x2="48.4" y2="988" stroke="#000" stroke-width="1.4" />
<text transform="translate(42.8 991.3) scale(0.9 1)" font-size="9.3" text-anchor="end" fill="#000" font-weight="bold" >0</text>
<line x1="44.1" y1="967.4" x2="48.4" y2="967.4" stroke="#000" stroke-width="1.4" />
<text transform="translate(42.8 970.7) scale(0.9 1)" font-size="9.3" text-anchor="end" fill="#000" font-weight="bold" >100</text>
<line x1="44.1" y1="946.8" x2="48.4" y2="946.8" stroke="#000" stroke-width="1.4" />
<text transform="translate(42.8 950.1) scale(0.9 1)" font-size="9.3" text-anchor="end" fill="#000" font-weight="bold" >200</text>
<line x1="44.1" y1="939.8" x2="48.4" y2="939.8" stroke="#000" stroke-width="1.4" />
<text transform="translate(42.8 943.1) scale(0.9 1)" font-size="9.3" text-anchor="end" fill="#000" font-weight="bold" >300</text>
<line x1="44.1" y1="926.95" x2="48.4" y2="926.95" stroke="#000" stroke-width="1.4" />
<text transform="translate(42.8 930.25) scale(0.9 1)" font-size="9.3" text-anchor="end" fill="#000" font-weight="bold" >330</text>
<line x1="44.1" y1="914.1" x2="48.4" y2="914.1" stroke="#000" stroke-width="1.4" />
<text transform="translate(42.8 917.4) scale(0.9 1)" font-size="9.3" text-anchor="end" fill="#000" font-weight="bold" >360</text>
<line x1="44.1" y1="901.25" x2="48.4" y2="901.25" stroke="#000" stroke-width="1.4" />
<text transform="translate(42.8 904.55) scale(0.9 1)" font-size="9.3" text-anchor="end" fill="#000" font-weight="bold" >390</text>
<line x1="44.1" y1="888.4" x2="48.4" y2="888.4" stroke="#000" stroke-width="1.4" />
<text transform="translate(42.8 891.71) scale(0.9 1)" font-size="9.3" text-anchor="end" fill="#000" font-weight="bold" >420</text>
<line x1="44.1" y1="875.55" x2="48.4" y2="875.55" stroke="#000" stroke-width="1.4" />
<text transform="translate(42.8 878.86) scale(0.9 1)" font-size="9.3" text-anchor="end" fill="#000" font-weight="bold" >450</text>
<line x1="47.7" y1="988" x2="216.3" y2="988" stroke="#000" stroke-width="1.5" />
<line x1="88.5" y1="988" x2="88.5" y2="991.2" stroke="#000" stroke-width="1.3" />
<line x1="175" y1="988" x2="175" y2="991.2" stroke="#000" stroke-width="1.3" />
<line x1="147.3" y1="871" x2="173.3" y2="871" stroke="#444" stroke-width="0.85" />
<text x="161" y="870.49" font-size="8.8" text-anchor="middle" fill="#000" font-weight="bold" letter-spacing="1.4">****</text>
<line x1="160.2" y1="880.5" x2="173.3" y2="880.5" stroke="#444" stroke-width="0.85" />
<text x="167.45" y="879.99" font-size="8.8" text-anchor="middle" fill="#000" font-weight="bold" letter-spacing="1.4">*</text>
<line x1="175" y1="869" x2="205.6" y2="869" stroke="#444" stroke-width="0.85" />
<text x="191" y="868.49" font-size="8.8" text-anchor="middle" fill="#000" font-weight="bold" letter-spacing="1.4">**</text>
<line x1="175" y1="880.5" x2="190.2" y2="880.5" stroke="#444" stroke-width="0.85" />
<text x="183.3" y="879.99" font-size="8.8" text-anchor="middle" fill="#000" font-weight="bold" letter-spacing="1.4">**</text>
<line x1="48.3" y1="875.1" x2="48.3" y2="939.6" stroke="#000" stroke-width="1.5" />
<line x1="48.3" y1="947.2" x2="48.3" y2="988.7" stroke="#000" stroke-width="1.5" />
<line x1="45.1" y1="938.3" x2="50" y2="942.9" stroke="#000" stroke-width="1.3" />
<line x1="45.4" y1="943.6" x2="50" y2="948.1" stroke="#000" stroke-width="1.3" />
<text x="22.2" y="931.3" font-size="11.5" text-anchor="middle" fill="#000" font-weight="bold" transform="rotate(-90 22.2 931.3)" >IFN- γ (pg/ml)</text>
<rect x="266" y="926.83" width="10" height="60.37" fill="#b8b8b8" stroke="#000" stroke-width="0.8" />
<rect x="281.7" y="927.77" width="10" height="59.43" fill="#f4abb3" stroke="#000" stroke-width="0.8" />
<rect x="297" y="924" width="10" height="63.2" fill="#9e79b4" stroke="#000" stroke-width="0.8" />
<rect x="312.7" y="924" width="10" height="63.2" fill="#979dcf" stroke="#000" stroke-width="0.8" />
<rect x="328.1" y="924.94" width="10" height="62.26" fill="#659dc4" stroke="#000" stroke-width="0.8" />
<rect x="354.1" y="901.36" width="10" height="85.84" fill="#b8b8b8" stroke="#000" stroke-width="0.8" />
<rect x="369.5" y="903.25" width="10" height="83.95" fill="#f4abb3" stroke="#000" stroke-width="0.8" />
<rect x="385.2" y="901.36" width="10" height="85.84" fill="#9e79b4" stroke="#000" stroke-width="0.8" />
<rect x="400.5" y="894.76" width="10" height="92.44" fill="#979dcf" stroke="#000" stroke-width="0.8" />
<rect x="416.4" y="896.64" width="10" height="90.56" fill="#659dc4" stroke="#000" stroke-width="0.8" />
<line x1="286.7" y1="927.77" x2="286.7" y2="924.94" stroke="#000" stroke-width="0.8" />
<line x1="284.3" y1="924.94" x2="289.1" y2="924.94" stroke="#000" stroke-width="0.8" />
<line x1="359.1" y1="901.36" x2="359.1" y2="897.59" stroke="#000" stroke-width="0.8" />
<line x1="356.7" y1="897.59" x2="361.5" y2="897.59" stroke="#000" stroke-width="0.8" />
<line x1="390.2" y1="901.36" x2="390.2" y2="895.7" stroke="#000" stroke-width="0.8" />
<line x1="387.8" y1="895.7" x2="392.6" y2="895.7" stroke="#000" stroke-width="0.8" />
<circle cx="268" cy="927.77" r="1.55" fill="#000"/>
<circle cx="270" cy="925.89" r="1.55" fill="#000"/>
<circle cx="272" cy="924" r="1.55" fill="#000"/>
<circle cx="274" cy="926.83" r="1.55" fill="#000"/>
<circle cx="271" cy="928.72" r="1.55" fill="#000"/>
<circle cx="283.7" cy="927.77" r="1.55" fill="#000"/>
<circle cx="285.7" cy="928.72" r="1.55" fill="#000"/>
<circle cx="287.7" cy="926.83" r="1.55" fill="#000"/>
<circle cx="289.7" cy="927.77" r="1.55" fill="#000"/>
<circle cx="286.7" cy="924.94" r="1.55" fill="#000"/>
<circle cx="299" cy="924" r="1.55" fill="#000"/>
<circle cx="301" cy="923.06" r="1.55" fill="#000"/>
<circle cx="303" cy="924" r="1.55" fill="#000"/>
<circle cx="305" cy="924" r="1.55" fill="#000"/>
<circle cx="302" cy="924" r="1.55" fill="#000"/>
<circle cx="314.7" cy="924.94" r="1.55" fill="#000"/>
<circle cx="316.7" cy="922.11" r="1.55" fill="#000"/>
<circle cx="318.7" cy="924.94" r="1.55" fill="#000"/>
<circle cx="320.7" cy="924" r="1.55" fill="#000"/>
<circle cx="317.7" cy="923.06" r="1.55" fill="#000"/>
<circle cx="330.1" cy="926.83" r="1.55" fill="#000"/>
<circle cx="332.1" cy="923.06" r="1.55" fill="#000"/>
<circle cx="334.1" cy="924" r="1.55" fill="#000"/>
<circle cx="336.1" cy="926.83" r="1.55" fill="#000"/>
<circle cx="333.1" cy="924.94" r="1.55" fill="#000"/>
<circle cx="356.1" cy="901.36" r="1.55" fill="#000"/>
<circle cx="362.1" cy="901.36" r="1.55" fill="#000"/>
<circle cx="356.1" cy="898.53" r="1.55" fill="#000"/>
<circle cx="362.1" cy="898.53" r="1.55" fill="#000"/>
<circle cx="359.1" cy="903.25" r="1.55" fill="#000"/>
<circle cx="371.5" cy="902.3" r="1.55" fill="#000"/>
<circle cx="373.5" cy="903.25" r="1.55" fill="#000"/>
<circle cx="375.5" cy="903.25" r="1.55" fill="#000"/>
<circle cx="377.5" cy="903.25" r="1.55" fill="#000"/>
<circle cx="374.5" cy="902.3" r="1.55" fill="#000"/>
<circle cx="387.2" cy="900.42" r="1.55" fill="#000"/>
<circle cx="392.2" cy="898.53" r="1.55" fill="#000"/>
<circle cx="390.2" cy="906.08" r="1.55" fill="#000"/>
<circle cx="388.2" cy="902.3" r="1.55" fill="#000"/>
<circle cx="392.2" cy="903.25" r="1.55" fill="#000"/>
<circle cx="402.5" cy="893.81" r="1.55" fill="#000"/>
<circle cx="404.5" cy="895.7" r="1.55" fill="#000"/>
<circle cx="406.5" cy="894.76" r="1.55" fill="#000"/>
<circle cx="408.5" cy="894.76" r="1.55" fill="#000"/>
<circle cx="405.5" cy="895.7" r="1.55" fill="#000"/>
<circle cx="418.4" cy="898.53" r="1.55" fill="#000"/>
<circle cx="421.4" cy="892.87" r="1.55" fill="#000"/>
<circle cx="424.4" cy="896.64" r="1.55" fill="#000"/>
<circle cx="418.4" cy="895.7" r="1.55" fill="#000"/>
<circle cx="423.4" cy="897.59" r="1.55" fill="#000"/>
<line x1="256.9" y1="987.2" x2="261.2" y2="987.2" stroke="#000" stroke-width="1.4" />
<text transform="translate(255.6 990.5) scale(0.9 1)" font-size="9.3" text-anchor="end" fill="#000" font-weight="bold" >0</text>
<line x1="256.9" y1="968.33" x2="261.2" y2="968.33" stroke="#000" stroke-width="1.4" />
<text transform="translate(255.6 971.64) scale(0.9 1)" font-size="9.3" text-anchor="end" fill="#000" font-weight="bold" >20</text>
<line x1="256.9" y1="949.47" x2="261.2" y2="949.47" stroke="#000" stroke-width="1.4" />
<text transform="translate(255.6 952.77) scale(0.9 1)" font-size="9.3" text-anchor="end" fill="#000" font-weight="bold" >40</text>
<line x1="256.9" y1="930.6" x2="261.2" y2="930.6" stroke="#000" stroke-width="1.4" />
<text transform="translate(255.6 933.9) scale(0.9 1)" font-size="9.3" text-anchor="end" fill="#000" font-weight="bold" >60</text>
<line x1="256.9" y1="911.74" x2="261.2" y2="911.74" stroke="#000" stroke-width="1.4" />
<text transform="translate(255.6 915.04) scale(0.9 1)" font-size="9.3" text-anchor="end" fill="#000" font-weight="bold" >80</text>
<line x1="256.9" y1="892.87" x2="261.2" y2="892.87" stroke="#000" stroke-width="1.4" />
<text transform="translate(255.6 896.17) scale(0.9 1)" font-size="9.3" text-anchor="end" fill="#000" font-weight="bold" >100</text>
<line x1="256.9" y1="874" x2="261.2" y2="874" stroke="#000" stroke-width="1.4" />
<text transform="translate(255.6 877.31) scale(0.9 1)" font-size="9.3" text-anchor="end" fill="#000" font-weight="bold" >120</text>
<line x1="260.5" y1="987.2" x2="432.1" y2="987.2" stroke="#000" stroke-width="1.5" />
<line x1="302" y1="987.2" x2="302" y2="990.4" stroke="#000" stroke-width="1.3" />
<line x1="390" y1="987.2" x2="390" y2="990.4" stroke="#000" stroke-width="1.3" />
<line x1="358.7" y1="879.3" x2="391" y2="879.3" stroke="#444" stroke-width="0.85" />
<text x="374.85" y="875" font-size="7.1" text-anchor="middle" fill="#000" font-weight="bold" >ns</text>
<line x1="377" y1="889.7" x2="391" y2="889.7" stroke="#444" stroke-width="0.85" />
<text x="384" y="885.4" font-size="7.1" text-anchor="middle" fill="#000" font-weight="bold" >ns</text>
<line x1="393.4" y1="872.3" x2="422.2" y2="872.3" stroke="#444" stroke-width="0.85" />
<text x="407.8" y="868" font-size="7.1" text-anchor="middle" fill="#000" font-weight="bold" >ns</text>
<line x1="393" y1="884.7" x2="404.8" y2="884.7" stroke="#444" stroke-width="0.85" />
<text x="398.9" y="880.4" font-size="7.1" text-anchor="middle" fill="#000" font-weight="bold" >ns</text>
<line x1="261.2" y1="873.4" x2="261.2" y2="987.9" stroke="#000" stroke-width="1.5" />
<text x="236.4" y="930" font-size="11.7" text-anchor="middle" fill="#000" font-weight="bold" transform="rotate(-90 236.4 930)" >IL-4 (pg/ml)</text>
<rect x="482" y="930.85" width="10" height="54.85" fill="#b8b8b8" stroke="#000" stroke-width="0.8" />
<rect x="498.1" y="931.3" width="10" height="54.4" fill="#f4abb3" stroke="#000" stroke-width="0.8" />
<rect x="514.2" y="930.85" width="10" height="54.85" fill="#9e79b4" stroke="#000" stroke-width="0.8" />
<rect x="530.1" y="931.75" width="10" height="53.95" fill="#979dcf" stroke="#000" stroke-width="0.8" />
<rect x="546.2" y="932.65" width="10" height="53.05" fill="#659dc4" stroke="#000" stroke-width="0.8" />
<rect x="573" y="915.11" width="10" height="70.59" fill="#b8b8b8" stroke="#000" stroke-width="0.8" />
<rect x="589.2" y="906.12" width="10" height="79.58" fill="#f4abb3" stroke="#000" stroke-width="0.8" />
<rect x="605.2" y="893.53" width="10" height="92.17" fill="#9e79b4" stroke="#000" stroke-width="0.8" />
<rect x="621.4" y="913.76" width="10" height="71.94" fill="#979dcf" stroke="#000" stroke-width="0.8" />
<rect x="637.4" y="915.56" width="10" height="70.14" fill="#659dc4" stroke="#000" stroke-width="0.8" />
<line x1="519.2" y1="930.85" x2="519.2" y2="929.05" stroke="#000" stroke-width="0.8" />
<line x1="516.8" y1="929.05" x2="521.6" y2="929.05" stroke="#000" stroke-width="0.8" />
<line x1="594.2" y1="906.12" x2="594.2" y2="900.28" stroke="#000" stroke-width="0.8" />
<line x1="591.8" y1="900.28" x2="596.6" y2="900.28" stroke="#000" stroke-width="0.8" />
<circle cx="484" cy="930.85" r="1.55" fill="#000"/>
<circle cx="486" cy="929.95" r="1.55" fill="#000"/>
<circle cx="488" cy="931.3" r="1.55" fill="#000"/>
<circle cx="490" cy="930.4" r="1.55" fill="#000"/>
<circle cx="487" cy="931.75" r="1.55" fill="#000"/>
<circle cx="500.1" cy="931.3" r="1.55" fill="#000"/>
<circle cx="502.1" cy="930.85" r="1.55" fill="#000"/>
<circle cx="504.1" cy="931.3" r="1.55" fill="#000"/>
<circle cx="506.1" cy="930.85" r="1.55" fill="#000"/>
<circle cx="503.1" cy="931.75" r="1.55" fill="#000"/>
<circle cx="516.2" cy="929.95" r="1.55" fill="#000"/>
<circle cx="522.2" cy="929.05" r="1.55" fill="#000"/>
<circle cx="516.2" cy="932.2" r="1.55" fill="#000"/>
<circle cx="519.2" cy="931.3" r="1.55" fill="#000"/>
<circle cx="522.2" cy="932.2" r="1.55" fill="#000"/>
<circle cx="532.1" cy="930.85" r="1.55" fill="#000"/>
<circle cx="534.1" cy="930.4" r="1.55" fill="#000"/>
<circle cx="536.1" cy="932.2" r="1.55" fill="#000"/>
<circle cx="538.1" cy="931.75" r="1.55" fill="#000"/>
<circle cx="535.1" cy="931.3" r="1.55" fill="#000"/>
<circle cx="548.2" cy="932.2" r="1.55" fill="#000"/>
<circle cx="550.2" cy="931.75" r="1.55" fill="#000"/>
<circle cx="552.2" cy="932.65" r="1.55" fill="#000"/>
<circle cx="554.2" cy="932.2" r="1.55" fill="#000"/>
<circle cx="550.2" cy="934.9" r="1.55" fill="#000"/>
<circle cx="575" cy="913.76" r="1.55" fill="#000"/>
<circle cx="577" cy="915.56" r="1.55" fill="#000"/>
<circle cx="579" cy="914.21" r="1.55" fill="#000"/>
<circle cx="581" cy="916.46" r="1.55" fill="#000"/>
<circle cx="578" cy="917.36" r="1.55" fill="#000"/>
<circle cx="594.2" cy="896.68" r="1.55" fill="#000"/>
<circle cx="591.2" cy="903.87" r="1.55" fill="#000"/>
<circle cx="596.2" cy="907.02" r="1.55" fill="#000"/>
<circle cx="591.2" cy="910.17" r="1.55" fill="#000"/>
<circle cx="597.2" cy="911.52" r="1.55" fill="#000"/>
<circle cx="607.2" cy="894.43" r="1.55" fill="#000"/>
<circle cx="609.2" cy="891.73" r="1.55" fill="#000"/>
<circle cx="611.2" cy="893.53" r="1.55" fill="#000"/>
<circle cx="613.2" cy="893.08" r="1.55" fill="#000"/>
<circle cx="610.2" cy="896.23" r="1.55" fill="#000"/>
<circle cx="623.4" cy="913.76" r="1.55" fill="#000"/>
<circle cx="625.4" cy="912.86" r="1.55" fill="#000"/>
<circle cx="627.4" cy="914.21" r="1.55" fill="#000"/>
<circle cx="629.4" cy="913.76" r="1.55" fill="#000"/>
<circle cx="626.4" cy="914.66" r="1.55" fill="#000"/>
<circle cx="639.4" cy="915.56" r="1.55" fill="#000"/>
<circle cx="641.4" cy="914.66" r="1.55" fill="#000"/>
<circle cx="643.4" cy="916.01" r="1.55" fill="#000"/>
<circle cx="645.4" cy="916.46" r="1.55" fill="#000"/>
<circle cx="642.4" cy="915.11" r="1.55" fill="#000"/>
<line x1="472" y1="985.7" x2="476.3" y2="985.7" stroke="#000" stroke-width="1.4" />
<text transform="translate(470.7 989) scale(0.9 1)" font-size="9.3" text-anchor="end" fill="#000" font-weight="bold" >0</text>
<line x1="472" y1="967.72" x2="476.3" y2="967.72" stroke="#000" stroke-width="1.4" />
<text transform="translate(470.7 971.02) scale(0.9 1)" font-size="9.3" text-anchor="end" fill="#000" font-weight="bold" >4</text>
<line x1="472" y1="949.73" x2="476.3" y2="949.73" stroke="#000" stroke-width="1.4" />
<text transform="translate(470.7 953.03) scale(0.9 1)" font-size="9.3" text-anchor="end" fill="#000" font-weight="bold" >8</text>
<line x1="472" y1="931.75" x2="476.3" y2="931.75" stroke="#000" stroke-width="1.4" />
<text transform="translate(470.7 935.05) scale(0.9 1)" font-size="9.3" text-anchor="end" fill="#000" font-weight="bold" >12</text>
<line x1="472" y1="913.76" x2="476.3" y2="913.76" stroke="#000" stroke-width="1.4" />
<text transform="translate(470.7 917.07) scale(0.9 1)" font-size="9.3" text-anchor="end" fill="#000" font-weight="bold" >16</text>
<line x1="472" y1="895.78" x2="476.3" y2="895.78" stroke="#000" stroke-width="1.4" />
<text transform="translate(470.7 899.08) scale(0.9 1)" font-size="9.3" text-anchor="end" fill="#000" font-weight="bold" >20</text>
<line x1="472" y1="877.8" x2="476.3" y2="877.8" stroke="#000" stroke-width="1.4" />
<text transform="translate(470.7 881.1) scale(0.9 1)" font-size="9.3" text-anchor="end" fill="#000" font-weight="bold" >24</text>
<line x1="475.6" y1="985.7" x2="653.2" y2="985.7" stroke="#000" stroke-width="1.5" />
<line x1="519.2" y1="985.7" x2="519.2" y2="988.9" stroke="#000" stroke-width="1.3" />
<line x1="610.2" y1="985.7" x2="610.2" y2="988.9" stroke="#000" stroke-width="1.3" />
<line x1="580.8" y1="875.3" x2="608.8" y2="875.3" stroke="#444" stroke-width="0.85" />
<text x="595.5" y="874.79" font-size="8.8" text-anchor="middle" fill="#000" font-weight="bold" letter-spacing="1.4">****</text>
<line x1="593.2" y1="887.2" x2="608.8" y2="887.2" stroke="#444" stroke-width="0.85" />
<text x="601.7" y="886.69" font-size="8.8" text-anchor="middle" fill="#000" font-weight="bold" letter-spacing="1.4">**</text>
<line x1="610.5" y1="871.8" x2="639" y2="871.8" stroke="#444" stroke-width="0.85" />
<text x="625.45" y="871.29" font-size="8.8" text-anchor="middle" fill="#000" font-weight="bold" letter-spacing="1.4">****</text>
<line x1="610.5" y1="884.2" x2="626.7" y2="884.2" stroke="#444" stroke-width="0.85" />
<text x="619.3" y="883.69" font-size="8.8" text-anchor="middle" fill="#000" font-weight="bold" letter-spacing="1.4">****</text>
<line x1="476.3" y1="877.2" x2="476.3" y2="986.4" stroke="#000" stroke-width="1.5" />
<text x="453.6" y="930" font-size="13.3" text-anchor="middle" fill="#000" font-weight="bold" transform="rotate(-90 453.6 930)" >Granzyme B (pg/ml)</text>
<text x="49.3" y="1003" font-size="9.8" text-anchor="start" fill="#000" font-weight="bold" >before activation</text>
<text x="140.1" y="1003" font-size="9.8" text-anchor="start" fill="#000" font-weight="bold" >after activation</text>
<text x="261.3" y="1003" font-size="10.05" text-anchor="start" fill="#000" font-weight="bold" >before activation</text>
<text x="354.3" y="1003" font-size="10.05" text-anchor="start" fill="#000" font-weight="bold" >after activation</text>
<text x="477.5" y="1003" font-size="10.4" text-anchor="start" fill="#000" font-weight="bold" >before activation</text>
<text x="572.6" y="1003" font-size="10.4" text-anchor="start" fill="#000" font-weight="bold" >after activation</text>
<rect x="134.9" y="1014" width="18.2" height="7.2" fill="#b8b8b8" stroke="#333" stroke-width="0.7" />
<text x="159.7" y="1021.8" font-size="11.3" text-anchor="start" fill="#000" font-weight="bold" >Control</text>
<rect x="216.9" y="1014" width="18.2" height="7.2" fill="#f4abb3" stroke="#333" stroke-width="0.7" />
<text x="241.9" y="1021.8" font-size="11.3" text-anchor="start" fill="#000" font-weight="bold" >G<tspan font-size="7.2" dy="3">DIII</tspan></text>
<rect x="292" y="1014" width="18.2" height="7.2" fill="#9e79b4" stroke="#333" stroke-width="0.7" />
<text x="316.5" y="1021.8" font-size="11.3" text-anchor="start" fill="#000" font-weight="bold" >G<tspan font-size="7.2" dy="3">DIII</tspan><tspan dy="-3">-Ferritin</tspan></text>
<rect x="407" y="1014" width="18.2" height="7.2" fill="#979dcf" stroke="#333" stroke-width="0.7" />
<text x="432.5" y="1021.8" font-size="11.3" text-anchor="start" fill="#000" font-weight="bold" >G<tspan font-size="7.2" dy="3">DIII</tspan><tspan dy="-3">-Fc</tspan></text>
<rect x="499" y="1014" width="18.2" height="7.2" fill="#659dc4" stroke="#333" stroke-width="0.7" />
<text x="523" y="1021.8" font-size="11.3" text-anchor="start" fill="#000" font-weight="bold" >G</text>
</svg>
</body></html>
